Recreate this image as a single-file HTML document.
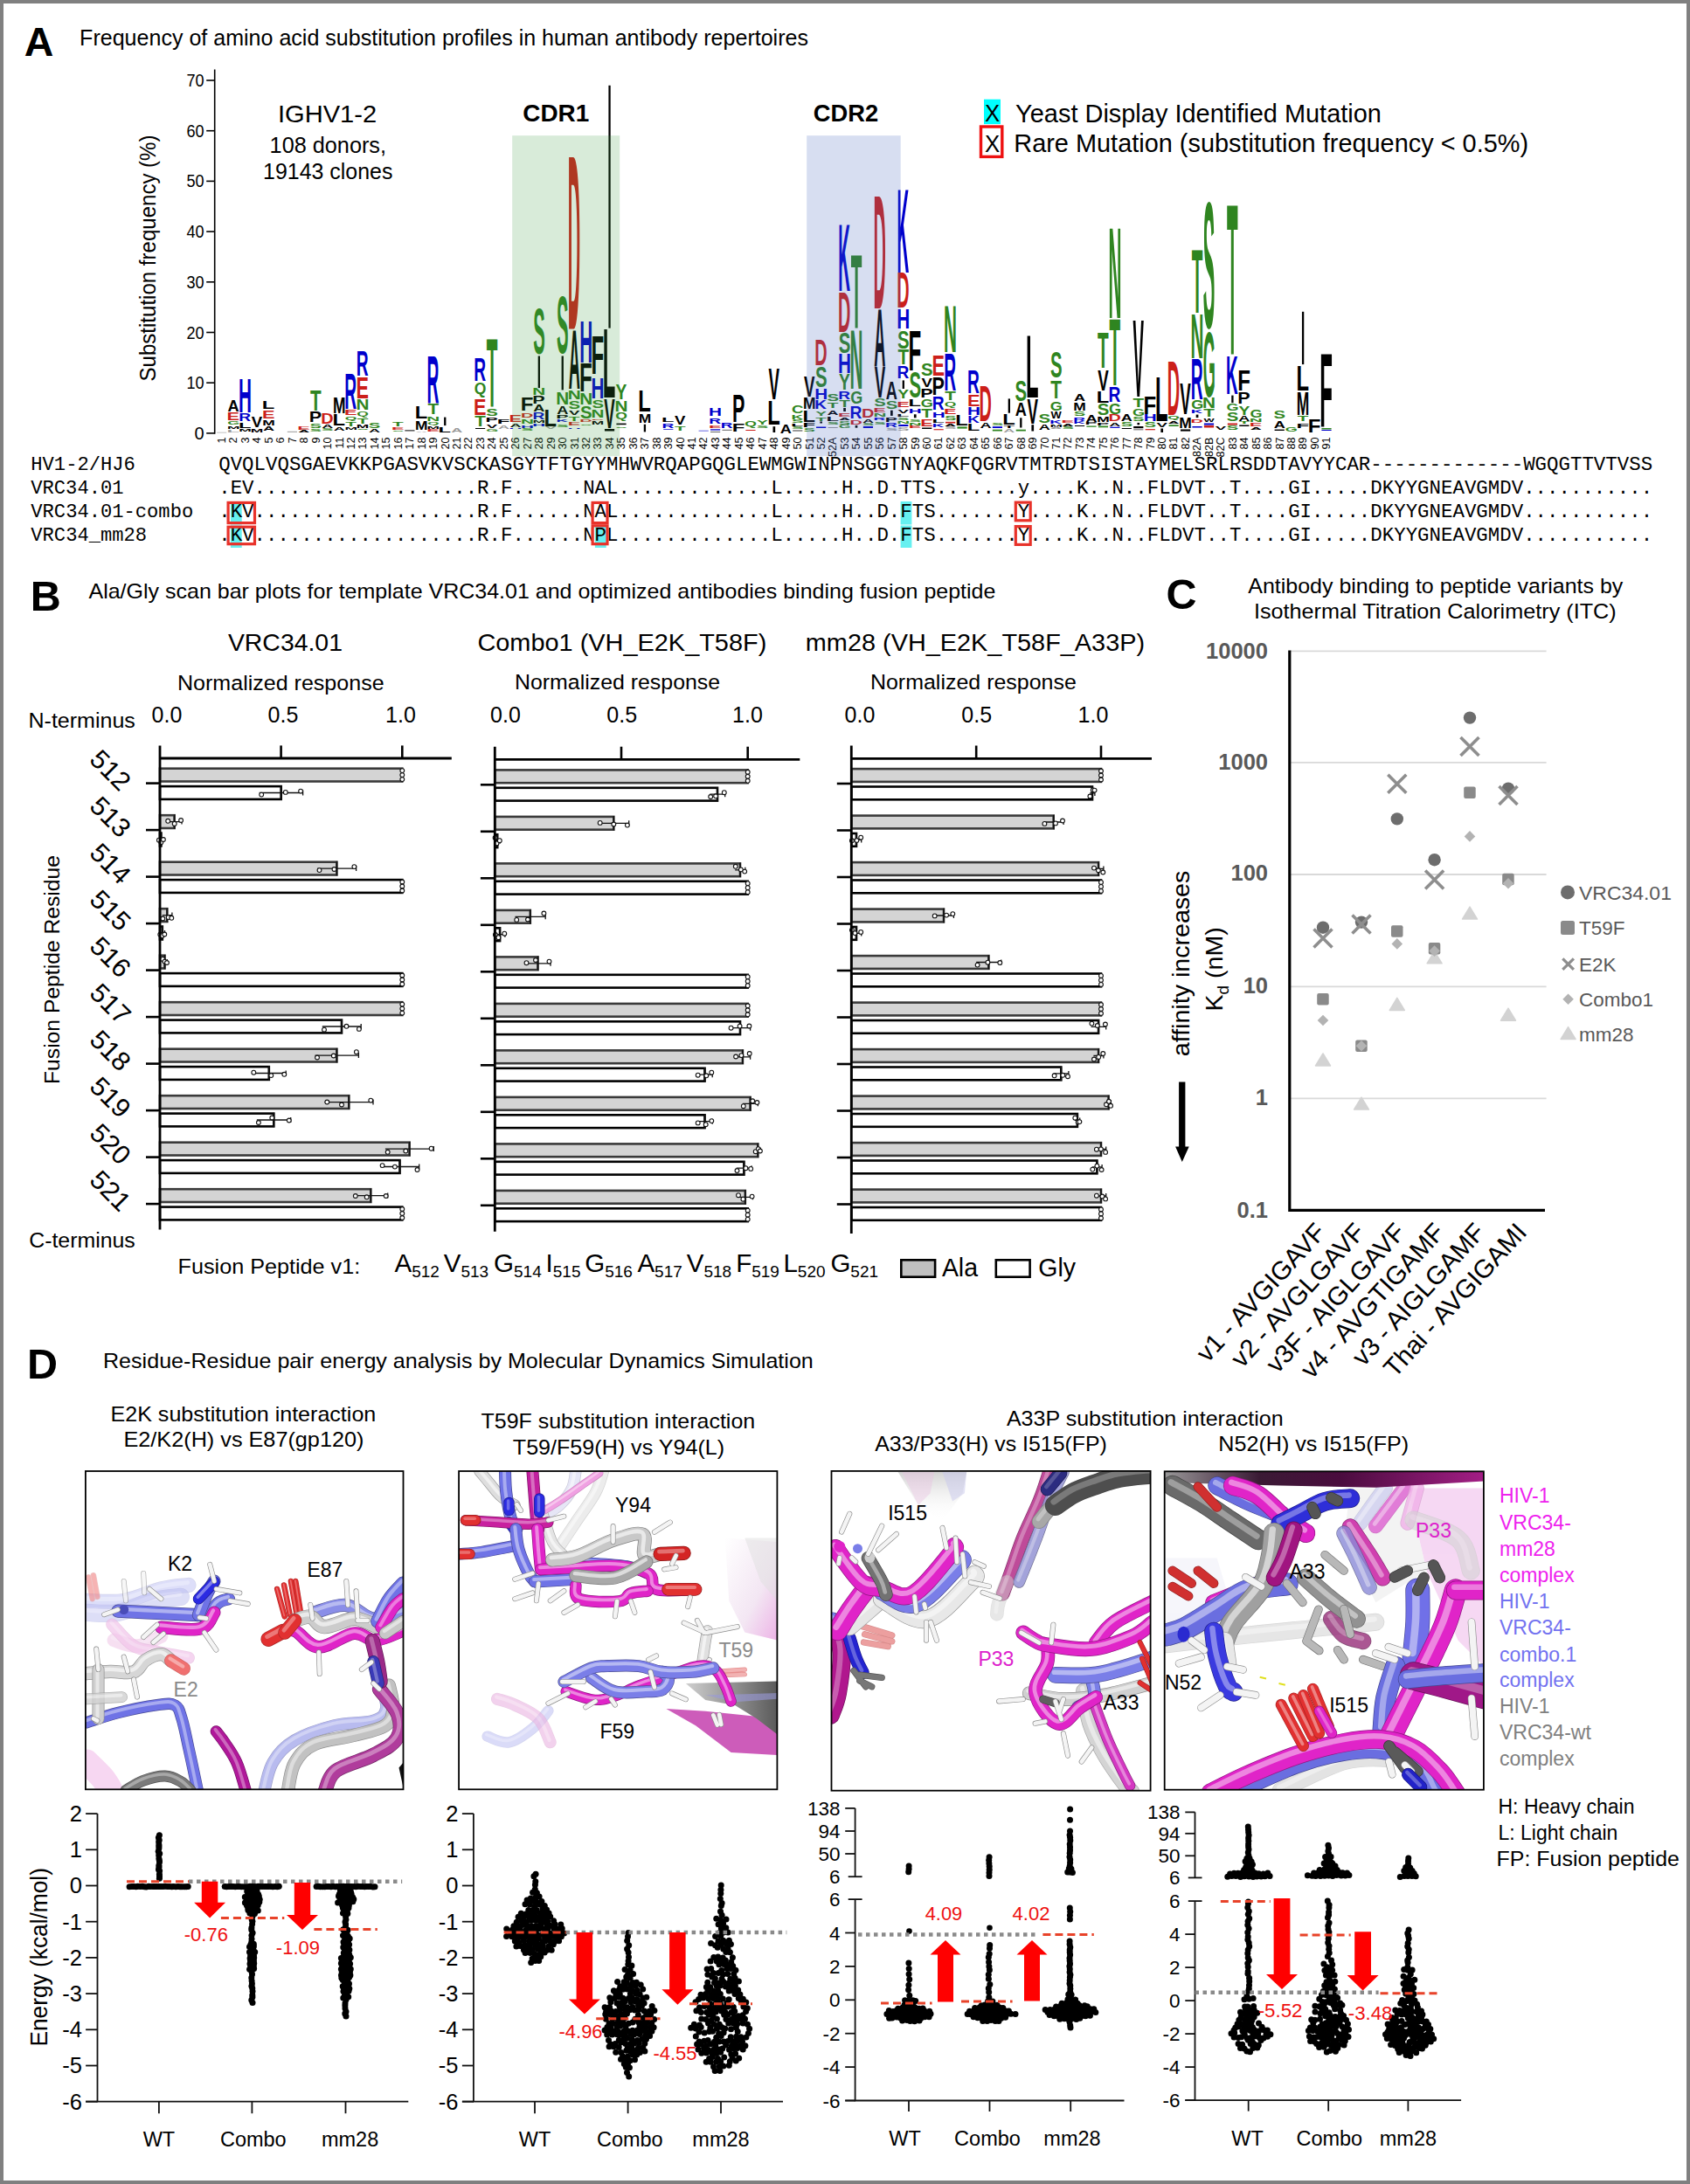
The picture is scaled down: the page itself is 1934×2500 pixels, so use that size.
<!DOCTYPE html>
<html><head><meta charset="utf-8"><title>Figure</title>
<style>
html,body{margin:0;padding:0;background:#fff;}
#fig{position:relative;width:1934px;height:2500px;overflow:hidden;background:#fff;}
#fig svg{position:absolute;left:0;top:0;}
#frame{position:absolute;left:0;top:0;width:1926px;height:2492px;border:4px solid #808080;}
</style></head><body><div id="fig">
<svg width="1934" height="2500" viewBox="0 0 1934 2500" style="font-family:'Liberation Sans',Arial,sans-serif">
<text x="27.7" y="64.1" font-size="46.5" font-weight="bold">A</text>
<text x="91.1" y="51.5" font-size="26.3" textLength="833.9" lengthAdjust="spacingAndGlyphs">Frequency of amino acid substitution profiles in human antibody repertoires</text>
<g stroke="#000" stroke-width="1.6" fill="none">
<path d="M245.7 79.5 V496.7"/>
<path d="M236.2 495.9 H245.7"/>
<path d="M236.2 438.2 H245.7"/>
<path d="M236.2 380.5 H245.7"/>
<path d="M236.2 322.8 H245.7"/>
<path d="M236.2 265.1 H245.7"/>
<path d="M236.2 207.4 H245.7"/>
<path d="M236.2 149.7 H245.7"/>
<path d="M236.2 92.0 H245.7"/>
</g>
<text x="233.6" y="502.9" font-size="20.0" text-anchor="end">0</text>
<text x="233.6" y="445.2" font-size="20.0" text-anchor="end" textLength="20.1" lengthAdjust="spacingAndGlyphs">10</text>
<text x="233.6" y="387.5" font-size="20.0" text-anchor="end" textLength="20.1" lengthAdjust="spacingAndGlyphs">20</text>
<text x="233.6" y="329.8" font-size="20.0" text-anchor="end" textLength="20.1" lengthAdjust="spacingAndGlyphs">30</text>
<text x="233.6" y="272.1" font-size="20.0" text-anchor="end" textLength="20.1" lengthAdjust="spacingAndGlyphs">40</text>
<text x="233.6" y="214.4" font-size="20.0" text-anchor="end" textLength="20.1" lengthAdjust="spacingAndGlyphs">50</text>
<text x="233.6" y="156.7" font-size="20.0" text-anchor="end" textLength="20.1" lengthAdjust="spacingAndGlyphs">60</text>
<text x="233.6" y="99.0" font-size="20.0" text-anchor="end" textLength="20.1" lengthAdjust="spacingAndGlyphs">70</text>
<text transform="translate(178.3 295.5) rotate(-90)" text-anchor="middle" font-size="26.5" textLength="282" lengthAdjust="spacingAndGlyphs">Substitution frequency (%)</text>
<g font-size="1" font-weight="bold" style="font-family:'Liberation Sans',Arial,sans-serif">
<rect x="248.10" y="494.80" width="11.20" height="0.60" fill="#9a9a9a"/>
<text transform="matrix(18.1846 0 0 18.0236 260.60 471.00)" fill="#000000">A</text>
<text transform="matrix(21.7455 0 0 11.9188 259.60 481.00)" fill="#cc1f1a">E</text>
<text transform="matrix(18.0793 0 0 5.0847 260.31 486.35)" fill="#2f8520">G</text>
<text transform="matrix(17.4480 0 0 4.2152 259.88 491.10)" fill="#000000">M</text>
<text transform="matrix(23.7732 0 0 3.6338 259.46 494.50)" fill="#9a9a9a">L</text>
<text transform="matrix(20.7522 0 0 55.0881 273.11 472.20)" fill="#0000cc">H</text>
<text transform="matrix(19.2197 0 0 12.0642 273.21 481.70)" fill="#0000cc">R</text>
<text transform="matrix(23.7732 0 0 9.5932 272.91 490.00)" fill="#000000">L</text>
<text transform="matrix(17.4480 0 0 3.6338 273.33 494.00)" fill="#000000">M</text>
<text transform="matrix(18.6738 0 0 16.4247 287.82 488.80)" fill="#000000">V</text>
<text transform="matrix(17.4480 0 0 6.1048 286.78 494.70)" fill="#000000">M</text>
<text transform="matrix(23.7732 0 0 12.7909 299.81 468.00)" fill="#000000">L</text>
<text transform="matrix(21.7455 0 0 12.9363 299.95 478.70)" fill="#cc1f1a">E</text>
<text transform="matrix(17.4480 0 0 9.4478 300.23 487.00)" fill="#000000">M</text>
<text transform="matrix(18.1846 0 0 6.8315 300.95 492.90)" fill="#000000">A</text>
<rect x="328.80" y="493.80" width="11.20" height="1.00" fill="#9a9a9a"/>
<text transform="matrix(21.7455 0 0 5.0873 340.30 491.70)" fill="#cc1f1a">E</text>
<text transform="matrix(18.1846 0 0 3.4884 341.30 495.30)" fill="#000000">A</text>
<text transform="matrix(20.7177 0 0 33.5762 354.97 469.80)" fill="#2f8520">T</text>
<text transform="matrix(21.5579 0 0 17.1515 353.76 483.40)" fill="#000000">P</text>
<text transform="matrix(20.3632 0 0 6.6383 354.61 490.44)" fill="#2f8520">S</text>
<text transform="matrix(20.3632 0 0 3.5310 354.61 493.97)" fill="#2f8520">S</text>
<text transform="matrix(19.8930 0 0 17.1515 367.32 484.60)" fill="#cc1f1a">D</text>
<text transform="matrix(18.1846 0 0 5.2326 368.20 490.00)" fill="#000000">A</text>
<text transform="matrix(20.3632 0 0 2.8248 368.06 492.97)" fill="#2f8520">S</text>
<text transform="matrix(17.4480 0 0 25.0004 380.93 472.80)" fill="#000000">M</text>
<text transform="matrix(23.7732 0 0 18.8957 380.51 487.00)" fill="#000000">L</text>
<text transform="matrix(18.1846 0 0 6.2501 381.65 492.50)" fill="#000000">A</text>
<text transform="matrix(19.2197 0 0 56.6870 394.26 468.00)" fill="#0000cc">R</text>
<text transform="matrix(21.7455 0 0 8.5757 394.10 475.10)" fill="#cc1f1a">E</text>
<text transform="matrix(17.5584 0 0 5.9217 394.83 481.03)" fill="#2f8520">Q</text>
<text transform="matrix(20.7177 0 0 6.9769 395.32 488.20)" fill="#2f8520">T</text>
<text transform="matrix(17.4480 0 0 3.4884 394.38 491.70)" fill="#000000">M</text>
<text transform="matrix(19.2197 0 0 40.4077 407.71 429.60)" fill="#0000cc">R</text>
<text transform="matrix(21.7455 0 0 35.1750 407.55 455.60)" fill="#cc1f1a">E</text>
<text transform="matrix(20.7522 0 0 17.1515 407.61 469.20)" fill="#2f8520">N</text>
<text transform="matrix(17.5584 0 0 7.2624 408.28 476.07)" fill="#2f8520">Q</text>
<text transform="matrix(20.7177 0 0 8.5757 408.77 484.60)" fill="#2f8520">T</text>
<text transform="matrix(17.4480 0 0 5.2326 407.83 490.00)" fill="#000000">M</text>
<text transform="matrix(20.3632 0 0 2.1186 408.41 492.48)" fill="#2f8520">S</text>
<text transform="matrix(20.3632 0 0 8.3332 421.86 489.92)" fill="#2f8520">S</text>
<text transform="matrix(18.1846 0 0 5.0873 422.00 494.80)" fill="#000000">A</text>
<text transform="matrix(20.7177 0 0 6.8315 449.12 488.30)" fill="#2f8520">T</text>
<text transform="matrix(21.7455 0 0 2.6163 447.90 491.80)" fill="#cc1f1a">E</text>
<text transform="matrix(20.3632 0 0 1.6949 448.76 494.18)" fill="#2f8520">S</text>
<rect x="463.30" y="492.40" width="11.20" height="1.00" fill="#000000"/>
<text transform="matrix(23.7732 0 0 19.7678 474.66 479.40)" fill="#000000">L</text>
<text transform="matrix(17.4480 0 0 14.5351 475.08 491.80)" fill="#000000">M</text>
<text transform="matrix(18.1846 0 0 2.1803 475.80 494.50)" fill="#9a9a9a">A</text>
<text transform="matrix(19.2197 0 0 77.4722 488.41 461.10)" fill="#0000cc">R</text>
<text transform="matrix(20.7177 0 0 16.2793 489.47 474.00)" fill="#2f8520">T</text>
<text transform="matrix(20.7522 0 0 7.4129 488.31 481.50)" fill="#2f8520">N</text>
<text transform="matrix(17.5584 0 0 3.9105 488.98 485.73)" fill="#2f8520">Q</text>
<text transform="matrix(17.4480 0 0 3.3431 488.53 490.60)" fill="#000000">M</text>
<text transform="matrix(21.7455 0 0 2.6163 488.25 493.60)" fill="#cc1f1a">E</text>
<rect x="508.10" y="477.60" width="2.30" height="9.50" fill="#000000"/>
<text transform="matrix(23.7732 0 0 9.4478 501.56 495.40)" fill="#000000">L</text>
<text transform="matrix(18.1846 0 0 7.7036 516.15 494.80)" fill="#9a9a9a">A</text>
<text transform="matrix(19.2197 0 0 36.0471 542.21 436.20)" fill="#0000cc">R</text>
<text transform="matrix(17.5584 0 0 19.1057 542.78 451.34)" fill="#2f8520">Q</text>
<text transform="matrix(21.7455 0 0 25.0004 542.05 474.70)" fill="#cc1f1a">E</text>
<text transform="matrix(20.7177 0 0 16.4247 543.27 488.30)" fill="#2f8520">T</text>
<rect x="544.00" y="490.00" width="11.20" height="1.00" fill="#000000"/>
<text transform="matrix(20.7177 0 0 110.9031 556.72 465.20)" fill="#2f8520">T</text>
<text transform="matrix(20.3632 0 0 11.7230 556.36 475.79)" fill="#2f8520">S</text>
<text transform="matrix(21.5579 0 0 6.9769 555.51 483.00)" fill="#000000">P</text>
<text transform="matrix(18.6738 0 0 6.1048 556.82 489.50)" fill="#000000">V</text>
<text transform="matrix(18.0793 0 0 3.3898 556.21 494.17)" fill="#2f8520">G</text>
<text transform="matrix(24.0477 0 0 7.7036 568.79 485.30)" fill="#000000">F</text>
<text transform="matrix(18.1846 0 0 5.8141 569.95 491.00)" fill="#9a9a9a">A</text>
<text transform="matrix(21.7455 0 0 10.1746 582.40 483.00)" fill="#cc1f1a">E</text>
<text transform="matrix(18.1846 0 0 5.6687 583.40 488.50)" fill="#000000">A</text>
<text transform="matrix(20.7522 0 0 2.1803 582.46 491.00)" fill="#0000cc">H</text>
<text transform="matrix(24.0477 0 0 22.6748 595.69 469.80)" fill="#000000">F</text>
<text transform="matrix(19.8930 0 0 7.9943 595.97 478.40)" fill="#cc1f1a">D</text>
<text transform="matrix(20.7522 0 0 7.7036 595.91 484.70)" fill="#2f8520">N</text>
<text transform="matrix(20.7522 0 0 4.3605 595.91 489.50)" fill="#0000cc">H</text>
<text transform="matrix(20.3632 0 0 2.8248 596.71 492.97)" fill="#2f8520">S</text>
<text transform="matrix(20.3632 0 0 74.8579 610.16 405.27)" fill="#2f8520">S</text>
<rect x="615.70" y="407.50" width="2.30" height="36.60" fill="#000000"/>
<text transform="matrix(20.7522 0 0 11.3374 609.36 451.90)" fill="#2f8520">N</text>
<text transform="matrix(21.5579 0 0 13.5177 609.31 462.00)" fill="#000000">P</text>
<text transform="matrix(18.1846 0 0 10.3199 610.30 471.40)" fill="#000000">A</text>
<text transform="matrix(19.2197 0 0 10.1746 609.46 479.90)" fill="#0000cc">R</text>
<text transform="matrix(17.4480 0 0 3.6338 609.58 484.00)" fill="#000000">M</text>
<text transform="matrix(20.7522 0 0 2.9070 609.36 488.00)" fill="#0000cc">H</text>
<text transform="matrix(23.7732 0 0 28.3435 622.61 487.70)" fill="#000000">L</text>
<text transform="matrix(18.6738 0 0 2.9070 624.07 491.00)" fill="#9a9a9a">V</text>
<text transform="matrix(20.3632 0 0 92.3719 637.06 404.30)" fill="#2f8520">S</text>
<rect x="642.60" y="407.50" width="2.30" height="38.90" fill="#000000"/>
<text transform="matrix(20.7522 0 0 20.3492 636.26 462.80)" fill="#2f8520">N</text>
<text transform="matrix(18.1846 0 0 12.5002 637.20 473.70)" fill="#000000">A</text>
<text transform="matrix(21.5579 0 0 5.8141 636.21 479.30)" fill="#000000">P</text>
<text transform="matrix(18.8856 0 0 3.6338 636.39 483.30)" fill="#0000cc">K</text>
<text transform="matrix(20.3632 0 0 4.2372 637.06 488.96)" fill="#2f8520">S</text>
<text transform="matrix(19.8930 0 0 285.3246 649.77 376.40)" fill="#cc1f1a">D</text>
<text transform="matrix(18.1846 0 0 96.2226 650.65 444.90)" fill="#000000">A</text>
<text transform="matrix(20.7522 0 0 14.8258 649.71 456.60)" fill="#2f8520">N</text>
<text transform="matrix(20.3632 0 0 13.1354 650.51 468.07)" fill="#2f8520">S</text>
<text transform="matrix(18.6738 0 0 7.9943 650.97 475.30)" fill="#000000">V</text>
<text transform="matrix(20.7177 0 0 6.8315 650.87 481.50)" fill="#2f8520">T</text>
<text transform="matrix(21.7455 0 0 4.6512 649.65 487.00)" fill="#cc1f1a">E</text>
<text transform="matrix(20.7522 0 0 2.1803 649.71 490.50)" fill="#0000cc">H</text>
<text transform="matrix(20.7522 0 0 69.0419 663.16 414.50)" fill="#0000cc">H</text>
<text transform="matrix(24.0477 0 0 46.3671 662.94 448.00)" fill="#000000">F</text>
<text transform="matrix(20.7522 0 0 19.1864 663.16 462.80)" fill="#2f8520">N</text>
<text transform="matrix(20.3632 0 0 20.9037 663.96 478.90)" fill="#2f8520">S</text>
<text transform="matrix(19.8930 0 0 3.4884 663.22 483.10)" fill="#cc1f1a">D</text>
<text transform="matrix(20.3632 0 0 2.2599 663.96 486.78)" fill="#2f8520">S</text>
<text transform="matrix(24.0477 0 0 63.3732 676.39 427.70)" fill="#000000">F</text>
<text transform="matrix(20.7522 0 0 32.8494 676.61 455.80)" fill="#0000cc">H</text>
<text transform="matrix(20.3632 0 0 13.2767 677.41 467.37)" fill="#2f8520">S</text>
<text transform="matrix(20.7522 0 0 12.5002 676.61 477.60)" fill="#2f8520">N</text>
<text transform="matrix(19.8930 0 0 2.3256 676.67 480.70)" fill="#cc1f1a">D</text>
<text transform="matrix(17.4480 0 0 4.7966 676.83 485.50)" fill="#000000">M</text>
<rect x="696.40" y="97.80" width="2.30" height="277.80" fill="#000000"/>
<text transform="matrix(23.7732 0 0 113.2287 689.86 455.00)" fill="#000000">L</text>
<text transform="matrix(18.6738 0 0 47.5299 691.32 490.00)" fill="#000000">V</text>
<rect x="691.95" y="491.00" width="11.20" height="2.50" fill="#000000"/>
<text transform="matrix(19.2493 0 0 23.8376 704.57 456.60)" fill="#2f8520">Y</text>
<text transform="matrix(20.7522 0 0 17.0061 703.51 471.40)" fill="#2f8520">N</text>
<text transform="matrix(17.5584 0 0 10.5026 704.18 480.23)" fill="#2f8520">Q</text>
<rect x="705.40" y="484.60" width="11.20" height="1.60" fill="#000000"/>
<text transform="matrix(20.3632 0 0 2.1186 704.31 489.98)" fill="#2f8520">S</text>
<text transform="matrix(23.7732 0 0 35.1750 730.21 470.80)" fill="#000000">L</text>
<text transform="matrix(17.4480 0 0 15.4072 730.63 483.90)" fill="#000000">M</text>
<rect x="736.75" y="485.70" width="2.30" height="8.70" fill="#000000"/>
<text transform="matrix(23.7732 0 0 7.2676 757.11 483.30)" fill="#000000">L</text>
<text transform="matrix(19.2197 0 0 7.2676 757.41 490.10)" fill="#0000cc">R</text>
<rect x="759.20" y="491.30" width="11.20" height="0.70" fill="#0000cc"/>
<text transform="matrix(18.6738 0 0 14.3898 772.02 485.70)" fill="#000000">V</text>
<text transform="matrix(20.7177 0 0 7.2676 771.92 492.60)" fill="#2f8520">T</text>
<rect x="799.55" y="492.80" width="11.20" height="0.60" fill="#0000cc"/>
<text transform="matrix(20.7522 0 0 12.6456 811.11 476.40)" fill="#0000cc">H</text>
<text transform="matrix(19.2197 0 0 9.0118 811.21 485.10)" fill="#0000cc">R</text>
<text transform="matrix(21.7455 0 0 3.6338 811.05 489.50)" fill="#cc1f1a">E</text>
<rect x="813.00" y="491.30" width="11.20" height="1.30" fill="#0000cc"/>
<rect x="813.00" y="494.40" width="11.20" height="0.60" fill="#000000"/>
<text transform="matrix(19.2197 0 0 8.1397 824.66 490.10)" fill="#0000cc">R</text>
<rect x="826.45" y="491.90" width="11.20" height="0.60" fill="#000000"/>
<text transform="matrix(21.5579 0 0 45.0589 837.96 482.60)" fill="#000000">P</text>
<text transform="matrix(24.0477 0 0 12.6456 837.79 493.80)" fill="#000000">F</text>
<text transform="matrix(17.5584 0 0 9.7205 852.13 488.19)" fill="#2f8520">Q</text>
<rect x="853.35" y="492.00" width="11.20" height="1.00" fill="#cc1f1a"/>
<text transform="matrix(19.2493 0 0 7.1222 865.97 485.70)" fill="#2f8520">Y</text>
<text transform="matrix(20.3632 0 0 4.3785 865.71 490.06)" fill="#2f8520">S</text>
<text transform="matrix(18.6738 0 0 50.5823 879.62 457.20)" fill="#000000">V</text>
<text transform="matrix(23.7732 0 0 38.8088 878.16 485.70)" fill="#000000">L</text>
<rect x="884.51" y="488.20" width="2.68" height="6.80" fill="#000000"/>
<text transform="matrix(18.1846 0 0 14.5351 892.75 495.70)" fill="#000000">A</text>
<text transform="matrix(18.6599 0 0 12.2880 905.88 473.18)" fill="#2f8520">C</text>
<text transform="matrix(18.8856 0 0 7.9943 905.39 480.10)" fill="#2f8520">K</text>
<text transform="matrix(20.3632 0 0 4.9434 906.06 484.45)" fill="#2f8520">S</text>
<text transform="matrix(23.7732 0 0 3.1977 905.06 487.70)" fill="#000000">L</text>
<text transform="matrix(20.3632 0 0 3.5310 906.06 490.97)" fill="#2f8520">S</text>
<rect x="907.15" y="492.00" width="11.20" height="2.00" fill="#9a9a9a"/>
<text transform="matrix(18.6738 0 0 32.9947 919.97 453.90)" fill="#000000">V</text>
<text transform="matrix(17.4480 0 0 17.8782 918.93 468.30)" fill="#000000">M</text>
<text transform="matrix(23.7732 0 0 19.0410 918.51 482.80)" fill="#000000">L</text>
<text transform="matrix(24.0477 0 0 7.1222 918.49 489.00)" fill="#000000">F</text>
<text transform="matrix(20.3632 0 0 4.9434 919.51 493.95)" fill="#2f8520">S</text>
<text transform="matrix(19.8930 0 0 42.0065 932.22 418.20)" fill="#cc1f1a">D</text>
<text transform="matrix(20.3632 0 0 33.8979 932.96 443.27)" fill="#2f8520">S</text>
<text transform="matrix(20.7522 0 0 17.0061 932.16 457.40)" fill="#0000cc">H</text>
<text transform="matrix(18.8856 0 0 13.9537 932.29 468.30)" fill="#0000cc">K</text>
<text transform="matrix(19.2493 0 0 7.9943 933.22 475.90)" fill="#2f8520">Y</text>
<text transform="matrix(20.7177 0 0 5.9594 933.32 481.60)" fill="#2f8520">T</text>
<rect x="938.31" y="482.50" width="2.68" height="2.00" fill="#000000"/>
<rect x="934.05" y="488.50" width="11.20" height="1.50" fill="#0000cc"/>
<text transform="matrix(20.3632 0 0 10.5931 946.41 459.30)" fill="#2f8520">S</text>
<text transform="matrix(20.7177 0 0 9.0118 946.77 467.00)" fill="#2f8520">T</text>
<text transform="matrix(18.1846 0 0 6.9769 946.55 475.20)" fill="#000000">A</text>
<text transform="matrix(23.7732 0 0 6.9769 945.41 482.10)" fill="#000000">L</text>
<text transform="matrix(20.3632 0 0 4.0960 946.41 486.36)" fill="#2f8520">S</text>
<rect x="947.50" y="489.00" width="11.20" height="1.00" fill="#9a9a9a"/>
<text transform="matrix(18.8856 0 0 109.8856 959.19 333.00)" fill="#0000cc">K</text>
<text transform="matrix(19.8930 0 0 64.9720 959.12 379.70)" fill="#cc1f1a">D</text>
<text transform="matrix(20.3632 0 0 32.9092 959.86 404.08)" fill="#2f8520">S</text>
<text transform="matrix(20.7522 0 0 30.9598 959.06 427.10)" fill="#0000cc">H</text>
<text transform="matrix(19.2493 0 0 26.0179 960.12 446.40)" fill="#2f8520">Y</text>
<text transform="matrix(19.2197 0 0 13.0816 959.16 457.40)" fill="#0000cc">R</text>
<text transform="matrix(20.7177 0 0 10.0292 960.22 465.60)" fill="#2f8520">T</text>
<rect x="965.21" y="467.00" width="2.68" height="4.00" fill="#000000"/>
<text transform="matrix(21.7455 0 0 5.9594 959.00 477.30)" fill="#cc1f1a">E</text>
<text transform="matrix(18.1846 0 0 3.9245 960.00 481.40)" fill="#000000">A</text>
<text transform="matrix(20.3632 0 0 4.5197 959.86 485.96)" fill="#2f8520">S</text>
<text transform="matrix(18.0793 0 0 4.5197 959.71 489.96)" fill="#2f8520">G</text>
<text transform="matrix(20.7177 0 0 120.9323 973.67 376.30)" fill="#2f8520">T</text>
<text transform="matrix(20.7522 0 0 96.9493 972.51 445.00)" fill="#2f8520">N</text>
<text transform="matrix(18.0793 0 0 20.4800 973.16 462.00)" fill="#2f8520">G</text>
<text transform="matrix(19.2197 0 0 21.0759 972.61 478.70)" fill="#0000cc">R</text>
<text transform="matrix(19.8930 0 0 7.9943 972.57 485.50)" fill="#cc1f1a">D</text>
<rect x="978.66" y="486.90" width="2.68" height="2.80" fill="#000000"/>
<text transform="matrix(19.8930 0 0 14.0991 986.02 478.00)" fill="#cc1f1a">D</text>
<text transform="matrix(18.1846 0 0 6.1048 986.90 483.50)" fill="#000000">A</text>
<text transform="matrix(20.3632 0 0 3.1073 986.76 486.97)" fill="#2f8520">S</text>
<rect x="987.85" y="488.00" width="11.20" height="2.00" fill="#0000cc"/>
<text transform="matrix(19.8930 0 0 184.7415 999.47 352.90)" fill="#cc1f1a">D</text>
<text transform="matrix(18.1846 0 0 93.8969 1000.35 419.60)" fill="#000000">A</text>
<text transform="matrix(18.6738 0 0 49.8555 1000.67 454.60)" fill="#000000">V</text>
<text transform="matrix(20.3632 0 0 12.5705 1000.21 465.48)" fill="#2f8520">S</text>
<text transform="matrix(21.7455 0 0 6.9769 999.35 471.80)" fill="#cc1f1a">E</text>
<text transform="matrix(20.7522 0 0 5.9594 999.41 477.30)" fill="#2f8520">N</text>
<text transform="matrix(19.2197 0 0 3.9245 999.51 481.40)" fill="#0000cc">R</text>
<text transform="matrix(20.3632 0 0 3.8135 1000.21 486.16)" fill="#2f8520">S</text>
<text transform="matrix(18.1846 0 0 30.0877 1013.80 457.40)" fill="#000000">A</text>
<text transform="matrix(20.3632 0 0 12.7117 1013.66 467.58)" fill="#2f8520">S</text>
<rect x="1019.01" y="469.70" width="2.68" height="6.20" fill="#000000"/>
<text transform="matrix(21.5579 0 0 7.9943 1012.81 482.80)" fill="#000000">P</text>
<text transform="matrix(19.2197 0 0 7.1222 1012.96 489.00)" fill="#0000cc">R</text>
<text transform="matrix(20.3632 0 0 3.6723 1013.66 492.96)" fill="#9a9a9a">S</text>
<text transform="matrix(18.8856 0 0 136.7756 1026.44 311.70)" fill="#0000cc">K</text>
<text transform="matrix(19.8930 0 0 56.8324 1026.37 352.20)" fill="#cc1f1a">D</text>
<text transform="matrix(20.7522 0 0 30.9598 1026.31 375.60)" fill="#0000cc">H</text>
<text transform="matrix(20.3632 0 0 30.0844 1027.11 398.71)" fill="#2f8520">S</text>
<text transform="matrix(20.7177 0 0 23.9830 1027.47 416.80)" fill="#2f8520">T</text>
<text transform="matrix(19.2197 0 0 19.9131 1026.41 432.60)" fill="#0000cc">R</text>
<rect x="1032.65" y="435.40" width="2.30" height="9.60" fill="#000000"/>
<text transform="matrix(19.2493 0 0 13.9537 1027.37 456.00)" fill="#2f8520">Y</text>
<text transform="matrix(21.7455 0 0 9.0118 1026.25 466.30)" fill="#cc1f1a">E</text>
<text transform="matrix(18.6738 0 0 6.1048 1027.57 472.50)" fill="#000000">V</text>
<text transform="matrix(23.7732 0 0 4.3605 1026.11 477.00)" fill="#000000">L</text>
<text transform="matrix(20.3632 0 0 4.2372 1027.11 480.96)" fill="#2f8520">S</text>
<text transform="matrix(20.7522 0 0 4.3605 1026.31 485.00)" fill="#2f8520">N</text>
<rect x="1028.20" y="486.00" width="11.20" height="2.00" fill="#0000cc"/>
<text transform="matrix(20.3632 0 0 5.6497 1027.11 492.94)" fill="#9a9a9a">S</text>
<text transform="matrix(24.0477 0 0 65.4081 1039.54 423.80)" fill="#000000">F</text>
<text transform="matrix(20.3632 0 0 42.9374 1040.56 455.38)" fill="#2f8520">S</text>
<text transform="matrix(23.7732 0 0 10.6106 1039.56 465.30)" fill="#000000">L</text>
<text transform="matrix(20.7522 0 0 7.4129 1039.76 472.70)" fill="#0000cc">H</text>
<rect x="1045.91" y="474.30" width="2.68" height="4.00" fill="#000000"/>
<text transform="matrix(20.3632 0 0 4.2372 1040.56 482.96)" fill="#2f8520">S</text>
<text transform="matrix(20.7522 0 0 3.6338 1039.76 486.50)" fill="#2f8520">N</text>
<text transform="matrix(21.7455 0 0 3.6338 1039.70 489.50)" fill="#cc1f1a">E</text>
<text transform="matrix(20.3632 0 0 20.7625 1054.01 429.80)" fill="#2f8520">S</text>
<text transform="matrix(18.6738 0 0 15.5526 1054.47 442.90)" fill="#000000">V</text>
<text transform="matrix(21.5579 0 0 14.6805 1053.16 455.20)" fill="#000000">P</text>
<text transform="matrix(18.0793 0 0 12.7117 1053.86 466.38)" fill="#2f8520">G</text>
<text transform="matrix(20.7177 0 0 13.8084 1054.37 477.70)" fill="#2f8520">T</text>
<text transform="matrix(21.7455 0 0 11.3374 1053.15 487.80)" fill="#cc1f1a">E</text>
<rect x="1055.10" y="489.50" width="11.20" height="1.50" fill="#000000"/>
<text transform="matrix(21.7455 0 0 32.7040 1066.60 430.00)" fill="#cc1f1a">E</text>
<text transform="matrix(21.5579 0 0 29.3610 1066.61 452.40)" fill="#000000">P</text>
<text transform="matrix(19.2197 0 0 21.2213 1066.76 469.30)" fill="#0000cc">R</text>
<text transform="matrix(20.7522 0 0 9.7385 1066.66 477.70)" fill="#0000cc">H</text>
<text transform="matrix(23.7732 0 0 5.6687 1066.46 483.90)" fill="#000000">L</text>
<text transform="matrix(18.8856 0 0 4.9419 1066.79 489.00)" fill="#0000cc">K</text>
<rect x="1068.55" y="491.20" width="11.20" height="1.10" fill="#cc1f1a"/>
<text transform="matrix(20.7522 0 0 76.8908 1080.11 403.00)" fill="#2f8520">N</text>
<text transform="matrix(19.2197 0 0 61.3383 1080.21 446.80)" fill="#0000cc">R</text>
<text transform="matrix(20.7177 0 0 13.8084 1081.27 458.00)" fill="#2f8520">T</text>
<text transform="matrix(17.5584 0 0 6.9272 1080.78 464.54)" fill="#2f8520">Q</text>
<text transform="matrix(21.7455 0 0 9.0118 1080.05 473.80)" fill="#cc1f1a">E</text>
<text transform="matrix(20.3632 0 0 7.2033 1080.91 481.03)" fill="#2f8520">S</text>
<rect x="1082.00" y="482.80" width="11.20" height="1.70" fill="#cc1f1a"/>
<text transform="matrix(18.1846 0 0 3.6338 1081.05 488.00)" fill="#000000">A</text>
<text transform="matrix(20.3632 0 0 2.8248 1080.91 490.97)" fill="#9a9a9a">S</text>
<text transform="matrix(23.7732 0 0 17.1515 1093.36 487.30)" fill="#000000">L</text>
<rect x="1095.45" y="488.40" width="11.20" height="2.20" fill="#2f8520"/>
<text transform="matrix(19.2197 0 0 37.6460 1107.11 450.20)" fill="#0000cc">R</text>
<text transform="matrix(21.7455 0 0 18.0236 1106.95 464.80)" fill="#cc1f1a">E</text>
<text transform="matrix(20.7522 0 0 12.2095 1107.01 474.90)" fill="#0000cc">H</text>
<text transform="matrix(18.8856 0 0 10.6106 1107.14 483.90)" fill="#0000cc">K</text>
<text transform="matrix(23.7732 0 0 10.6106 1106.81 492.90)" fill="#000000">L</text>
<text transform="matrix(19.8930 0 0 57.1231 1120.52 482.20)" fill="#cc1f1a">D</text>
<text transform="matrix(18.1846 0 0 9.0118 1121.40 490.10)" fill="#000000">A</text>
<text transform="matrix(20.3632 0 0 3.1073 1134.71 486.67)" fill="#2f8520">S</text>
<rect x="1135.80" y="488.20" width="11.20" height="1.80" fill="#0000cc"/>
<rect x="1135.80" y="491.70" width="11.20" height="1.80" fill="#2f8520"/>
<rect x="1153.70" y="456.40" width="2.30" height="16.30" fill="#000000"/>
<text transform="matrix(23.7732 0 0 17.2968 1147.16 486.20)" fill="#000000">L</text>
<text transform="matrix(20.7177 0 0 4.3605 1148.52 490.00)" fill="#000000">T</text>
<text transform="matrix(18.1846 0 0 5.8141 1148.30 495.00)" fill="#9a9a9a">A</text>
<text transform="matrix(20.3632 0 0 32.6268 1161.61 458.88)" fill="#2f8520">S</text>
<text transform="matrix(18.1846 0 0 21.2213 1161.75 476.00)" fill="#000000">A</text>
<rect x="1167.15" y="478.30" width="2.30" height="11.20" fill="#000000"/>
<rect x="1162.70" y="491.70" width="11.20" height="1.80" fill="#2f8520"/>
<text transform="matrix(23.7732 0 0 101.3099 1174.06 455.20)" fill="#000000">L</text>
<text transform="matrix(18.6738 0 0 40.8437 1175.52 485.00)" fill="#000000">V</text>
<rect x="1180.41" y="486.20" width="2.68" height="7.30" fill="#000000"/>
<text transform="matrix(20.3632 0 0 14.4066 1188.51 484.36)" fill="#2f8520">S</text>
<text transform="matrix(18.1846 0 0 8.1397 1188.65 492.30)" fill="#000000">A</text>
<text transform="matrix(20.3632 0 0 41.9487 1201.96 432.29)" fill="#2f8520">S</text>
<text transform="matrix(20.7177 0 0 30.2331 1202.32 455.80)" fill="#2f8520">T</text>
<text transform="matrix(18.0793 0 0 14.9716 1201.81 469.65)" fill="#2f8520">G</text>
<text transform="matrix(12.9526 0 0 10.6106 1202.54 479.40)" fill="#000000">W</text>
<text transform="matrix(18.8856 0 0 4.9419 1201.29 484.50)" fill="#0000cc">K</text>
<text transform="matrix(17.4480 0 0 3.6338 1201.38 488.50)" fill="#000000">M</text>
<text transform="matrix(18.1846 0 0 2.9070 1202.10 491.00)" fill="#9a9a9a">A</text>
<text transform="matrix(21.7455 0 0 4.0698 1214.55 483.90)" fill="#cc1f1a">E</text>
<text transform="matrix(18.1846 0 0 3.6338 1215.55 487.50)" fill="#000000">A</text>
<text transform="matrix(20.3632 0 0 3.5310 1215.41 490.97)" fill="#2f8520">S</text>
<text transform="matrix(18.1846 0 0 11.1921 1229.00 458.90)" fill="#000000">A</text>
<text transform="matrix(17.4480 0 0 12.0642 1228.28 469.60)" fill="#000000">M</text>
<text transform="matrix(20.3632 0 0 6.7796 1228.86 476.13)" fill="#2f8520">S</text>
<text transform="matrix(19.2197 0 0 5.9594 1228.16 482.10)" fill="#0000cc">R</text>
<text transform="matrix(18.8856 0 0 3.4884 1228.19 485.10)" fill="#0000cc">K</text>
<rect x="1229.95" y="487.00" width="11.20" height="1.00" fill="#000000"/>
<text transform="matrix(18.1846 0 0 11.1921 1242.45 482.70)" fill="#000000">A</text>
<text transform="matrix(21.5579 0 0 3.4884 1241.46 486.30)" fill="#000000">P</text>
<rect x="1243.40" y="487.50" width="11.20" height="1.30" fill="#2f8520"/>
<text transform="matrix(20.7177 0 0 57.1231 1256.12 421.40)" fill="#2f8520">T</text>
<text transform="matrix(18.6738 0 0 33.7215 1256.22 447.00)" fill="#000000">V</text>
<text transform="matrix(23.7732 0 0 18.1689 1254.76 461.30)" fill="#000000">L</text>
<text transform="matrix(20.3632 0 0 17.6552 1255.76 475.43)" fill="#2f8520">S</text>
<text transform="matrix(17.4480 0 0 9.4478 1255.18 483.30)" fill="#000000">M</text>
<text transform="matrix(21.5579 0 0 3.4884 1254.91 486.90)" fill="#000000">P</text>
<rect x="1256.85" y="487.50" width="11.20" height="1.80" fill="#2f8520"/>
<text transform="matrix(20.7522 0 0 148.8397 1268.41 363.70)" fill="#2f8520">N</text>
<text transform="matrix(20.7177 0 0 109.0135 1269.57 440.50)" fill="#2f8520">T</text>
<text transform="matrix(19.2197 0 0 24.1283 1268.51 459.50)" fill="#0000cc">R</text>
<text transform="matrix(18.0793 0 0 16.8077 1269.06 473.64)" fill="#2f8520">G</text>
<text transform="matrix(19.8930 0 0 10.3199 1268.47 482.10)" fill="#cc1f1a">D</text>
<text transform="matrix(18.1846 0 0 6.1048 1269.35 487.50)" fill="#000000">A</text>
<rect x="1270.30" y="488.70" width="11.20" height="1.20" fill="#0000cc"/>
<text transform="matrix(18.1846 0 0 11.1921 1282.80 482.10)" fill="#000000">A</text>
<text transform="matrix(20.3632 0 0 6.7796 1282.66 488.03)" fill="#2f8520">S</text>
<rect x="1283.75" y="490.00" width="11.20" height="1.00" fill="#000000"/>
<text transform="matrix(18.6738 0 0 125.4382 1296.57 453.60)" fill="#000000">V</text>
<text transform="matrix(20.7177 0 0 15.5526 1296.47 466.10)" fill="#2f8520">T</text>
<text transform="matrix(18.0793 0 0 11.7230 1295.96 476.09)" fill="#2f8520">G</text>
<text transform="matrix(20.3632 0 0 6.6383 1296.11 482.04)" fill="#2f8520">S</text>
<rect x="1301.46" y="483.90" width="2.68" height="2.40" fill="#000000"/>
<rect x="1297.20" y="488.00" width="11.20" height="2.00" fill="#000000"/>
<rect x="1297.20" y="490.50" width="11.20" height="2.00" fill="#9a9a9a"/>
<text transform="matrix(24.0477 0 0 29.3610 1308.54 473.80)" fill="#000000">F</text>
<text transform="matrix(20.7522 0 0 11.1921 1308.76 482.10)" fill="#0000cc">H</text>
<text transform="matrix(20.3632 0 0 8.4745 1309.56 489.22)" fill="#2f8520">S</text>
<rect x="1310.65" y="491.10" width="11.20" height="1.20" fill="#cc1f1a"/>
<text transform="matrix(23.7732 0 0 72.6757 1322.01 481.50)" fill="#000000">L</text>
<text transform="matrix(18.6738 0 0 6.9769 1323.47 488.70)" fill="#000000">V</text>
<rect x="1328.36" y="490.50" width="2.68" height="4.50" fill="#000000"/>
<text transform="matrix(19.8930 0 0 89.1004 1335.72 475.00)" fill="#cc1f1a">D</text>
<text transform="matrix(17.5584 0 0 5.2513 1336.33 480.47)" fill="#2f8520">Q</text>
<text transform="matrix(18.1846 0 0 3.4884 1336.60 485.10)" fill="#000000">A</text>
<rect x="1337.55" y="486.30" width="11.20" height="1.70" fill="#2f8520"/>
<text transform="matrix(18.6738 0 0 50.5823 1350.37 473.90)" fill="#000000">V</text>
<text transform="matrix(17.4480 0 0 16.5700 1349.33 489.50)" fill="#000000">M</text>
<rect x="1351.00" y="491.50" width="11.20" height="2.10" fill="#000000"/>
<text transform="matrix(20.7177 0 0 104.0715 1363.72 357.50)" fill="#2f8520">T</text>
<text transform="matrix(20.7522 0 0 72.0943 1362.56 410.00)" fill="#2f8520">N</text>
<text transform="matrix(19.2197 0 0 65.9895 1362.66 456.80)" fill="#0000cc">R</text>
<text transform="matrix(18.0793 0 0 13.9829 1363.21 468.06)" fill="#2f8520">G</text>
<text transform="matrix(18.8856 0 0 6.2501 1362.69 473.20)" fill="#0000cc">K</text>
<rect x="1368.71" y="474.60" width="2.68" height="3.50" fill="#000000"/>
<text transform="matrix(19.8930 0 0 5.2326 1362.62 483.80)" fill="#cc1f1a">D</text>
<rect x="1364.45" y="488.00" width="11.20" height="1.50" fill="#0000cc"/>
<text transform="matrix(20.3632 0 0 206.4949 1376.81 374.68)" fill="#2f8520">S</text>
<text transform="matrix(18.0793 0 0 106.2135 1376.66 453.66)" fill="#2f8520">G</text>
<text transform="matrix(20.7522 0 0 16.5700 1376.01 466.80)" fill="#2f8520">N</text>
<text transform="matrix(20.7177 0 0 13.3723 1377.17 476.70)" fill="#2f8520">T</text>
<text transform="matrix(12.9526 0 0 6.2501 1377.39 483.10)" fill="#000000">W</text>
<rect x="1377.90" y="484.50" width="11.20" height="2.00" fill="#0000cc"/>
<rect x="1377.90" y="487.00" width="11.20" height="2.50" fill="#cc1f1a"/>
<text transform="matrix(18.6738 0 0 6.2501 1390.72 492.30)" fill="#000000">V</text>
<text transform="matrix(20.7177 0 0 246.5158 1404.07 405.80)" fill="#2f8520">T</text>
<text transform="matrix(18.8856 0 0 62.9371 1403.04 450.50)" fill="#0000cc">K</text>
<rect x="1409.25" y="452.60" width="2.30" height="8.50" fill="#000000"/>
<text transform="matrix(18.0793 0 0 11.0168 1403.56 470.19)" fill="#2f8520">G</text>
<text transform="matrix(20.3632 0 0 14.9716 1403.71 482.25)" fill="#2f8520">S</text>
<rect x="1404.80" y="484.50" width="11.20" height="2.00" fill="#cc1f1a"/>
<text transform="matrix(20.3632 0 0 7.4858 1403.71 492.23)" fill="#2f8520">S</text>
<text transform="matrix(24.0477 0 0 32.9947 1416.14 446.90)" fill="#000000">F</text>
<text transform="matrix(21.5579 0 0 17.4422 1416.31 461.80)" fill="#000000">P</text>
<text transform="matrix(19.2493 0 0 15.4072 1417.42 474.60)" fill="#2f8520">Y</text>
<text transform="matrix(18.1846 0 0 8.2850 1417.30 482.40)" fill="#000000">A</text>
<text transform="matrix(20.7177 0 0 3.0524 1417.52 485.20)" fill="#2f8520">T</text>
<rect x="1418.25" y="486.50" width="11.20" height="1.50" fill="#000000"/>
<text transform="matrix(18.0793 0 0 12.0055 1430.46 477.98)" fill="#2f8520">G</text>
<text transform="matrix(20.7522 0 0 6.2501 1429.81 483.10)" fill="#2f8520">N</text>
<text transform="matrix(21.7455 0 0 6.2501 1429.75 488.10)" fill="#cc1f1a">E</text>
<text transform="matrix(18.1846 0 0 4.0698 1430.75 492.30)" fill="#000000">A</text>
<text transform="matrix(20.3632 0 0 12.0055 1457.51 479.38)" fill="#2f8520">S</text>
<text transform="matrix(18.1846 0 0 11.3374 1457.65 490.20)" fill="#000000">A</text>
<rect x="1458.60" y="491.60" width="11.20" height="1.40" fill="#000000"/>
<text transform="matrix(18.0793 0 0 8.0508 1470.81 494.42)" fill="#2f8520">G</text>
<rect x="1489.95" y="356.80" width="2.30" height="60.30" fill="#000000"/>
<text transform="matrix(23.7732 0 0 40.2623 1483.41 446.90)" fill="#000000">L</text>
<text transform="matrix(17.4480 0 0 37.2099 1483.83 474.60)" fill="#000000">M</text>
<text transform="matrix(20.7177 0 0 9.3025 1484.77 482.40)" fill="#2f8520">T</text>
<text transform="matrix(24.0477 0 0 7.2676 1483.39 490.20)" fill="#000000">F</text>
<text transform="matrix(24.0477 0 0 22.8202 1496.84 494.50)" fill="#000000">F</text>
<text transform="matrix(24.0477 0 0 120.6416 1510.29 488.80)" fill="#000000">F</text>
<rect x="1512.40" y="490.00" width="11.20" height="1.50" fill="#2f8520"/>
<rect x="1512.40" y="492.00" width="11.20" height="1.00" fill="#0000cc"/>
</g>
<g font-size="12.6" style="font-family:'Liberation Sans',Arial,sans-serif">
<text transform="translate(258.00 500.5) rotate(-90)" text-anchor="end">1</text>
<text transform="translate(271.45 500.5) rotate(-90)" text-anchor="end">2</text>
<text transform="translate(284.90 500.5) rotate(-90)" text-anchor="end">3</text>
<text transform="translate(298.35 500.5) rotate(-90)" text-anchor="end">4</text>
<text transform="translate(311.80 500.5) rotate(-90)" text-anchor="end">5</text>
<text transform="translate(325.25 500.5) rotate(-90)" text-anchor="end">6</text>
<text transform="translate(338.70 500.5) rotate(-90)" text-anchor="end">7</text>
<text transform="translate(352.15 500.5) rotate(-90)" text-anchor="end">8</text>
<text transform="translate(365.60 500.5) rotate(-90)" text-anchor="end">9</text>
<text transform="translate(379.05 500.5) rotate(-90)" text-anchor="end">10</text>
<text transform="translate(392.50 500.5) rotate(-90)" text-anchor="end">11</text>
<text transform="translate(405.95 500.5) rotate(-90)" text-anchor="end">12</text>
<text transform="translate(419.40 500.5) rotate(-90)" text-anchor="end">13</text>
<text transform="translate(432.85 500.5) rotate(-90)" text-anchor="end">14</text>
<text transform="translate(446.30 500.5) rotate(-90)" text-anchor="end">15</text>
<text transform="translate(459.75 500.5) rotate(-90)" text-anchor="end">16</text>
<text transform="translate(473.20 500.5) rotate(-90)" text-anchor="end">17</text>
<text transform="translate(486.65 500.5) rotate(-90)" text-anchor="end">18</text>
<text transform="translate(500.10 500.5) rotate(-90)" text-anchor="end">19</text>
<text transform="translate(513.55 500.5) rotate(-90)" text-anchor="end">20</text>
<text transform="translate(527.00 500.5) rotate(-90)" text-anchor="end">21</text>
<text transform="translate(540.45 500.5) rotate(-90)" text-anchor="end">22</text>
<text transform="translate(553.90 500.5) rotate(-90)" text-anchor="end">23</text>
<text transform="translate(567.35 500.5) rotate(-90)" text-anchor="end">24</text>
<text transform="translate(580.80 500.5) rotate(-90)" text-anchor="end">25</text>
<text transform="translate(594.25 500.5) rotate(-90)" text-anchor="end">26</text>
<text transform="translate(607.70 500.5) rotate(-90)" text-anchor="end">27</text>
<text transform="translate(621.15 500.5) rotate(-90)" text-anchor="end">28</text>
<text transform="translate(634.60 500.5) rotate(-90)" text-anchor="end">29</text>
<text transform="translate(648.05 500.5) rotate(-90)" text-anchor="end">30</text>
<text transform="translate(661.50 500.5) rotate(-90)" text-anchor="end">31</text>
<text transform="translate(674.95 500.5) rotate(-90)" text-anchor="end">32</text>
<text transform="translate(688.40 500.5) rotate(-90)" text-anchor="end">33</text>
<text transform="translate(701.85 500.5) rotate(-90)" text-anchor="end">34</text>
<text transform="translate(715.30 500.5) rotate(-90)" text-anchor="end">35</text>
<text transform="translate(728.75 500.5) rotate(-90)" text-anchor="end">36</text>
<text transform="translate(742.20 500.5) rotate(-90)" text-anchor="end">37</text>
<text transform="translate(755.65 500.5) rotate(-90)" text-anchor="end">38</text>
<text transform="translate(769.10 500.5) rotate(-90)" text-anchor="end">39</text>
<text transform="translate(782.55 500.5) rotate(-90)" text-anchor="end">40</text>
<text transform="translate(796.00 500.5) rotate(-90)" text-anchor="end">41</text>
<text transform="translate(809.45 500.5) rotate(-90)" text-anchor="end">42</text>
<text transform="translate(822.90 500.5) rotate(-90)" text-anchor="end">43</text>
<text transform="translate(836.35 500.5) rotate(-90)" text-anchor="end">44</text>
<text transform="translate(849.80 500.5) rotate(-90)" text-anchor="end">45</text>
<text transform="translate(863.25 500.5) rotate(-90)" text-anchor="end">46</text>
<text transform="translate(876.70 500.5) rotate(-90)" text-anchor="end">47</text>
<text transform="translate(890.15 500.5) rotate(-90)" text-anchor="end">48</text>
<text transform="translate(903.60 500.5) rotate(-90)" text-anchor="end">49</text>
<text transform="translate(917.05 500.5) rotate(-90)" text-anchor="end">50</text>
<text transform="translate(930.50 500.5) rotate(-90)" text-anchor="end">51</text>
<text transform="translate(943.95 500.5) rotate(-90)" text-anchor="end">52</text>
<text transform="translate(957.40 500.5) rotate(-90)" text-anchor="end">52A</text>
<text transform="translate(970.85 500.5) rotate(-90)" text-anchor="end">53</text>
<text transform="translate(984.30 500.5) rotate(-90)" text-anchor="end">54</text>
<text transform="translate(997.75 500.5) rotate(-90)" text-anchor="end">55</text>
<text transform="translate(1011.20 500.5) rotate(-90)" text-anchor="end">56</text>
<text transform="translate(1024.65 500.5) rotate(-90)" text-anchor="end">57</text>
<text transform="translate(1038.10 500.5) rotate(-90)" text-anchor="end">58</text>
<text transform="translate(1051.55 500.5) rotate(-90)" text-anchor="end">59</text>
<text transform="translate(1065.00 500.5) rotate(-90)" text-anchor="end">60</text>
<text transform="translate(1078.45 500.5) rotate(-90)" text-anchor="end">61</text>
<text transform="translate(1091.90 500.5) rotate(-90)" text-anchor="end">62</text>
<text transform="translate(1105.35 500.5) rotate(-90)" text-anchor="end">63</text>
<text transform="translate(1118.80 500.5) rotate(-90)" text-anchor="end">64</text>
<text transform="translate(1132.25 500.5) rotate(-90)" text-anchor="end">65</text>
<text transform="translate(1145.70 500.5) rotate(-90)" text-anchor="end">66</text>
<text transform="translate(1159.15 500.5) rotate(-90)" text-anchor="end">67</text>
<text transform="translate(1172.60 500.5) rotate(-90)" text-anchor="end">68</text>
<text transform="translate(1186.05 500.5) rotate(-90)" text-anchor="end">69</text>
<text transform="translate(1199.50 500.5) rotate(-90)" text-anchor="end">70</text>
<text transform="translate(1212.95 500.5) rotate(-90)" text-anchor="end">71</text>
<text transform="translate(1226.40 500.5) rotate(-90)" text-anchor="end">72</text>
<text transform="translate(1239.85 500.5) rotate(-90)" text-anchor="end">73</text>
<text transform="translate(1253.30 500.5) rotate(-90)" text-anchor="end">74</text>
<text transform="translate(1266.75 500.5) rotate(-90)" text-anchor="end">75</text>
<text transform="translate(1280.20 500.5) rotate(-90)" text-anchor="end">76</text>
<text transform="translate(1293.65 500.5) rotate(-90)" text-anchor="end">77</text>
<text transform="translate(1307.10 500.5) rotate(-90)" text-anchor="end">78</text>
<text transform="translate(1320.55 500.5) rotate(-90)" text-anchor="end">79</text>
<text transform="translate(1334.00 500.5) rotate(-90)" text-anchor="end">80</text>
<text transform="translate(1347.45 500.5) rotate(-90)" text-anchor="end">81</text>
<text transform="translate(1360.90 500.5) rotate(-90)" text-anchor="end">82</text>
<text transform="translate(1374.35 500.5) rotate(-90)" text-anchor="end">82A</text>
<text transform="translate(1387.80 500.5) rotate(-90)" text-anchor="end">82B</text>
<text transform="translate(1401.25 500.5) rotate(-90)" text-anchor="end">82C</text>
<text transform="translate(1414.70 500.5) rotate(-90)" text-anchor="end">83</text>
<text transform="translate(1428.15 500.5) rotate(-90)" text-anchor="end">84</text>
<text transform="translate(1441.60 500.5) rotate(-90)" text-anchor="end">85</text>
<text transform="translate(1455.05 500.5) rotate(-90)" text-anchor="end">86</text>
<text transform="translate(1468.50 500.5) rotate(-90)" text-anchor="end">87</text>
<text transform="translate(1481.95 500.5) rotate(-90)" text-anchor="end">88</text>
<text transform="translate(1495.40 500.5) rotate(-90)" text-anchor="end">89</text>
<text transform="translate(1508.85 500.5) rotate(-90)" text-anchor="end">90</text>
<text transform="translate(1522.30 500.5) rotate(-90)" text-anchor="end">91</text>
</g>
<rect x="586.2" y="155.2" width="123" height="367" fill="#3a9a42" fill-opacity="0.2"/>
<rect x="923.2" y="155.2" width="107.5" height="367" fill="#4a6ac0" fill-opacity="0.22"/>
<text x="317.9" y="139.5" font-size="27.5" textLength="113.3" lengthAdjust="spacingAndGlyphs">IGHV1-2</text>
<text x="308.6" y="174.8" font-size="25.5" textLength="133.4" lengthAdjust="spacingAndGlyphs">108 donors,</text>
<text x="301.1" y="205.4" font-size="25.5" textLength="148.3" lengthAdjust="spacingAndGlyphs">19143 clones</text>
<text x="598.3" y="139.0" font-size="28.5" font-weight="bold" textLength="76.0" lengthAdjust="spacingAndGlyphs">CDR1</text>
<text x="930.8" y="139.0" font-size="28.5" font-weight="bold" textLength="74.4" lengthAdjust="spacingAndGlyphs">CDR2</text>
<rect x="1126" y="113.7" width="19" height="28.4" fill="#00ffff"/>
<text x="1126.9" y="139.3" font-size="28.0" textLength="17.2" lengthAdjust="spacingAndGlyphs">X</text>
<rect x="1122.5" y="145" width="24.3" height="34.4" fill="none" stroke="#ee1111" stroke-width="3.4"/>
<text x="1126.9" y="174.0" font-size="28.0" textLength="17.2" lengthAdjust="spacingAndGlyphs">X</text>
<text x="1162.1" y="139.7" font-size="29.0" textLength="418.8" lengthAdjust="spacingAndGlyphs">Yeast Display Identified Mutation</text>
<text x="1160.3" y="174.0" font-size="29.0" textLength="588.8" lengthAdjust="spacingAndGlyphs">Rare Mutation (substitution frequency &lt; 0.5%)</text>
<rect x="263.9" y="576.0" width="12.8" height="24.5" fill="#66f0f0"/>
<rect x="1030.6" y="574.0" width="12.8" height="26.5" fill="#66f0f0"/>
<rect x="263.9" y="601.5" width="12.8" height="25.5" fill="#66f0f0"/>
<rect x="680.9" y="601.5" width="12.8" height="25.5" fill="#66f0f0"/>
<rect x="1030.6" y="601.5" width="12.8" height="25.5" fill="#66f0f0"/>
<g style="font-family:'Liberation Mono','Courier New',monospace" font-size="22.4">
<text x="35.3" y="538.4" textLength="119.5" lengthAdjust="spacingAndGlyphs">HV1-2/HJ6</text>
<text x="35.3" y="564.9" textLength="106.2" lengthAdjust="spacingAndGlyphs">VRC34.01</text>
<text x="35.3" y="591.9" textLength="185.9" lengthAdjust="spacingAndGlyphs">VRC34.01-combo</text>
<text x="35.3" y="618.9" textLength="132.8" lengthAdjust="spacingAndGlyphs">VRC34_mm28</text>
<text x="250.2" y="538.4" textLength="1640.9" lengthAdjust="spacingAndGlyphs">QVQLVQSGAEVKKPGASVKVSCKASGYTFTGYYMHWVRQAPGQGLEWMGWINPNSGGTNYAQKFQGRVTMTRDTSISTAYMELSRLRSDDTAVYYCAR-------------WGQGTTVTVSS</text>
<text x="250.2" y="564.9" textLength="1640.9" lengthAdjust="spacingAndGlyphs">.EV...................R.F......NAL.............L.....H..D.TTS.......y....K..N..FLDVT..T....GI.....DKYYGNEAVGMDV...........</text>
<text x="250.2" y="591.9" textLength="1640.9" lengthAdjust="spacingAndGlyphs">.KV...................R.F......NAL.............L.....H..D.FTS.......Y....K..N..FLDVT..T....GI.....DKYYGNEAVGMDV...........</text>
<text x="250.2" y="618.9" textLength="1640.9" lengthAdjust="spacingAndGlyphs">.KV...................R.F......NPL.............L.....H..D.FTS.......Y....K..N..FLDVT..T....GI.....DKYYGNEAVGMDV...........</text>
</g>
<g fill="none" stroke="#e8322a" stroke-width="3.2">
<rect x="261.1" y="575.4" width="30.4" height="23.2"/>
<rect x="261.1" y="603.2" width="30.4" height="19.5"/>
<rect x="678.1" y="575.4" width="16.9" height="23.2"/>
<rect x="678.1" y="601.8" width="16.9" height="20.9"/>
<rect x="1162.3" y="575.1" width="16.9" height="20.7"/>
<rect x="1162.3" y="602.6" width="16.9" height="20.8"/>
</g>
<text x="34.8" y="699.0" font-size="48.5" font-weight="bold">B</text>
<text x="101.5" y="684.7" font-size="24.0" textLength="1037.9" lengthAdjust="spacingAndGlyphs">Ala/Gly scan bar plots for template VRC34.01 and optimized antibodies binding fusion peptide</text>
<text x="260.9" y="745.4" font-size="27.5" textLength="131.1" lengthAdjust="spacingAndGlyphs">VRC34.01</text>
<text x="546.4" y="744.5" font-size="27.5" textLength="330.9" lengthAdjust="spacingAndGlyphs">Combo1 (VH_E2K_T58F)</text>
<text x="921.8" y="744.5" font-size="27.5" textLength="388.3" lengthAdjust="spacingAndGlyphs">mm28 (VH_E2K_T58F_A33P)</text>
<text x="203.0" y="789.5" font-size="24.5" textLength="236.6" lengthAdjust="spacingAndGlyphs">Normalized response</text>
<text x="589.0" y="788.6" font-size="24.5" textLength="235.1" lengthAdjust="spacingAndGlyphs">Normalized response</text>
<text x="995.9" y="788.6" font-size="24.5" textLength="236.0" lengthAdjust="spacingAndGlyphs">Normalized response</text>
<text x="191.0" y="827.0" font-size="25.0" text-anchor="middle">0.0</text>
<text x="324.0" y="827.0" font-size="25.0" text-anchor="middle">0.5</text>
<text x="458.5" y="827.0" font-size="25.0" text-anchor="middle">1.0</text>
<text x="578.5" y="827.0" font-size="25.0" text-anchor="middle">0.0</text>
<text x="711.7" y="827.0" font-size="25.0" text-anchor="middle">0.5</text>
<text x="855.5" y="827.0" font-size="25.0" text-anchor="middle">1.0</text>
<text x="984.0" y="827.0" font-size="25.0" text-anchor="middle">0.0</text>
<text x="1117.7" y="827.0" font-size="25.0" text-anchor="middle">0.5</text>
<text x="1251.0" y="827.0" font-size="25.0" text-anchor="middle">1.0</text>
<text x="32.5" y="833.3" font-size="23.5" textLength="122.4" lengthAdjust="spacingAndGlyphs">N-terminus</text>
<text x="33.2" y="1427.9" font-size="23.5" textLength="121.6" lengthAdjust="spacingAndGlyphs">C-terminus</text>
<text transform="translate(67.8 1110) rotate(-90)" text-anchor="middle" font-size="24.7" textLength="262" lengthAdjust="spacingAndGlyphs">Fusion Peptide Residue</text>
<text transform="translate(126.5 881.6) rotate(45)" text-anchor="middle" font-size="30.5" dy="10.5">512</text>
<text transform="translate(126.5 935.1) rotate(45)" text-anchor="middle" font-size="30.5" dy="10.5">513</text>
<text transform="translate(126.5 988.6) rotate(45)" text-anchor="middle" font-size="30.5" dy="10.5">514</text>
<text transform="translate(126.5 1042.1) rotate(45)" text-anchor="middle" font-size="30.5" dy="10.5">515</text>
<text transform="translate(126.5 1095.6) rotate(45)" text-anchor="middle" font-size="30.5" dy="10.5">516</text>
<text transform="translate(126.5 1149.1) rotate(45)" text-anchor="middle" font-size="30.5" dy="10.5">517</text>
<text transform="translate(126.5 1202.6) rotate(45)" text-anchor="middle" font-size="30.5" dy="10.5">518</text>
<text transform="translate(126.5 1256.1) rotate(45)" text-anchor="middle" font-size="30.5" dy="10.5">519</text>
<text transform="translate(126.5 1309.6) rotate(45)" text-anchor="middle" font-size="30.5" dy="10.5">520</text>
<text transform="translate(126.5 1363.1) rotate(45)" text-anchor="middle" font-size="30.5" dy="10.5">521</text>
<rect x="183.0" y="879.7" width="277.3" height="14.8" fill="#d4d4d4" stroke="#3a3a3a" stroke-width="2.6"/>
<path d="M460.3 878.9V895.3" stroke="#111" stroke-width="1.6"/>
<circle cx="460.3" cy="882.1" r="2.4" fill="#fff" stroke="#111" stroke-width="1.1"/>
<circle cx="460.3" cy="887.1" r="2.4" fill="#fff" stroke="#111" stroke-width="1.1"/>
<circle cx="460.3" cy="892.1" r="2.4" fill="#fff" stroke="#111" stroke-width="1.1"/>
<rect x="183.0" y="900.1" width="138.7" height="14.8" fill="#ffffff" stroke="#000000" stroke-width="2.6"/>
<path d="M296.7 907.5H346.6M346.6 904.5v6" stroke="#111" stroke-width="1.3" fill="none"/>
<path d="M321.6 899.3V915.7" stroke="#111" stroke-width="1.6"/>
<circle cx="299.2" cy="909.6" r="2.4" fill="#fff" stroke="#111" stroke-width="1.1"/>
<circle cx="326.8" cy="906.9" r="2.4" fill="#fff" stroke="#111" stroke-width="1.1"/>
<circle cx="344.1" cy="905.6" r="2.4" fill="#fff" stroke="#111" stroke-width="1.1"/>
<path d="M167.0 896.6H183.0" stroke="#000" stroke-width="2.6"/>
<rect x="183.0" y="933.2" width="16.6" height="14.8" fill="#d4d4d4" stroke="#3a3a3a" stroke-width="2.6"/>
<path d="M191.3 940.6H208.0M208.0 937.6v6" stroke="#111" stroke-width="1.3" fill="none"/>
<path d="M199.6 932.4V948.8" stroke="#111" stroke-width="1.6"/>
<circle cx="192.2" cy="939.8" r="2.4" fill="#fff" stroke="#111" stroke-width="1.1"/>
<circle cx="199.7" cy="942.9" r="2.4" fill="#fff" stroke="#111" stroke-width="1.1"/>
<circle cx="207.1" cy="939.0" r="2.4" fill="#fff" stroke="#111" stroke-width="1.1"/>
<rect x="183.0" y="953.6" width="1.4" height="14.8" fill="#ffffff" stroke="#000000" stroke-width="2.6"/>
<path d="M181.6 961.0H187.2M187.2 958.0v6" stroke="#111" stroke-width="1.3" fill="none"/>
<path d="M184.4 952.8V969.2" stroke="#111" stroke-width="1.6"/>
<circle cx="181.9" cy="961.7" r="2.4" fill="#fff" stroke="#111" stroke-width="1.1"/>
<circle cx="184.3" cy="964.3" r="2.4" fill="#fff" stroke="#111" stroke-width="1.1"/>
<circle cx="186.9" cy="961.0" r="2.4" fill="#fff" stroke="#111" stroke-width="1.1"/>
<path d="M167.0 950.1H183.0" stroke="#000" stroke-width="2.6"/>
<rect x="183.0" y="986.7" width="202.4" height="14.8" fill="#d4d4d4" stroke="#3a3a3a" stroke-width="2.6"/>
<path d="M363.2 994.1H407.6M407.6 991.1v6" stroke="#111" stroke-width="1.3" fill="none"/>
<path d="M385.4 985.9V1002.3" stroke="#111" stroke-width="1.6"/>
<circle cx="365.5" cy="996.1" r="2.4" fill="#fff" stroke="#111" stroke-width="1.1"/>
<circle cx="382.5" cy="995.0" r="2.4" fill="#fff" stroke="#111" stroke-width="1.1"/>
<circle cx="405.4" cy="992.1" r="2.4" fill="#fff" stroke="#111" stroke-width="1.1"/>
<rect x="183.0" y="1007.1" width="277.3" height="14.8" fill="#ffffff" stroke="#000000" stroke-width="2.6"/>
<path d="M460.3 1006.3V1022.7" stroke="#111" stroke-width="1.6"/>
<circle cx="460.3" cy="1009.5" r="2.4" fill="#fff" stroke="#111" stroke-width="1.1"/>
<circle cx="460.3" cy="1014.5" r="2.4" fill="#fff" stroke="#111" stroke-width="1.1"/>
<circle cx="460.3" cy="1019.5" r="2.4" fill="#fff" stroke="#111" stroke-width="1.1"/>
<path d="M167.0 1003.6H183.0" stroke="#000" stroke-width="2.6"/>
<rect x="183.0" y="1040.2" width="8.3" height="14.8" fill="#d4d4d4" stroke="#3a3a3a" stroke-width="2.6"/>
<path d="M185.8 1047.6H196.9M196.9 1044.6v6" stroke="#111" stroke-width="1.3" fill="none"/>
<path d="M191.3 1039.4V1055.8" stroke="#111" stroke-width="1.6"/>
<circle cx="186.3" cy="1051.5" r="2.4" fill="#fff" stroke="#111" stroke-width="1.1"/>
<circle cx="192.7" cy="1050.1" r="2.4" fill="#fff" stroke="#111" stroke-width="1.1"/>
<circle cx="196.3" cy="1050.8" r="2.4" fill="#fff" stroke="#111" stroke-width="1.1"/>
<rect x="183.0" y="1060.6" width="2.8" height="14.8" fill="#ffffff" stroke="#000000" stroke-width="2.6"/>
<path d="M183.0 1068.0H188.5M188.5 1065.0v6" stroke="#111" stroke-width="1.3" fill="none"/>
<path d="M185.8 1059.8V1076.2" stroke="#111" stroke-width="1.6"/>
<circle cx="183.3" cy="1069.8" r="2.4" fill="#fff" stroke="#111" stroke-width="1.1"/>
<circle cx="185.5" cy="1071.2" r="2.4" fill="#fff" stroke="#111" stroke-width="1.1"/>
<circle cx="188.3" cy="1069.5" r="2.4" fill="#fff" stroke="#111" stroke-width="1.1"/>
<path d="M167.0 1057.1H183.0" stroke="#000" stroke-width="2.6"/>
<rect x="183.0" y="1093.7" width="5.5" height="14.8" fill="#d4d4d4" stroke="#3a3a3a" stroke-width="2.6"/>
<path d="M185.8 1101.1H191.3M191.3 1098.1v6" stroke="#111" stroke-width="1.3" fill="none"/>
<path d="M188.5 1092.9V1109.3" stroke="#111" stroke-width="1.6"/>
<circle cx="186.1" cy="1097.9" r="2.4" fill="#fff" stroke="#111" stroke-width="1.1"/>
<circle cx="188.5" cy="1100.6" r="2.4" fill="#fff" stroke="#111" stroke-width="1.1"/>
<circle cx="191.0" cy="1102.0" r="2.4" fill="#fff" stroke="#111" stroke-width="1.1"/>
<rect x="183.0" y="1114.1" width="277.3" height="14.8" fill="#ffffff" stroke="#000000" stroke-width="2.6"/>
<path d="M460.3 1113.3V1129.7" stroke="#111" stroke-width="1.6"/>
<circle cx="460.3" cy="1116.5" r="2.4" fill="#fff" stroke="#111" stroke-width="1.1"/>
<circle cx="460.3" cy="1121.5" r="2.4" fill="#fff" stroke="#111" stroke-width="1.1"/>
<circle cx="460.3" cy="1126.5" r="2.4" fill="#fff" stroke="#111" stroke-width="1.1"/>
<path d="M167.0 1110.6H183.0" stroke="#000" stroke-width="2.6"/>
<rect x="183.0" y="1147.2" width="277.3" height="14.8" fill="#d4d4d4" stroke="#3a3a3a" stroke-width="2.6"/>
<path d="M460.3 1146.4V1162.8" stroke="#111" stroke-width="1.6"/>
<circle cx="460.3" cy="1149.6" r="2.4" fill="#fff" stroke="#111" stroke-width="1.1"/>
<circle cx="460.3" cy="1154.6" r="2.4" fill="#fff" stroke="#111" stroke-width="1.1"/>
<circle cx="460.3" cy="1159.6" r="2.4" fill="#fff" stroke="#111" stroke-width="1.1"/>
<rect x="183.0" y="1167.6" width="208.0" height="14.8" fill="#ffffff" stroke="#000000" stroke-width="2.6"/>
<path d="M368.8 1175.0H413.2M413.2 1172.0v6" stroke="#111" stroke-width="1.3" fill="none"/>
<path d="M391.0 1166.8V1183.2" stroke="#111" stroke-width="1.6"/>
<circle cx="371.0" cy="1178.7" r="2.4" fill="#fff" stroke="#111" stroke-width="1.1"/>
<circle cx="396.5" cy="1174.8" r="2.4" fill="#fff" stroke="#111" stroke-width="1.1"/>
<circle cx="410.9" cy="1177.9" r="2.4" fill="#fff" stroke="#111" stroke-width="1.1"/>
<path d="M167.0 1164.1H183.0" stroke="#000" stroke-width="2.6"/>
<rect x="183.0" y="1200.7" width="202.4" height="14.8" fill="#d4d4d4" stroke="#3a3a3a" stroke-width="2.6"/>
<path d="M360.5 1208.1H410.4M410.4 1205.1v6" stroke="#111" stroke-width="1.3" fill="none"/>
<path d="M385.4 1199.9V1216.3" stroke="#111" stroke-width="1.6"/>
<circle cx="363.0" cy="1210.5" r="2.4" fill="#fff" stroke="#111" stroke-width="1.1"/>
<circle cx="381.8" cy="1208.5" r="2.4" fill="#fff" stroke="#111" stroke-width="1.1"/>
<circle cx="407.9" cy="1204.2" r="2.4" fill="#fff" stroke="#111" stroke-width="1.1"/>
<rect x="183.0" y="1221.1" width="124.8" height="14.8" fill="#ffffff" stroke="#000000" stroke-width="2.6"/>
<path d="M288.4 1228.5H327.2M327.2 1225.5v6" stroke="#111" stroke-width="1.3" fill="none"/>
<path d="M307.8 1220.3V1236.7" stroke="#111" stroke-width="1.6"/>
<circle cx="290.3" cy="1227.7" r="2.4" fill="#fff" stroke="#111" stroke-width="1.1"/>
<circle cx="310.3" cy="1231.1" r="2.4" fill="#fff" stroke="#111" stroke-width="1.1"/>
<circle cx="325.3" cy="1229.8" r="2.4" fill="#fff" stroke="#111" stroke-width="1.1"/>
<path d="M167.0 1217.6H183.0" stroke="#000" stroke-width="2.6"/>
<rect x="183.0" y="1254.2" width="216.3" height="14.8" fill="#d4d4d4" stroke="#3a3a3a" stroke-width="2.6"/>
<path d="M371.6 1261.6H427.0M427.0 1258.6v6" stroke="#111" stroke-width="1.3" fill="none"/>
<path d="M399.3 1253.4V1269.8" stroke="#111" stroke-width="1.6"/>
<circle cx="374.3" cy="1261.5" r="2.4" fill="#fff" stroke="#111" stroke-width="1.1"/>
<circle cx="391.0" cy="1264.5" r="2.4" fill="#fff" stroke="#111" stroke-width="1.1"/>
<circle cx="424.3" cy="1259.6" r="2.4" fill="#fff" stroke="#111" stroke-width="1.1"/>
<rect x="183.0" y="1274.6" width="130.3" height="14.8" fill="#ffffff" stroke="#000000" stroke-width="2.6"/>
<path d="M293.9 1282.0H332.7M332.7 1279.0v6" stroke="#111" stroke-width="1.3" fill="none"/>
<path d="M313.3 1273.8V1290.2" stroke="#111" stroke-width="1.6"/>
<circle cx="295.9" cy="1285.0" r="2.4" fill="#fff" stroke="#111" stroke-width="1.1"/>
<circle cx="311.3" cy="1279.5" r="2.4" fill="#fff" stroke="#111" stroke-width="1.1"/>
<circle cx="330.8" cy="1282.5" r="2.4" fill="#fff" stroke="#111" stroke-width="1.1"/>
<path d="M167.0 1271.1H183.0" stroke="#000" stroke-width="2.6"/>
<rect x="183.0" y="1307.7" width="285.6" height="14.8" fill="#d4d4d4" stroke="#3a3a3a" stroke-width="2.6"/>
<path d="M440.9 1315.1H496.3M496.3 1312.1v6" stroke="#111" stroke-width="1.3" fill="none"/>
<path d="M468.6 1306.9V1323.3" stroke="#111" stroke-width="1.6"/>
<circle cx="443.7" cy="1318.8" r="2.4" fill="#fff" stroke="#111" stroke-width="1.1"/>
<circle cx="464.3" cy="1317.5" r="2.4" fill="#fff" stroke="#111" stroke-width="1.1"/>
<circle cx="493.6" cy="1314.7" r="2.4" fill="#fff" stroke="#111" stroke-width="1.1"/>
<rect x="183.0" y="1328.1" width="274.5" height="14.8" fill="#ffffff" stroke="#000000" stroke-width="2.6"/>
<path d="M435.3 1335.5H479.7M479.7 1332.5v6" stroke="#111" stroke-width="1.3" fill="none"/>
<path d="M457.5 1327.3V1343.7" stroke="#111" stroke-width="1.6"/>
<circle cx="437.6" cy="1334.1" r="2.4" fill="#fff" stroke="#111" stroke-width="1.1"/>
<circle cx="451.9" cy="1335.6" r="2.4" fill="#fff" stroke="#111" stroke-width="1.1"/>
<circle cx="477.5" cy="1339.0" r="2.4" fill="#fff" stroke="#111" stroke-width="1.1"/>
<path d="M167.0 1324.6H183.0" stroke="#000" stroke-width="2.6"/>
<rect x="183.0" y="1361.2" width="241.3" height="14.8" fill="#d4d4d4" stroke="#3a3a3a" stroke-width="2.6"/>
<path d="M404.8 1368.6H443.7M443.7 1365.6v6" stroke="#111" stroke-width="1.3" fill="none"/>
<path d="M424.3 1360.4V1376.8" stroke="#111" stroke-width="1.6"/>
<circle cx="406.8" cy="1369.0" r="2.4" fill="#fff" stroke="#111" stroke-width="1.1"/>
<circle cx="419.7" cy="1370.3" r="2.4" fill="#fff" stroke="#111" stroke-width="1.1"/>
<circle cx="441.7" cy="1369.0" r="2.4" fill="#fff" stroke="#111" stroke-width="1.1"/>
<rect x="183.0" y="1381.6" width="277.3" height="14.8" fill="#ffffff" stroke="#000000" stroke-width="2.6"/>
<path d="M460.3 1380.8V1397.2" stroke="#111" stroke-width="1.6"/>
<circle cx="460.3" cy="1384.0" r="2.4" fill="#fff" stroke="#111" stroke-width="1.1"/>
<circle cx="460.3" cy="1389.0" r="2.4" fill="#fff" stroke="#111" stroke-width="1.1"/>
<circle cx="460.3" cy="1394.0" r="2.4" fill="#fff" stroke="#111" stroke-width="1.1"/>
<path d="M167.0 1378.1H183.0" stroke="#000" stroke-width="2.6"/>
<path d="M183.0 853.4V1407.5 M183.0 868.0H516.8" stroke="#000" stroke-width="2.8" fill="none"/>
<path d="M321.6 853.4V868.0" stroke="#000" stroke-width="2.6"/>
<path d="M460.3 853.4V868.0" stroke="#000" stroke-width="2.6"/>
<rect x="566.3" y="881.4" width="289.4" height="14.8" fill="#d4d4d4" stroke="#3a3a3a" stroke-width="2.6"/>
<path d="M855.7 880.6V897.0" stroke="#111" stroke-width="1.6"/>
<circle cx="855.7" cy="883.8" r="2.4" fill="#fff" stroke="#111" stroke-width="1.1"/>
<circle cx="855.7" cy="888.8" r="2.4" fill="#fff" stroke="#111" stroke-width="1.1"/>
<circle cx="855.7" cy="893.8" r="2.4" fill="#fff" stroke="#111" stroke-width="1.1"/>
<rect x="566.3" y="901.8" width="254.7" height="14.8" fill="#ffffff" stroke="#000000" stroke-width="2.6"/>
<path d="M812.3 909.2H829.7M829.7 906.2v6" stroke="#111" stroke-width="1.3" fill="none"/>
<path d="M821.0 901.0V917.4" stroke="#111" stroke-width="1.6"/>
<circle cx="813.2" cy="912.0" r="2.4" fill="#fff" stroke="#111" stroke-width="1.1"/>
<circle cx="819.1" cy="911.3" r="2.4" fill="#fff" stroke="#111" stroke-width="1.1"/>
<circle cx="828.8" cy="907.2" r="2.4" fill="#fff" stroke="#111" stroke-width="1.1"/>
<path d="M549.9 898.3H566.3" stroke="#000" stroke-width="2.6"/>
<rect x="566.3" y="934.9" width="136.0" height="14.8" fill="#d4d4d4" stroke="#3a3a3a" stroke-width="2.6"/>
<path d="M685.0 942.3H719.7M719.7 939.3v6" stroke="#111" stroke-width="1.3" fill="none"/>
<path d="M702.3 934.1V950.5" stroke="#111" stroke-width="1.6"/>
<circle cx="686.7" cy="941.9" r="2.4" fill="#fff" stroke="#111" stroke-width="1.1"/>
<circle cx="702.3" cy="943.5" r="2.4" fill="#fff" stroke="#111" stroke-width="1.1"/>
<circle cx="717.9" cy="944.6" r="2.4" fill="#fff" stroke="#111" stroke-width="1.1"/>
<rect x="566.3" y="955.3" width="2.9" height="14.8" fill="#ffffff" stroke="#000000" stroke-width="2.6"/>
<path d="M566.3 962.7H572.1M572.1 959.7v6" stroke="#111" stroke-width="1.3" fill="none"/>
<path d="M569.2 954.5V970.9" stroke="#111" stroke-width="1.6"/>
<circle cx="566.6" cy="958.9" r="2.4" fill="#fff" stroke="#111" stroke-width="1.1"/>
<circle cx="568.5" cy="965.4" r="2.4" fill="#fff" stroke="#111" stroke-width="1.1"/>
<circle cx="571.8" cy="962.2" r="2.4" fill="#fff" stroke="#111" stroke-width="1.1"/>
<path d="M549.9 951.8H566.3" stroke="#000" stroke-width="2.6"/>
<rect x="566.3" y="988.4" width="280.7" height="14.8" fill="#d4d4d4" stroke="#3a3a3a" stroke-width="2.6"/>
<path d="M841.2 995.8H852.8M852.8 992.8v6" stroke="#111" stroke-width="1.3" fill="none"/>
<path d="M847.0 987.6V1004.0" stroke="#111" stroke-width="1.6"/>
<circle cx="841.8" cy="991.8" r="2.4" fill="#fff" stroke="#111" stroke-width="1.1"/>
<circle cx="847.9" cy="995.4" r="2.4" fill="#fff" stroke="#111" stroke-width="1.1"/>
<circle cx="852.2" cy="997.6" r="2.4" fill="#fff" stroke="#111" stroke-width="1.1"/>
<rect x="566.3" y="1008.8" width="289.4" height="14.8" fill="#ffffff" stroke="#000000" stroke-width="2.6"/>
<path d="M855.7 1008.0V1024.4" stroke="#111" stroke-width="1.6"/>
<circle cx="855.7" cy="1011.2" r="2.4" fill="#fff" stroke="#111" stroke-width="1.1"/>
<circle cx="855.7" cy="1016.2" r="2.4" fill="#fff" stroke="#111" stroke-width="1.1"/>
<circle cx="855.7" cy="1021.2" r="2.4" fill="#fff" stroke="#111" stroke-width="1.1"/>
<path d="M549.9 1005.3H566.3" stroke="#000" stroke-width="2.6"/>
<rect x="566.3" y="1041.9" width="40.5" height="14.8" fill="#d4d4d4" stroke="#3a3a3a" stroke-width="2.6"/>
<path d="M589.5 1049.3H624.2M624.2 1046.3v6" stroke="#111" stroke-width="1.3" fill="none"/>
<path d="M606.8 1041.1V1057.5" stroke="#111" stroke-width="1.6"/>
<circle cx="591.2" cy="1052.9" r="2.4" fill="#fff" stroke="#111" stroke-width="1.1"/>
<circle cx="604.0" cy="1052.5" r="2.4" fill="#fff" stroke="#111" stroke-width="1.1"/>
<circle cx="622.4" cy="1045.5" r="2.4" fill="#fff" stroke="#111" stroke-width="1.1"/>
<rect x="566.3" y="1062.3" width="5.8" height="14.8" fill="#ffffff" stroke="#000000" stroke-width="2.6"/>
<path d="M566.3 1069.7H577.9M577.9 1066.7v6" stroke="#111" stroke-width="1.3" fill="none"/>
<path d="M572.1 1061.5V1077.9" stroke="#111" stroke-width="1.6"/>
<circle cx="566.9" cy="1070.0" r="2.4" fill="#fff" stroke="#111" stroke-width="1.1"/>
<circle cx="570.4" cy="1073.2" r="2.4" fill="#fff" stroke="#111" stroke-width="1.1"/>
<circle cx="577.3" cy="1068.7" r="2.4" fill="#fff" stroke="#111" stroke-width="1.1"/>
<path d="M549.9 1058.8H566.3" stroke="#000" stroke-width="2.6"/>
<rect x="566.3" y="1095.4" width="49.2" height="14.8" fill="#d4d4d4" stroke="#3a3a3a" stroke-width="2.6"/>
<path d="M601.0 1102.8H630.0M630.0 1099.8v6" stroke="#111" stroke-width="1.3" fill="none"/>
<path d="M615.5 1094.6V1111.0" stroke="#111" stroke-width="1.6"/>
<circle cx="602.5" cy="1102.2" r="2.4" fill="#fff" stroke="#111" stroke-width="1.1"/>
<circle cx="613.0" cy="1099.0" r="2.4" fill="#fff" stroke="#111" stroke-width="1.1"/>
<circle cx="628.5" cy="1100.6" r="2.4" fill="#fff" stroke="#111" stroke-width="1.1"/>
<rect x="566.3" y="1115.8" width="289.4" height="14.8" fill="#ffffff" stroke="#000000" stroke-width="2.6"/>
<path d="M855.7 1115.0V1131.4" stroke="#111" stroke-width="1.6"/>
<circle cx="855.7" cy="1118.2" r="2.4" fill="#fff" stroke="#111" stroke-width="1.1"/>
<circle cx="855.7" cy="1123.2" r="2.4" fill="#fff" stroke="#111" stroke-width="1.1"/>
<circle cx="855.7" cy="1128.2" r="2.4" fill="#fff" stroke="#111" stroke-width="1.1"/>
<path d="M549.9 1112.3H566.3" stroke="#000" stroke-width="2.6"/>
<rect x="566.3" y="1148.9" width="289.4" height="14.8" fill="#d4d4d4" stroke="#3a3a3a" stroke-width="2.6"/>
<path d="M855.7 1148.1V1164.5" stroke="#111" stroke-width="1.6"/>
<circle cx="855.7" cy="1151.3" r="2.4" fill="#fff" stroke="#111" stroke-width="1.1"/>
<circle cx="855.7" cy="1156.3" r="2.4" fill="#fff" stroke="#111" stroke-width="1.1"/>
<circle cx="855.7" cy="1161.3" r="2.4" fill="#fff" stroke="#111" stroke-width="1.1"/>
<rect x="566.3" y="1169.3" width="280.7" height="14.8" fill="#ffffff" stroke="#000000" stroke-width="2.6"/>
<path d="M835.4 1176.7H858.6M858.6 1173.7v6" stroke="#111" stroke-width="1.3" fill="none"/>
<path d="M847.0 1168.5V1184.9" stroke="#111" stroke-width="1.6"/>
<circle cx="836.6" cy="1176.7" r="2.4" fill="#fff" stroke="#111" stroke-width="1.1"/>
<circle cx="846.6" cy="1174.6" r="2.4" fill="#fff" stroke="#111" stroke-width="1.1"/>
<circle cx="857.4" cy="1174.5" r="2.4" fill="#fff" stroke="#111" stroke-width="1.1"/>
<path d="M549.9 1165.8H566.3" stroke="#000" stroke-width="2.6"/>
<rect x="566.3" y="1202.4" width="283.6" height="14.8" fill="#d4d4d4" stroke="#3a3a3a" stroke-width="2.6"/>
<path d="M841.2 1209.8H858.6M858.6 1206.8v6" stroke="#111" stroke-width="1.3" fill="none"/>
<path d="M849.9 1201.6V1218.0" stroke="#111" stroke-width="1.6"/>
<circle cx="842.1" cy="1209.5" r="2.4" fill="#fff" stroke="#111" stroke-width="1.1"/>
<circle cx="848.4" cy="1208.1" r="2.4" fill="#fff" stroke="#111" stroke-width="1.1"/>
<circle cx="857.7" cy="1206.0" r="2.4" fill="#fff" stroke="#111" stroke-width="1.1"/>
<rect x="566.3" y="1222.8" width="240.2" height="14.8" fill="#ffffff" stroke="#000000" stroke-width="2.6"/>
<path d="M797.8 1230.2H815.2M815.2 1227.2v6" stroke="#111" stroke-width="1.3" fill="none"/>
<path d="M806.5 1222.0V1238.4" stroke="#111" stroke-width="1.6"/>
<circle cx="798.7" cy="1230.7" r="2.4" fill="#fff" stroke="#111" stroke-width="1.1"/>
<circle cx="808.3" cy="1231.3" r="2.4" fill="#fff" stroke="#111" stroke-width="1.1"/>
<circle cx="814.3" cy="1227.7" r="2.4" fill="#fff" stroke="#111" stroke-width="1.1"/>
<path d="M549.9 1219.3H566.3" stroke="#000" stroke-width="2.6"/>
<rect x="566.3" y="1255.9" width="292.3" height="14.8" fill="#d4d4d4" stroke="#3a3a3a" stroke-width="2.6"/>
<path d="M849.9 1263.3H867.3M867.3 1260.3v6" stroke="#111" stroke-width="1.3" fill="none"/>
<path d="M858.6 1255.1V1271.5" stroke="#111" stroke-width="1.6"/>
<circle cx="850.8" cy="1266.2" r="2.4" fill="#fff" stroke="#111" stroke-width="1.1"/>
<circle cx="861.2" cy="1260.3" r="2.4" fill="#fff" stroke="#111" stroke-width="1.1"/>
<circle cx="866.4" cy="1262.0" r="2.4" fill="#fff" stroke="#111" stroke-width="1.1"/>
<rect x="566.3" y="1276.3" width="240.2" height="14.8" fill="#ffffff" stroke="#000000" stroke-width="2.6"/>
<path d="M797.8 1283.7H815.2M815.2 1280.7v6" stroke="#111" stroke-width="1.3" fill="none"/>
<path d="M806.5 1275.5V1291.9" stroke="#111" stroke-width="1.6"/>
<circle cx="798.7" cy="1285.4" r="2.4" fill="#fff" stroke="#111" stroke-width="1.1"/>
<circle cx="807.7" cy="1287.2" r="2.4" fill="#fff" stroke="#111" stroke-width="1.1"/>
<circle cx="814.3" cy="1283.1" r="2.4" fill="#fff" stroke="#111" stroke-width="1.1"/>
<path d="M549.9 1272.8H566.3" stroke="#000" stroke-width="2.6"/>
<rect x="566.3" y="1309.4" width="301.0" height="14.8" fill="#d4d4d4" stroke="#3a3a3a" stroke-width="2.6"/>
<path d="M864.4 1316.8H870.2M870.2 1313.8v6" stroke="#111" stroke-width="1.3" fill="none"/>
<path d="M867.3 1308.6V1325.0" stroke="#111" stroke-width="1.6"/>
<circle cx="864.7" cy="1318.2" r="2.4" fill="#fff" stroke="#111" stroke-width="1.1"/>
<circle cx="867.8" cy="1315.2" r="2.4" fill="#fff" stroke="#111" stroke-width="1.1"/>
<circle cx="869.9" cy="1317.5" r="2.4" fill="#fff" stroke="#111" stroke-width="1.1"/>
<rect x="566.3" y="1329.8" width="285.1" height="14.8" fill="#ffffff" stroke="#000000" stroke-width="2.6"/>
<path d="M842.7 1337.2H860.0M860.0 1334.2v6" stroke="#111" stroke-width="1.3" fill="none"/>
<path d="M851.4 1329.0V1345.4" stroke="#111" stroke-width="1.6"/>
<circle cx="843.5" cy="1340.0" r="2.4" fill="#fff" stroke="#111" stroke-width="1.1"/>
<circle cx="853.4" cy="1337.2" r="2.4" fill="#fff" stroke="#111" stroke-width="1.1"/>
<circle cx="859.2" cy="1337.9" r="2.4" fill="#fff" stroke="#111" stroke-width="1.1"/>
<path d="M549.9 1326.3H566.3" stroke="#000" stroke-width="2.6"/>
<rect x="566.3" y="1362.9" width="286.5" height="14.8" fill="#d4d4d4" stroke="#3a3a3a" stroke-width="2.6"/>
<path d="M844.1 1370.3H861.5M861.5 1367.3v6" stroke="#111" stroke-width="1.3" fill="none"/>
<path d="M852.8 1362.1V1378.5" stroke="#111" stroke-width="1.6"/>
<circle cx="845.0" cy="1368.2" r="2.4" fill="#fff" stroke="#111" stroke-width="1.1"/>
<circle cx="850.4" cy="1372.7" r="2.4" fill="#fff" stroke="#111" stroke-width="1.1"/>
<circle cx="860.6" cy="1369.6" r="2.4" fill="#fff" stroke="#111" stroke-width="1.1"/>
<rect x="566.3" y="1383.3" width="289.4" height="14.8" fill="#ffffff" stroke="#000000" stroke-width="2.6"/>
<path d="M855.7 1382.5V1398.9" stroke="#111" stroke-width="1.6"/>
<circle cx="855.7" cy="1385.7" r="2.4" fill="#fff" stroke="#111" stroke-width="1.1"/>
<circle cx="855.7" cy="1390.7" r="2.4" fill="#fff" stroke="#111" stroke-width="1.1"/>
<circle cx="855.7" cy="1395.7" r="2.4" fill="#fff" stroke="#111" stroke-width="1.1"/>
<path d="M549.9 1379.8H566.3" stroke="#000" stroke-width="2.6"/>
<path d="M566.3 854.7V1409.7 M566.3 869.4H915.3" stroke="#000" stroke-width="2.8" fill="none"/>
<path d="M711.0 854.7V869.4" stroke="#000" stroke-width="2.6"/>
<path d="M855.7 854.7V869.4" stroke="#000" stroke-width="2.6"/>
<rect x="974.3" y="880.1" width="285.7" height="14.8" fill="#d4d4d4" stroke="#3a3a3a" stroke-width="2.6"/>
<path d="M1260.0 879.3V895.7" stroke="#111" stroke-width="1.6"/>
<circle cx="1260.0" cy="882.5" r="2.4" fill="#fff" stroke="#111" stroke-width="1.1"/>
<circle cx="1260.0" cy="887.5" r="2.4" fill="#fff" stroke="#111" stroke-width="1.1"/>
<circle cx="1260.0" cy="892.5" r="2.4" fill="#fff" stroke="#111" stroke-width="1.1"/>
<rect x="974.3" y="900.5" width="275.7" height="14.8" fill="#ffffff" stroke="#000000" stroke-width="2.6"/>
<path d="M1247.1 907.9H1252.9M1252.9 904.9v6" stroke="#111" stroke-width="1.3" fill="none"/>
<path d="M1250.0 899.7V916.1" stroke="#111" stroke-width="1.6"/>
<circle cx="1247.4" cy="911.5" r="2.4" fill="#fff" stroke="#111" stroke-width="1.1"/>
<circle cx="1250.8" cy="904.4" r="2.4" fill="#fff" stroke="#111" stroke-width="1.1"/>
<circle cx="1252.6" cy="904.6" r="2.4" fill="#fff" stroke="#111" stroke-width="1.1"/>
<path d="M957.8 897.0H974.3" stroke="#000" stroke-width="2.6"/>
<rect x="974.3" y="933.6" width="231.4" height="14.8" fill="#d4d4d4" stroke="#3a3a3a" stroke-width="2.6"/>
<path d="M1194.3 941.0H1217.1M1217.1 938.0v6" stroke="#111" stroke-width="1.3" fill="none"/>
<path d="M1205.7 932.8V949.2" stroke="#111" stroke-width="1.6"/>
<circle cx="1195.4" cy="942.9" r="2.4" fill="#fff" stroke="#111" stroke-width="1.1"/>
<circle cx="1208.0" cy="942.4" r="2.4" fill="#fff" stroke="#111" stroke-width="1.1"/>
<circle cx="1216.0" cy="939.5" r="2.4" fill="#fff" stroke="#111" stroke-width="1.1"/>
<rect x="974.3" y="954.0" width="5.7" height="14.8" fill="#ffffff" stroke="#000000" stroke-width="2.6"/>
<path d="M974.3 961.4H985.7M985.7 958.4v6" stroke="#111" stroke-width="1.3" fill="none"/>
<path d="M980.0 953.2V969.6" stroke="#111" stroke-width="1.6"/>
<circle cx="974.9" cy="962.3" r="2.4" fill="#fff" stroke="#111" stroke-width="1.1"/>
<circle cx="980.4" cy="962.0" r="2.4" fill="#fff" stroke="#111" stroke-width="1.1"/>
<circle cx="985.2" cy="958.7" r="2.4" fill="#fff" stroke="#111" stroke-width="1.1"/>
<path d="M957.8 950.5H974.3" stroke="#000" stroke-width="2.6"/>
<rect x="974.3" y="987.1" width="282.8" height="14.8" fill="#d4d4d4" stroke="#3a3a3a" stroke-width="2.6"/>
<path d="M1251.4 994.5H1262.9M1262.9 991.5v6" stroke="#111" stroke-width="1.3" fill="none"/>
<path d="M1257.1 986.3V1002.7" stroke="#111" stroke-width="1.6"/>
<circle cx="1252.0" cy="993.6" r="2.4" fill="#fff" stroke="#111" stroke-width="1.1"/>
<circle cx="1256.9" cy="996.3" r="2.4" fill="#fff" stroke="#111" stroke-width="1.1"/>
<circle cx="1262.3" cy="998.5" r="2.4" fill="#fff" stroke="#111" stroke-width="1.1"/>
<rect x="974.3" y="1007.5" width="285.7" height="14.8" fill="#ffffff" stroke="#000000" stroke-width="2.6"/>
<path d="M1260.0 1006.7V1023.1" stroke="#111" stroke-width="1.6"/>
<circle cx="1260.0" cy="1009.9" r="2.4" fill="#fff" stroke="#111" stroke-width="1.1"/>
<circle cx="1260.0" cy="1014.9" r="2.4" fill="#fff" stroke="#111" stroke-width="1.1"/>
<circle cx="1260.0" cy="1019.9" r="2.4" fill="#fff" stroke="#111" stroke-width="1.1"/>
<path d="M957.8 1004.0H974.3" stroke="#000" stroke-width="2.6"/>
<rect x="974.3" y="1040.6" width="105.7" height="14.8" fill="#d4d4d4" stroke="#3a3a3a" stroke-width="2.6"/>
<path d="M1068.6 1048.0H1091.4M1091.4 1045.0v6" stroke="#111" stroke-width="1.3" fill="none"/>
<path d="M1080.0 1039.8V1056.2" stroke="#111" stroke-width="1.6"/>
<circle cx="1069.7" cy="1048.4" r="2.4" fill="#fff" stroke="#111" stroke-width="1.1"/>
<circle cx="1083.1" cy="1047.6" r="2.4" fill="#fff" stroke="#111" stroke-width="1.1"/>
<circle cx="1090.3" cy="1046.1" r="2.4" fill="#fff" stroke="#111" stroke-width="1.1"/>
<rect x="974.3" y="1061.0" width="5.7" height="14.8" fill="#ffffff" stroke="#000000" stroke-width="2.6"/>
<path d="M974.3 1068.4H985.7M985.7 1065.4v6" stroke="#111" stroke-width="1.3" fill="none"/>
<path d="M980.0 1060.2V1076.6" stroke="#111" stroke-width="1.6"/>
<circle cx="974.9" cy="1064.6" r="2.4" fill="#fff" stroke="#111" stroke-width="1.1"/>
<circle cx="978.4" cy="1068.1" r="2.4" fill="#fff" stroke="#111" stroke-width="1.1"/>
<circle cx="985.2" cy="1066.9" r="2.4" fill="#fff" stroke="#111" stroke-width="1.1"/>
<path d="M957.8 1057.5H974.3" stroke="#000" stroke-width="2.6"/>
<rect x="974.3" y="1094.1" width="157.1" height="14.8" fill="#d4d4d4" stroke="#3a3a3a" stroke-width="2.6"/>
<path d="M1117.2 1101.5H1145.7M1145.7 1098.5v6" stroke="#111" stroke-width="1.3" fill="none"/>
<path d="M1131.4 1093.3V1109.7" stroke="#111" stroke-width="1.6"/>
<circle cx="1118.6" cy="1104.6" r="2.4" fill="#fff" stroke="#111" stroke-width="1.1"/>
<circle cx="1130.4" cy="1101.7" r="2.4" fill="#fff" stroke="#111" stroke-width="1.1"/>
<circle cx="1144.3" cy="1102.0" r="2.4" fill="#fff" stroke="#111" stroke-width="1.1"/>
<rect x="974.3" y="1114.5" width="285.7" height="14.8" fill="#ffffff" stroke="#000000" stroke-width="2.6"/>
<path d="M1260.0 1113.7V1130.1" stroke="#111" stroke-width="1.6"/>
<circle cx="1260.0" cy="1116.9" r="2.4" fill="#fff" stroke="#111" stroke-width="1.1"/>
<circle cx="1260.0" cy="1121.9" r="2.4" fill="#fff" stroke="#111" stroke-width="1.1"/>
<circle cx="1260.0" cy="1126.9" r="2.4" fill="#fff" stroke="#111" stroke-width="1.1"/>
<path d="M957.8 1111.0H974.3" stroke="#000" stroke-width="2.6"/>
<rect x="974.3" y="1147.6" width="285.7" height="14.8" fill="#d4d4d4" stroke="#3a3a3a" stroke-width="2.6"/>
<path d="M1260.0 1146.8V1163.2" stroke="#111" stroke-width="1.6"/>
<circle cx="1260.0" cy="1150.0" r="2.4" fill="#fff" stroke="#111" stroke-width="1.1"/>
<circle cx="1260.0" cy="1155.0" r="2.4" fill="#fff" stroke="#111" stroke-width="1.1"/>
<circle cx="1260.0" cy="1160.0" r="2.4" fill="#fff" stroke="#111" stroke-width="1.1"/>
<rect x="974.3" y="1168.0" width="282.8" height="14.8" fill="#ffffff" stroke="#000000" stroke-width="2.6"/>
<path d="M1248.6 1175.4H1265.7M1265.7 1172.4v6" stroke="#111" stroke-width="1.3" fill="none"/>
<path d="M1257.1 1167.2V1183.6" stroke="#111" stroke-width="1.6"/>
<circle cx="1249.4" cy="1171.6" r="2.4" fill="#fff" stroke="#111" stroke-width="1.1"/>
<circle cx="1255.8" cy="1174.0" r="2.4" fill="#fff" stroke="#111" stroke-width="1.1"/>
<circle cx="1264.9" cy="1172.5" r="2.4" fill="#fff" stroke="#111" stroke-width="1.1"/>
<path d="M957.8 1164.5H974.3" stroke="#000" stroke-width="2.6"/>
<rect x="974.3" y="1201.1" width="282.8" height="14.8" fill="#d4d4d4" stroke="#3a3a3a" stroke-width="2.6"/>
<path d="M1251.4 1208.5H1262.9M1262.9 1205.5v6" stroke="#111" stroke-width="1.3" fill="none"/>
<path d="M1257.1 1200.3V1216.7" stroke="#111" stroke-width="1.6"/>
<circle cx="1252.0" cy="1212.5" r="2.4" fill="#fff" stroke="#111" stroke-width="1.1"/>
<circle cx="1257.2" cy="1209.9" r="2.4" fill="#fff" stroke="#111" stroke-width="1.1"/>
<circle cx="1262.3" cy="1206.0" r="2.4" fill="#fff" stroke="#111" stroke-width="1.1"/>
<rect x="974.3" y="1221.5" width="240.0" height="14.8" fill="#ffffff" stroke="#000000" stroke-width="2.6"/>
<path d="M1205.7 1228.9H1222.9M1222.9 1225.9v6" stroke="#111" stroke-width="1.3" fill="none"/>
<path d="M1214.3 1220.7V1237.1" stroke="#111" stroke-width="1.6"/>
<circle cx="1206.6" cy="1231.3" r="2.4" fill="#fff" stroke="#111" stroke-width="1.1"/>
<circle cx="1216.3" cy="1230.8" r="2.4" fill="#fff" stroke="#111" stroke-width="1.1"/>
<circle cx="1222.0" cy="1232.2" r="2.4" fill="#fff" stroke="#111" stroke-width="1.1"/>
<path d="M957.8 1218.0H974.3" stroke="#000" stroke-width="2.6"/>
<rect x="974.3" y="1254.6" width="294.3" height="14.8" fill="#d4d4d4" stroke="#3a3a3a" stroke-width="2.6"/>
<path d="M1265.7 1262.0H1271.4M1271.4 1259.0v6" stroke="#111" stroke-width="1.3" fill="none"/>
<path d="M1268.6 1253.8V1270.2" stroke="#111" stroke-width="1.6"/>
<circle cx="1266.0" cy="1264.3" r="2.4" fill="#fff" stroke="#111" stroke-width="1.1"/>
<circle cx="1269.0" cy="1260.8" r="2.4" fill="#fff" stroke="#111" stroke-width="1.1"/>
<circle cx="1271.1" cy="1265.8" r="2.4" fill="#fff" stroke="#111" stroke-width="1.1"/>
<rect x="974.3" y="1275.0" width="258.6" height="14.8" fill="#ffffff" stroke="#000000" stroke-width="2.6"/>
<path d="M1230.0 1282.4H1235.7M1235.7 1279.4v6" stroke="#111" stroke-width="1.3" fill="none"/>
<path d="M1232.9 1274.2V1290.6" stroke="#111" stroke-width="1.6"/>
<circle cx="1230.3" cy="1279.7" r="2.4" fill="#fff" stroke="#111" stroke-width="1.1"/>
<circle cx="1233.7" cy="1284.4" r="2.4" fill="#fff" stroke="#111" stroke-width="1.1"/>
<circle cx="1235.4" cy="1284.1" r="2.4" fill="#fff" stroke="#111" stroke-width="1.1"/>
<path d="M957.8 1271.5H974.3" stroke="#000" stroke-width="2.6"/>
<rect x="974.3" y="1308.1" width="285.7" height="14.8" fill="#d4d4d4" stroke="#3a3a3a" stroke-width="2.6"/>
<path d="M1254.3 1315.5H1265.7M1265.7 1312.5v6" stroke="#111" stroke-width="1.3" fill="none"/>
<path d="M1260.0 1307.3V1323.7" stroke="#111" stroke-width="1.6"/>
<circle cx="1254.9" cy="1315.7" r="2.4" fill="#fff" stroke="#111" stroke-width="1.1"/>
<circle cx="1259.9" cy="1315.4" r="2.4" fill="#fff" stroke="#111" stroke-width="1.1"/>
<circle cx="1265.1" cy="1318.9" r="2.4" fill="#fff" stroke="#111" stroke-width="1.1"/>
<rect x="974.3" y="1328.5" width="281.1" height="14.8" fill="#ffffff" stroke="#000000" stroke-width="2.6"/>
<path d="M1249.7 1335.9H1261.1M1261.1 1332.9v6" stroke="#111" stroke-width="1.3" fill="none"/>
<path d="M1255.4 1327.7V1344.1" stroke="#111" stroke-width="1.6"/>
<circle cx="1250.3" cy="1338.6" r="2.4" fill="#fff" stroke="#111" stroke-width="1.1"/>
<circle cx="1255.4" cy="1334.7" r="2.4" fill="#fff" stroke="#111" stroke-width="1.1"/>
<circle cx="1260.6" cy="1339.0" r="2.4" fill="#fff" stroke="#111" stroke-width="1.1"/>
<path d="M957.8 1325.0H974.3" stroke="#000" stroke-width="2.6"/>
<rect x="974.3" y="1361.6" width="285.7" height="14.8" fill="#d4d4d4" stroke="#3a3a3a" stroke-width="2.6"/>
<path d="M1254.3 1369.0H1265.7M1265.7 1366.0v6" stroke="#111" stroke-width="1.3" fill="none"/>
<path d="M1260.0 1360.8V1377.2" stroke="#111" stroke-width="1.6"/>
<circle cx="1254.9" cy="1368.7" r="2.4" fill="#fff" stroke="#111" stroke-width="1.1"/>
<circle cx="1261.4" cy="1369.5" r="2.4" fill="#fff" stroke="#111" stroke-width="1.1"/>
<circle cx="1265.1" cy="1372.4" r="2.4" fill="#fff" stroke="#111" stroke-width="1.1"/>
<rect x="974.3" y="1382.0" width="285.7" height="14.8" fill="#ffffff" stroke="#000000" stroke-width="2.6"/>
<path d="M1260.0 1381.2V1397.6" stroke="#111" stroke-width="1.6"/>
<circle cx="1260.0" cy="1384.4" r="2.4" fill="#fff" stroke="#111" stroke-width="1.1"/>
<circle cx="1260.0" cy="1389.4" r="2.4" fill="#fff" stroke="#111" stroke-width="1.1"/>
<circle cx="1260.0" cy="1394.4" r="2.4" fill="#fff" stroke="#111" stroke-width="1.1"/>
<path d="M957.8 1378.5H974.3" stroke="#000" stroke-width="2.6"/>
<path d="M974.3 853.5V1412.0 M974.3 868.3H1318.0" stroke="#000" stroke-width="2.8" fill="none"/>
<path d="M1117.2 853.5V868.3" stroke="#000" stroke-width="2.6"/>
<path d="M1260.0 853.5V868.3" stroke="#000" stroke-width="2.6"/>
<text x="203.6" y="1457.5" font-size="24.5" textLength="208.6" lengthAdjust="spacingAndGlyphs">Fusion Peptide v1:</text>
<text x="451.5" y="1455.7" font-size="29.5">A<tspan font-size="19" dy="6.2">512</tspan></text>
<text x="507.7" y="1455.7" font-size="29.5">V<tspan font-size="19" dy="6.2">513</tspan></text>
<text x="565.1" y="1455.7" font-size="29.5">G<tspan font-size="19" dy="6.2">514</tspan></text>
<text x="624.6" y="1455.7" font-size="29.5">I<tspan font-size="19" dy="6.2">515</tspan></text>
<text x="669.2" y="1455.7" font-size="29.5">G<tspan font-size="19" dy="6.2">516</tspan></text>
<text x="729.4" y="1455.7" font-size="29.5">A<tspan font-size="19" dy="6.2">517</tspan></text>
<text x="785.7" y="1455.7" font-size="29.5">V<tspan font-size="19" dy="6.2">518</tspan></text>
<text x="842.2" y="1455.7" font-size="29.5">F<tspan font-size="19" dy="6.2">519</tspan></text>
<text x="896.4" y="1455.7" font-size="29.5">L<tspan font-size="19" dy="6.2">520</tspan></text>
<text x="950.4" y="1455.7" font-size="29.5">G<tspan font-size="19" dy="6.2">521</tspan></text>
<rect x="1031.3" y="1442.3" width="38.8" height="19.4" fill="#c0c0c0" stroke="#000" stroke-width="2.6"/>
<text x="1077.9" y="1460.5" font-size="29.5" textLength="41.1" lengthAdjust="spacingAndGlyphs">Ala</text>
<rect x="1139.8" y="1442.3" width="38.8" height="19.4" fill="#fff" stroke="#000" stroke-width="2.6"/>
<text x="1188.2" y="1460.5" font-size="29.5" textLength="42.8" lengthAdjust="spacingAndGlyphs">Gly</text>
<text x="1334.4" y="696.5" font-size="48.5" font-weight="bold">C</text>
<text x="1428.3" y="678.6" font-size="24.5" textLength="429.0" lengthAdjust="spacingAndGlyphs">Antibody binding to peptide variants by</text>
<text x="1434.9" y="708.0" font-size="24.5" textLength="414.8" lengthAdjust="spacingAndGlyphs">Isothermal Titration Calorimetry (ITC)</text>
<g stroke="#d9d9d9" stroke-width="1.8">
<path d="M1477 745.4H1769.6"/>
<path d="M1477 872.8H1769.6"/>
<path d="M1477 1001.0H1769.6"/>
<path d="M1477 1129.4H1769.6"/>
<path d="M1477 1257.3H1769.6"/>
</g>
<text x="1451.0" y="753.6" font-size="25.5" text-anchor="end" font-weight="bold" fill="#595959">10000</text>
<text x="1451.0" y="881.2" font-size="25.5" text-anchor="end" font-weight="bold" fill="#595959">1000</text>
<text x="1451.0" y="1008.0" font-size="25.5" text-anchor="end" font-weight="bold" fill="#595959">100</text>
<text x="1451.0" y="1136.7" font-size="25.5" text-anchor="end" font-weight="bold" fill="#595959">10</text>
<text x="1451.0" y="1265.3" font-size="25.5" text-anchor="end" font-weight="bold" fill="#595959">1</text>
<text x="1451.0" y="1394.4" font-size="25.5" text-anchor="end" font-weight="bold" fill="#595959">0.1</text>
<path d="M1475.8 744.4V1385.3H1768" stroke="#000" stroke-width="3.2" fill="none"/>
<path d="M1514.0 1206.0L1522.5 1220.0L1505.5 1220.0Z" fill="#d3d3d3" stroke="#d3d3d3" stroke-width="1.5" stroke-linejoin="round"/>
<path d="M1558.0 1256.1L1566.5 1270.1L1549.5 1270.1Z" fill="#d3d3d3" stroke="#d3d3d3" stroke-width="1.5" stroke-linejoin="round"/>
<path d="M1598.8 1142.4L1607.3 1156.4L1590.3 1156.4Z" fill="#d3d3d3" stroke="#d3d3d3" stroke-width="1.5" stroke-linejoin="round"/>
<path d="M1641.6 1088.8L1650.1 1102.8L1633.1 1102.8Z" fill="#d3d3d3" stroke="#d3d3d3" stroke-width="1.5" stroke-linejoin="round"/>
<path d="M1682.0 1038.1L1690.5 1052.1L1673.5 1052.1Z" fill="#d3d3d3" stroke="#d3d3d3" stroke-width="1.5" stroke-linejoin="round"/>
<path d="M1726.0 1154.2L1734.5 1168.2L1717.5 1168.2Z" fill="#d3d3d3" stroke="#d3d3d3" stroke-width="1.5" stroke-linejoin="round"/>
<circle cx="1514.0" cy="1061.7" r="7.2" fill="#6d6d6d"/>
<circle cx="1558.0" cy="1055.6" r="7.2" fill="#6d6d6d"/>
<circle cx="1598.8" cy="937.4" r="7.2" fill="#6d6d6d"/>
<circle cx="1641.6" cy="984.2" r="7.2" fill="#6d6d6d"/>
<circle cx="1682.0" cy="821.6" r="7.2" fill="#6d6d6d"/>
<circle cx="1726.0" cy="902.7" r="7.2" fill="#6d6d6d"/>
<rect x="1507.2" y="1137.0" width="13.5" height="13.5" rx="2" fill="#8a8a8a"/>
<rect x="1551.2" y="1190.5" width="13.5" height="13.5" rx="2" fill="#8a8a8a"/>
<rect x="1592.0" y="1059.3" width="13.5" height="13.5" rx="2" fill="#8a8a8a"/>
<rect x="1634.8" y="1079.0" width="13.5" height="13.5" rx="2" fill="#8a8a8a"/>
<rect x="1675.2" y="900.5" width="13.5" height="13.5" rx="2" fill="#8a8a8a"/>
<rect x="1719.2" y="999.8" width="13.5" height="13.5" rx="2" fill="#8a8a8a"/>
<path d="M1514.0 1161.7L1520.3 1168.0L1514.0 1174.3L1507.7 1168.0Z" fill="#b3b3b3"/>
<path d="M1558.0 1191.0L1564.3 1197.3L1558.0 1203.6L1551.7 1197.3Z" fill="#b3b3b3"/>
<path d="M1598.8 1074.1L1605.1 1080.4L1598.8 1086.7L1592.5 1080.4Z" fill="#b3b3b3"/>
<path d="M1641.6 1082.3L1647.9 1088.6L1641.6 1094.9L1635.3 1088.6Z" fill="#b3b3b3"/>
<path d="M1682.0 951.1L1688.3 957.4L1682.0 963.7L1675.7 957.4Z" fill="#b3b3b3"/>
<path d="M1726.0 1004.9L1732.3 1011.2L1726.0 1017.5L1719.7 1011.2Z" fill="#b3b3b3"/>
<path d="M1503.5 1063.5L1524.5 1084.5M1503.5 1084.5L1524.5 1063.5" stroke="#8e8e8e" stroke-width="3.6" fill="none"/>
<path d="M1547.5 1047.5L1568.5 1068.5M1547.5 1068.5L1568.5 1047.5" stroke="#8e8e8e" stroke-width="3.6" fill="none"/>
<path d="M1588.3 886.8L1609.3 907.8M1588.3 907.8L1609.3 886.8" stroke="#8e8e8e" stroke-width="3.6" fill="none"/>
<path d="M1631.1 996.5L1652.1 1017.5M1631.1 1017.5L1652.1 996.5" stroke="#8e8e8e" stroke-width="3.6" fill="none"/>
<path d="M1671.5 843.9L1692.5 864.9M1671.5 864.9L1692.5 843.9" stroke="#8e8e8e" stroke-width="3.6" fill="none"/>
<path d="M1715.5 900.0L1736.5 921.0M1715.5 921.0L1736.5 900.0" stroke="#8e8e8e" stroke-width="3.6" fill="none"/>
<circle cx="1794" cy="1021.4" r="8" fill="#6d6d6d"/>
<text x="1807.0" y="1029.7" font-size="22.5" textLength="105.9" lengthAdjust="spacingAndGlyphs" fill="#595959">VRC34.01</text>
<rect x="1786" y="1054.0" width="16" height="16" rx="2.5" fill="#8a8a8a"/>
<text x="1807.0" y="1070.3" font-size="22.5" textLength="52.5" lengthAdjust="spacingAndGlyphs" fill="#595959">T59F</text>
<path d="M1788.3 1097.3L1800.9 1109.9M1788.3 1109.9L1800.9 1097.3" stroke="#8e8e8e" stroke-width="3.2" fill="none"/>
<text x="1807.0" y="1111.9" font-size="22.5" textLength="42.5" lengthAdjust="spacingAndGlyphs" fill="#595959">E2K</text>
<path d="M1794.6 1137.4L1800.9 1143.7L1794.6 1150.0L1788.3 1143.7Z" fill="#b3b3b3"/>
<text x="1807.0" y="1152.0" font-size="22.5" textLength="85.0" lengthAdjust="spacingAndGlyphs" fill="#595959">Combo1</text>
<path d="M1794.6 1175.6L1803.1 1189.6L1786.1 1189.6Z" fill="#d3d3d3" stroke="#d3d3d3" stroke-width="1.5" stroke-linejoin="round"/>
<text x="1807.0" y="1192.3" font-size="22.5" textLength="62.5" lengthAdjust="spacingAndGlyphs" fill="#595959">mm28</text>
<text transform="translate(1361.2 1209.2) rotate(-90)" font-size="28.5" textLength="212.5" lengthAdjust="spacingAndGlyphs">affinity increases</text>
<text transform="translate(1399 1157.4) rotate(-90)" font-size="28.5">K<tspan font-size="19" dy="7">d</tspan><tspan dy="-7"> (nM)</tspan></text>
<path d="M1349.1 1238.6H1356.4V1312.6H1360.7L1352.8 1330L1345.1 1312.6H1349.1Z" fill="#000"/>
<text transform="translate(1518.7 1411.8) rotate(-47.5)" text-anchor="end" font-size="29.5">v1 - AVGIGAVF</text>
<text transform="translate(1563.6 1411.8) rotate(-47.5)" text-anchor="end" font-size="29.5">v2 - AVGLGAVF</text>
<text transform="translate(1609.9 1411.8) rotate(-47.5)" text-anchor="end" font-size="29.5">v3F - AIGLGAVF</text>
<text transform="translate(1654.8 1411.8) rotate(-47.5)" text-anchor="end" font-size="29.5">v4 - AVGTIGAMF</text>
<text transform="translate(1701.0 1411.8) rotate(-47.5)" text-anchor="end" font-size="29.5">v3 - AIGLGAMF</text>
<text transform="translate(1748.7 1411.8) rotate(-47.5)" text-anchor="end" font-size="29.5">Thai - AVGIGAMI</text>
<text x="31.1" y="1578.4" font-size="48.5" font-weight="bold">D</text>
<text x="118.0" y="1565.6" font-size="24.0" textLength="812.8" lengthAdjust="spacingAndGlyphs">Residue-Residue pair energy analysis by Molecular Dynamics Simulation</text>
<text x="126.5" y="1626.8" font-size="24.0" textLength="303.8" lengthAdjust="spacingAndGlyphs">E2K substitution interaction</text>
<text x="141.5" y="1656.3" font-size="24.0" textLength="274.9" lengthAdjust="spacingAndGlyphs">E2/K2(H) vs E87(gp120)</text>
<text x="550.5" y="1635.0" font-size="24.0" textLength="313.7" lengthAdjust="spacingAndGlyphs">T59F substitution interaction</text>
<text x="586.8" y="1664.6" font-size="24.0" textLength="242.3" lengthAdjust="spacingAndGlyphs">T59/F59(H) vs Y94(L)</text>
<text x="1151.9" y="1631.5" font-size="24.0" textLength="316.8" lengthAdjust="spacingAndGlyphs">A33P substitution interaction</text>
<text x="1001.2" y="1660.8" font-size="24.0" textLength="265.7" lengthAdjust="spacingAndGlyphs">A33/P33(H) vs I515(FP)</text>
<text x="1394.3" y="1660.7" font-size="24.0" textLength="217.9" lengthAdjust="spacingAndGlyphs">N52(H) vs I515(FP)</text>
<clipPath id="c1"><rect x="97.9" y="1684.0" width="363.6" height="364.3"/></clipPath><g clip-path="url(#c1)"><g opacity="0.55" fill="none" stroke-linecap="round" stroke-linejoin="round"><path d="M99.0 1832.4C106.7 1832.4 126.3 1834.8 141.7 1832.4C157.1 1830.0 171.1 1822.2 184.4 1818.9C197.8 1815.7 210.3 1815.2 215.9 1814.4" stroke="#aeb0db" stroke-width="17.2"/><path d="M99.0 1832.4C106.7 1832.4 126.3 1834.8 141.7 1832.4C157.1 1830.0 171.1 1822.2 184.4 1818.9C197.8 1815.7 210.3 1815.2 215.9 1814.4" stroke="#c2c4f4" stroke-width="15.8"/><path d="M99.0 1832.4C106.7 1832.4 126.3 1834.8 141.7 1832.4C157.1 1830.0 171.1 1822.2 184.4 1818.9C197.8 1815.7 210.3 1815.2 215.9 1814.4" stroke="#d4d5f7" stroke-width="5.0" transform="translate(-1.3 -2.8)"/></g>
<g opacity="0.45" fill="none" stroke-linecap="round" stroke-linejoin="round"><path d="M99.0 1845.9C105.5 1845.9 121.2 1848.3 135.0 1845.9C148.7 1843.5 162.5 1835.6 175.5 1832.4C188.4 1829.2 201.3 1828.7 206.9 1827.9" stroke="#abace2" stroke-width="20.3"/><path d="M99.0 1845.9C105.5 1845.9 121.2 1848.3 135.0 1845.9C148.7 1843.5 162.5 1835.6 175.5 1832.4C188.4 1829.2 201.3 1828.7 206.9 1827.9" stroke="#b4b6ee" stroke-width="18.9"/><path d="M99.0 1845.9C105.5 1845.9 121.2 1848.3 135.0 1845.9C148.7 1843.5 162.5 1835.6 175.5 1832.4C188.4 1829.2 201.3 1828.7 206.9 1827.9" stroke="#cacbf3" stroke-width="6.1" transform="translate(-1.5 -3.4)"/></g>
<g opacity="0.35" fill="none" stroke-linecap="round" stroke-linejoin="round"><path d="M130.5 1877.4C135.3 1878.6 147.7 1884.9 157.5 1884.1C167.2 1883.3 179.6 1874.9 184.4 1872.9" stroke="#e6a6da" stroke-width="15.8"/><path d="M130.5 1877.4C135.3 1878.6 147.7 1884.9 157.5 1884.1C167.2 1883.3 179.6 1874.9 184.4 1872.9" stroke="#ebb7e1" stroke-width="5.0" transform="translate(-1.3 -2.8)"/></g>
<g opacity="0.50" fill="none" stroke-linecap="round" stroke-linejoin="round"><path d="M99.0 2016.8C102.2 2020.0 112.1 2029.1 117.0 2034.8C121.8 2040.5 124.4 2045.9 126.0 2048.3" stroke="#f0b0e6" stroke-width="28.4"/></g>
<g opacity="0.70" fill="none" stroke-linecap="round" stroke-linejoin="round"><path d="M128.2 1859.4C132.7 1863.8 143.7 1878.5 153.0 1884.1C162.3 1889.8 168.6 1888.4 179.9 1890.9C191.3 1893.3 209.5 1896.4 215.9 1897.6" stroke="#e5bade" stroke-width="14.0"/><path d="M128.2 1859.4C132.7 1863.8 143.7 1878.5 153.0 1884.1C162.3 1889.8 168.6 1888.4 179.9 1890.9C191.3 1893.3 209.5 1896.4 215.9 1897.6" stroke="#f2c4ea" stroke-width="12.6"/><path d="M128.2 1859.4C132.7 1863.8 143.7 1878.5 153.0 1884.1C162.3 1889.8 168.6 1888.4 179.9 1890.9C191.3 1893.3 209.5 1896.4 215.9 1897.6" stroke="#f5d5f0" stroke-width="4.0" transform="translate(-1.0 -2.3)"/></g>
<g opacity="0.60" fill="none" stroke-linecap="round"><path d="M101.2 1805.4L105.7 1830.2M106.9 1803.2L111.4 1827.9" stroke="#e0a0a0" stroke-width="6.5"/><path d="M101.2 1805.4L105.7 1830.2M106.9 1803.2L111.4 1827.9" stroke="#f08080" stroke-width="5.2"/></g>
<g opacity="0.70" fill="none" stroke-linecap="round"><path d="M141.7 1809.9L144.0 1832.4M164.2 1800.9L165.3 1823.4" stroke="#8c8c8c" stroke-width="5.9"/><path d="M141.7 1809.9L144.0 1832.4M164.2 1800.9L165.3 1823.4" stroke="#f4f4f4" stroke-width="4.6"/></g>
<g opacity="1.00" fill="none" stroke-linecap="round" stroke-linejoin="round"><path d="M99.0 1971.8C105.5 1969.8 120.4 1964.2 135.0 1960.6C149.5 1956.9 168.2 1953.1 179.9 1951.6C191.7 1950.1 195.1 1949.2 200.2 1952.0C205.2 1954.9 205.2 1958.5 208.1 1967.3C210.9 1976.2 212.7 1986.5 215.9 2001.1C219.2 2015.6 224.2 2039.8 226.0 2048.3" stroke="#484a95" stroke-width="13.4"/><path d="M99.0 1971.8C105.5 1969.8 120.4 1964.2 135.0 1960.6C149.5 1956.9 168.2 1953.1 179.9 1951.6C191.7 1950.1 195.1 1949.2 200.2 1952.0C205.2 1954.9 205.2 1958.5 208.1 1967.3C210.9 1976.2 212.7 1986.5 215.9 2001.1C219.2 2015.6 224.2 2039.8 226.0 2048.3" stroke="#6f73e6" stroke-width="12.0"/><path d="M99.0 1971.8C105.5 1969.8 120.4 1964.2 135.0 1960.6C149.5 1956.9 168.2 1953.1 179.9 1951.6C191.7 1950.1 195.1 1949.2 200.2 1952.0C205.2 1954.9 205.2 1958.5 208.1 1967.3C210.9 1976.2 212.7 1986.5 215.9 2001.1C219.2 2015.6 224.2 2039.8 226.0 2048.3" stroke="#a8abf0" stroke-width="3.8" transform="translate(-1.0 -2.2)"/></g>
<g opacity="1.00" fill="none" stroke-linecap="round" stroke-linejoin="round"><path d="M144.0 2049.4C147.6 2047.4 156.1 2041.1 164.2 2038.2C172.3 2035.2 181.3 2032.8 188.9 2033.0C196.6 2033.2 201.7 2036.3 206.9 2039.3C212.2 2042.2 216.2 2047.6 218.2 2049.4" stroke="#4f4f4f" stroke-width="12.8"/><path d="M144.0 2049.4C147.6 2047.4 156.1 2041.1 164.2 2038.2C172.3 2035.2 181.3 2032.8 188.9 2033.0C196.6 2033.2 201.7 2036.3 206.9 2039.3C212.2 2042.2 216.2 2047.6 218.2 2049.4" stroke="#7a7a7a" stroke-width="11.4"/><path d="M144.0 2049.4C147.6 2047.4 156.1 2041.1 164.2 2038.2C172.3 2035.2 181.3 2032.8 188.9 2033.0C196.6 2033.2 201.7 2036.3 206.9 2039.3C212.2 2042.2 216.2 2047.6 218.2 2049.4" stroke="#a8a8a8" stroke-width="3.6" transform="translate(-0.9 -2.0)"/></g>
<g opacity="1.00" fill="none" stroke-linecap="round" stroke-linejoin="round"><path d="M247.4 1981.9C249.2 1984.4 253.3 1989.0 257.5 1995.4C261.8 2001.9 266.8 2008.2 271.0 2017.9C275.3 2027.6 279.3 2043.7 281.1 2049.4" stroke="#720f64" stroke-width="13.4"/><path d="M247.4 1981.9C249.2 1984.4 253.3 1989.0 257.5 1995.4C261.8 2001.9 266.8 2008.2 271.0 2017.9C275.3 2027.6 279.3 2043.7 281.1 2049.4" stroke="#b0189a" stroke-width="12.0"/><path d="M247.4 1981.9C249.2 1984.4 253.3 1989.0 257.5 1995.4C261.8 2001.9 266.8 2008.2 271.0 2017.9C275.3 2027.6 279.3 2043.7 281.1 2049.4" stroke="#cb68bd" stroke-width="3.8" transform="translate(-1.0 -2.2)"/></g>
<g opacity="1.00" fill="none" stroke-linecap="round" stroke-linejoin="round"><path d="M436.3 1929.1C437.3 1934.0 443.5 1948.8 441.9 1956.1C440.3 1963.4 438.0 1966.1 427.3 1969.6C416.6 1973.0 398.5 1971.2 382.3 1975.2C366.1 1979.3 349.9 1984.6 337.4 1992.1C324.8 1999.6 318.9 2006.5 312.6 2016.8C306.3 2027.1 304.3 2043.5 302.5 2049.4" stroke="#9c9ecb" stroke-width="14.0"/><path d="M436.3 1929.1C437.3 1934.0 443.5 1948.8 441.9 1956.1C440.3 1963.4 438.0 1966.1 427.3 1969.6C416.6 1973.0 398.5 1971.2 382.3 1975.2C366.1 1979.3 349.9 1984.6 337.4 1992.1C324.8 1999.6 318.9 2006.5 312.6 2016.8C306.3 2027.1 304.3 2043.5 302.5 2049.4" stroke="#b8bbef" stroke-width="12.6"/><path d="M436.3 1929.1C437.3 1934.0 443.5 1948.8 441.9 1956.1C440.3 1963.4 438.0 1966.1 427.3 1969.6C416.6 1973.0 398.5 1971.2 382.3 1975.2C366.1 1979.3 349.9 1984.6 337.4 1992.1C324.8 1999.6 318.9 2006.5 312.6 2016.8C306.3 2027.1 304.3 2043.5 302.5 2049.4" stroke="#d0d2f4" stroke-width="4.0" transform="translate(-1.0 -2.3)"/></g>
<g opacity="1.00" fill="none" stroke-linecap="round" stroke-linejoin="round"><path d="M445.3 1929.1C446.1 1934.0 450.6 1947.8 449.8 1956.1C449.0 1964.4 448.9 1969.7 440.8 1975.2C432.7 1980.7 419.4 1982.6 404.8 1986.4C390.2 1990.3 372.0 1990.9 359.8 1996.6C347.7 2002.2 342.8 2008.4 337.4 2017.9C331.9 2027.4 330.9 2043.7 329.5 2049.4" stroke="#919191" stroke-width="15.3"/><path d="M445.3 1929.1C446.1 1934.0 450.6 1947.8 449.8 1956.1C449.0 1964.4 448.9 1969.7 440.8 1975.2C432.7 1980.7 419.4 1982.6 404.8 1986.4C390.2 1990.3 372.0 1990.9 359.8 1996.6C347.7 2002.2 342.8 2008.4 337.4 2017.9C331.9 2027.4 330.9 2043.7 329.5 2049.4" stroke="#c2c2c2" stroke-width="13.9"/><path d="M445.3 1929.1C446.1 1934.0 450.6 1947.8 449.8 1956.1C449.0 1964.4 448.9 1969.7 440.8 1975.2C432.7 1980.7 419.4 1982.6 404.8 1986.4C390.2 1990.3 372.0 1990.9 359.8 1996.6C347.7 2002.2 342.8 2008.4 337.4 2017.9C331.9 2027.4 330.9 2043.7 329.5 2049.4" stroke="#dddddd" stroke-width="4.4" transform="translate(-1.1 -2.5)"/></g>
<g opacity="1.00" fill="none" stroke-linecap="round" stroke-linejoin="round"><path d="M434.1 1933.6C437.9 1938.9 451.8 1952.7 455.4 1962.8C459.1 1973.0 459.4 1981.5 454.3 1989.8C449.2 1998.1 439.9 2002.3 427.3 2008.9C414.8 2015.6 394.5 2019.6 384.6 2026.9C374.7 2034.2 374.4 2045.4 372.2 2049.4" stroke="#722765" stroke-width="16.5"/><path d="M434.1 1933.6C437.9 1938.9 451.8 1952.7 455.4 1962.8C459.1 1973.0 459.4 1981.5 454.3 1989.8C449.2 1998.1 439.9 2002.3 427.3 2008.9C414.8 2015.6 394.5 2019.6 384.6 2026.9C374.7 2034.2 374.4 2045.4 372.2 2049.4" stroke="#b03c9c" stroke-width="15.1"/><path d="M434.1 1933.6C437.9 1938.9 451.8 1952.7 455.4 1962.8C459.1 1973.0 459.4 1981.5 454.3 1989.8C449.2 1998.1 439.9 2002.3 427.3 2008.9C414.8 2015.6 394.5 2019.6 384.6 2026.9C374.7 2034.2 374.4 2045.4 372.2 2049.4" stroke="#cb80be" stroke-width="4.8" transform="translate(-1.2 -2.7)"/></g>
<path d="M456.5 2023.5L462.2 2016.8L462.2 2049.4Z" fill="#111"/>
<g opacity="1.00" fill="none" stroke-linecap="round" stroke-linejoin="round"><path d="M99.0 1915.6C103.9 1915.2 116.3 1913.7 126.0 1913.4C135.7 1913.0 145.7 1916.2 153.0 1913.8C160.2 1911.5 160.8 1904.0 166.5 1900.3C172.1 1896.7 179.2 1893.5 184.4 1893.6C189.7 1893.7 193.7 1899.7 195.7 1901.0" stroke="#959595" stroke-width="15.3"/><path d="M99.0 1915.6C103.9 1915.2 116.3 1913.7 126.0 1913.4C135.7 1913.0 145.7 1916.2 153.0 1913.8C160.2 1911.5 160.8 1904.0 166.5 1900.3C172.1 1896.7 179.2 1893.5 184.4 1893.6C189.7 1893.7 193.7 1899.7 195.7 1901.0" stroke="#d6d6d6" stroke-width="13.9"/><path d="M99.0 1915.6C103.9 1915.2 116.3 1913.7 126.0 1913.4C135.7 1913.0 145.7 1916.2 153.0 1913.8C160.2 1911.5 160.8 1904.0 166.5 1900.3C172.1 1896.7 179.2 1893.5 184.4 1893.6C189.7 1893.7 193.7 1899.7 195.7 1901.0" stroke="#eeeeee" stroke-width="4.4" transform="translate(-1.1 -2.5)"/></g>
<g opacity="1.00" fill="none" stroke-linecap="round" stroke-linejoin="round"><path d="M195.7 1901.0L210.3 1910.0" stroke="#cc5f5f" stroke-width="15.3"/><path d="M195.7 1901.0L210.3 1910.0" stroke="#f07070" stroke-width="13.9"/><path d="M195.7 1901.0L210.3 1910.0" stroke="#f6a9a9" stroke-width="4.4" transform="translate(-1.1 -2.5)"/></g>
<g opacity="1.00" fill="none" stroke-linecap="round" stroke-linejoin="round"><path d="M112.5 1911.1L112.5 1967.3" stroke="#909090" stroke-width="14.0"/><path d="M112.5 1911.1L112.5 1967.3" stroke="#cfcfcf" stroke-width="12.6"/><path d="M112.5 1911.1L112.5 1967.3" stroke="#e7e7e7" stroke-width="4.0" transform="translate(-1.0 -2.3)"/></g>
<g opacity="0.80" fill="none" stroke-linecap="round" stroke-linejoin="round"><path d="M99.0 1944.8L139.5 1942.6" stroke="#9c9c9c" stroke-width="12.8"/><path d="M99.0 1944.8L139.5 1942.6" stroke="#d0d0d0" stroke-width="11.4"/><path d="M99.0 1944.8L139.5 1942.6" stroke="#e7e7e7" stroke-width="3.6" transform="translate(-0.9 -2.0)"/></g>
<g opacity="1.00" fill="none" stroke-linecap="round"><path d="M110.2 1887.5L112.5 1911.1M141.7 1896.5L146.2 1913.4M153.0 1922.4L157.0 1942.6M106.9 1967.3L111.4 1969.6" stroke="#8c8c8c" stroke-width="5.9"/><path d="M110.2 1887.5L112.5 1911.1M141.7 1896.5L146.2 1913.4M153.0 1922.4L157.0 1942.6M106.9 1967.3L111.4 1969.6" stroke="#f4f4f4" stroke-width="4.6"/></g>
<g opacity="1.00" fill="none" stroke-linecap="round" stroke-linejoin="round"><path d="M233.9 1861.6C236.3 1857.2 242.3 1842.6 247.4 1836.9C252.5 1831.2 259.4 1831.4 262.0 1830.2" stroke="#484a95" stroke-width="14.0"/><path d="M233.9 1861.6C236.3 1857.2 242.3 1842.6 247.4 1836.9C252.5 1831.2 259.4 1831.4 262.0 1830.2" stroke="#6f73e6" stroke-width="12.6"/><path d="M233.9 1861.6C236.3 1857.2 242.3 1842.6 247.4 1836.9C252.5 1831.2 259.4 1831.4 262.0 1830.2" stroke="#afb2f1" stroke-width="4.0" transform="translate(-1.0 -2.3)"/></g>
<g opacity="1.00" fill="none" stroke-linecap="round" stroke-linejoin="round"><path d="M184.4 1862.8C192.5 1863.1 218.5 1867.4 229.4 1864.3C240.3 1861.3 242.3 1849.2 245.2 1845.9" stroke="#911782" stroke-width="14.7"/><path d="M184.4 1862.8C192.5 1863.1 218.5 1867.4 229.4 1864.3C240.3 1861.3 242.3 1849.2 245.2 1845.9" stroke="#e024c8" stroke-width="13.3"/><path d="M184.4 1862.8C192.5 1863.1 218.5 1867.4 229.4 1864.3C240.3 1861.3 242.3 1849.2 245.2 1845.9" stroke="#ed86e0" stroke-width="4.2" transform="translate(-1.1 -2.4)"/></g>
<g opacity="1.00" fill="none" stroke-linecap="round" stroke-linejoin="round"><path d="M135.0 1844.1C143.1 1844.5 163.4 1845.5 179.9 1846.4C196.5 1847.2 218.7 1848.2 227.2 1848.6" stroke="#484a95" stroke-width="15.3"/><path d="M135.0 1844.1C143.1 1844.5 163.4 1845.5 179.9 1846.4C196.5 1847.2 218.7 1848.2 227.2 1848.6" stroke="#6f73e6" stroke-width="13.9"/><path d="M135.0 1844.1C143.1 1844.5 163.4 1845.5 179.9 1846.4C196.5 1847.2 218.7 1848.2 227.2 1848.6" stroke="#afb2f1" stroke-width="4.4" transform="translate(-1.1 -2.5)"/></g>
<g opacity="1.00" fill="none" stroke-linecap="round" stroke-linejoin="round"><path d="M227.2 1848.6C229.0 1844.1 234.1 1830.4 237.3 1823.4C240.5 1816.5 243.7 1812.4 245.2 1809.9" stroke="#484a95" stroke-width="14.7"/><path d="M227.2 1848.6C229.0 1844.1 234.1 1830.4 237.3 1823.4C240.5 1816.5 243.7 1812.4 245.2 1809.9" stroke="#6f73e6" stroke-width="13.3"/><path d="M227.2 1848.6C229.0 1844.1 234.1 1830.4 237.3 1823.4C240.5 1816.5 243.7 1812.4 245.2 1809.9" stroke="#afb2f1" stroke-width="4.2" transform="translate(-1.1 -2.4)"/></g>
<g opacity="1.00" fill="none" stroke-linecap="round" stroke-linejoin="round"><path d="M227.2 1830.2L245.2 1811.0" stroke="#1b1b92" stroke-width="12.8"/><path d="M227.2 1830.2L245.2 1811.0" stroke="#2b2be2" stroke-width="11.4"/><path d="M227.2 1830.2L245.2 1811.0" stroke="#7f7fed" stroke-width="3.6" transform="translate(-0.9 -2.0)"/></g>
<circle cx="141.7" cy="1842.5" r="5.5" fill="#4a4cb8"/>
<g opacity="1.00" fill="none" stroke-linecap="round"><path d="M245.2 1809.9L240.2 1790.8M247.4 1818.9L274.4 1823.4M263.2 1832.4L283.8 1836.0M164.2 1874.0L179.9 1859.8M175.5 1880.1L187.1 1870.2M233.9 1868.8L247.4 1888.6M171.0 1818.9L184.4 1830.2M119.2 1848.2L135.0 1842.5M228.3 1851.5L236.2 1852.6" stroke="#8c8c8c" stroke-width="5.9"/><path d="M245.2 1809.9L240.2 1790.8M247.4 1818.9L274.4 1823.4M263.2 1832.4L283.8 1836.0M164.2 1874.0L179.9 1859.8M175.5 1880.1L187.1 1870.2M233.9 1868.8L247.4 1888.6M171.0 1818.9L184.4 1830.2M119.2 1848.2L135.0 1842.5M228.3 1851.5L236.2 1852.6" stroke="#f4f4f4" stroke-width="4.6"/></g>
<g opacity="1.00" fill="none" stroke-linecap="round" stroke-linejoin="round"><path d="M317.1 1818.9L325.7 1850.4" stroke="#b42626" stroke-width="6.4"/><path d="M317.1 1818.9L325.7 1850.4" stroke="#e23030" stroke-width="5.0"/><path d="M317.1 1818.9L325.7 1850.4" stroke="#ea6e6e" stroke-width="1.6" transform="translate(-0.4 -0.9)"/></g>
<g opacity="1.00" fill="none" stroke-linecap="round" stroke-linejoin="round"><path d="M325.0 1814.4L331.7 1848.2" stroke="#b42626" stroke-width="6.4"/><path d="M325.0 1814.4L331.7 1848.2" stroke="#e23030" stroke-width="5.0"/><path d="M325.0 1814.4L331.7 1848.2" stroke="#ea6e6e" stroke-width="1.6" transform="translate(-0.4 -0.9)"/></g>
<g opacity="1.00" fill="none" stroke-linecap="round" stroke-linejoin="round"><path d="M332.9 1809.9L339.2 1845.9" stroke="#b42626" stroke-width="6.4"/><path d="M332.9 1809.9L339.2 1845.9" stroke="#e23030" stroke-width="5.0"/><path d="M332.9 1809.9L339.2 1845.9" stroke="#ea6e6e" stroke-width="1.6" transform="translate(-0.4 -0.9)"/></g>
<g opacity="1.00" fill="none" stroke-linecap="round" stroke-linejoin="round"><path d="M338.3 1809.9L344.1 1845.9" stroke="#b42626" stroke-width="6.4"/><path d="M338.3 1809.9L344.1 1845.9" stroke="#e23030" stroke-width="5.0"/><path d="M338.3 1809.9L344.1 1845.9" stroke="#ea6e6e" stroke-width="1.6" transform="translate(-0.4 -0.9)"/></g>
<g opacity="1.00" fill="none" stroke-linecap="round" stroke-linejoin="round"><path d="M359.8 1845.9C366.3 1844.4 383.7 1836.1 395.8 1837.4C408.0 1838.7 415.6 1851.6 427.3 1853.1C439.0 1854.6 455.0 1847.2 461.0 1845.9" stroke="#595c96" stroke-width="15.3"/><path d="M359.8 1845.9C366.3 1844.4 383.7 1836.1 395.8 1837.4C408.0 1838.7 415.6 1851.6 427.3 1853.1C439.0 1854.6 455.0 1847.2 461.0 1845.9" stroke="#8a8ee8" stroke-width="13.9"/><path d="M359.8 1845.9C366.3 1844.4 383.7 1836.1 395.8 1837.4C408.0 1838.7 415.6 1851.6 427.3 1853.1C439.0 1854.6 455.0 1847.2 461.0 1845.9" stroke="#b8bbf1" stroke-width="4.4" transform="translate(-1.1 -2.5)"/></g>
<g opacity="1.00" fill="none" stroke-linecap="round" stroke-linejoin="round"><path d="M337.4 1854.9C340.6 1854.2 349.3 1849.6 355.3 1850.8C361.4 1852.1 362.6 1861.7 371.1 1862.1C379.6 1862.5 394.5 1854.3 402.6 1853.1C410.7 1851.9 410.8 1853.7 416.1 1855.3C421.3 1857.0 429.0 1860.9 431.8 1862.1" stroke="#8e8e8e" stroke-width="16.5"/><path d="M337.4 1854.9C340.6 1854.2 349.3 1849.6 355.3 1850.8C361.4 1852.1 362.6 1861.7 371.1 1862.1C379.6 1862.5 394.5 1854.3 402.6 1853.1C410.7 1851.9 410.8 1853.7 416.1 1855.3C421.3 1857.0 429.0 1860.9 431.8 1862.1" stroke="#cccccc" stroke-width="15.1"/><path d="M337.4 1854.9C340.6 1854.2 349.3 1849.6 355.3 1850.8C361.4 1852.1 362.6 1861.7 371.1 1862.1C379.6 1862.5 394.5 1854.3 402.6 1853.1C410.7 1851.9 410.8 1853.7 416.1 1855.3C421.3 1857.0 429.0 1860.9 431.8 1862.1" stroke="#eaeaea" stroke-width="4.8" transform="translate(-1.2 -2.7)"/></g>
<g opacity="1.00" fill="none" stroke-linecap="round" stroke-linejoin="round"><path d="M321.6 1868.8C324.5 1868.4 329.6 1863.6 337.4 1866.6C345.1 1869.5 352.6 1884.7 364.8 1885.3C376.9 1885.8 393.2 1871.2 404.8 1869.7C416.5 1868.3 419.4 1878.0 429.6 1877.4C439.7 1876.8 455.4 1868.5 461.0 1866.6" stroke="#911782" stroke-width="14.7"/><path d="M321.6 1868.8C324.5 1868.4 329.6 1863.6 337.4 1866.6C345.1 1869.5 352.6 1884.7 364.8 1885.3C376.9 1885.8 393.2 1871.2 404.8 1869.7C416.5 1868.3 419.4 1878.0 429.6 1877.4C439.7 1876.8 455.4 1868.5 461.0 1866.6" stroke="#e024c8" stroke-width="13.3"/><path d="M321.6 1868.8C324.5 1868.4 329.6 1863.6 337.4 1866.6C345.1 1869.5 352.6 1884.7 364.8 1885.3C376.9 1885.8 393.2 1871.2 404.8 1869.7C416.5 1868.3 419.4 1878.0 429.6 1877.4C439.7 1876.8 455.4 1868.5 461.0 1866.6" stroke="#ed86e0" stroke-width="4.2" transform="translate(-1.1 -2.4)"/></g>
<g opacity="1.00" fill="none" stroke-linecap="round" stroke-linejoin="round"><path d="M307.0 1876.3L323.9 1867.3" stroke="#a92424" stroke-width="17.2"/><path d="M307.0 1876.3L323.9 1867.3" stroke="#e23030" stroke-width="15.8"/><path d="M307.0 1876.3L323.9 1867.3" stroke="#ec7878" stroke-width="5.0" transform="translate(-1.3 -2.8)"/></g>
<g opacity="1.00" fill="none" stroke-linecap="round" stroke-linejoin="round"><path d="M326.1 1868.8L337.4 1854.9" stroke="#a92424" stroke-width="15.9"/><path d="M326.1 1868.8L337.4 1854.9" stroke="#e23030" stroke-width="14.5"/><path d="M326.1 1868.8L337.4 1854.9" stroke="#ec7878" stroke-width="4.6" transform="translate(-1.2 -2.6)"/></g>
<g opacity="1.00" fill="none" stroke-linecap="round" stroke-linejoin="round"><path d="M426.2 1878.5C427.2 1882.8 430.2 1893.8 431.8 1902.1C433.4 1910.4 434.6 1920.6 435.2 1924.6" stroke="#651b58" stroke-width="17.2"/><path d="M426.2 1878.5C427.2 1882.8 430.2 1893.8 431.8 1902.1C433.4 1910.4 434.6 1920.6 435.2 1924.6" stroke="#9c2a88" stroke-width="15.8"/><path d="M426.2 1878.5C427.2 1882.8 430.2 1893.8 431.8 1902.1C433.4 1910.4 434.6 1920.6 435.2 1924.6" stroke="#b969ab" stroke-width="5.0" transform="translate(-1.3 -2.8)"/></g>
<g opacity="1.00" fill="none" stroke-linecap="round" stroke-linejoin="round"><path d="M427.3 1902.1L432.9 1926.9" stroke="#252577" stroke-width="14.0"/><path d="M427.3 1902.1L432.9 1926.9" stroke="#3a3ab8" stroke-width="12.6"/><path d="M427.3 1902.1L432.9 1926.9" stroke="#7575cd" stroke-width="4.0" transform="translate(-1.0 -2.3)"/></g>
<g opacity="1.00" fill="none" stroke-linecap="round" stroke-linejoin="round"><path d="M431.8 1856.0C434.2 1851.4 440.0 1838.1 445.3 1830.2C450.6 1822.3 458.2 1815.4 461.0 1812.2" stroke="#484a95" stroke-width="15.3"/><path d="M431.8 1856.0C434.2 1851.4 440.0 1838.1 445.3 1830.2C450.6 1822.3 458.2 1815.4 461.0 1812.2" stroke="#6f73e6" stroke-width="13.9"/><path d="M431.8 1856.0C434.2 1851.4 440.0 1838.1 445.3 1830.2C450.6 1822.3 458.2 1815.4 461.0 1812.2" stroke="#a8abf0" stroke-width="4.4" transform="translate(-1.1 -2.5)"/></g>
<g opacity="1.00" fill="none" stroke-linecap="round" stroke-linejoin="round"><path d="M436.3 1862.8C438.7 1858.7 445.3 1846.1 449.8 1840.3C454.2 1834.4 459.0 1832.0 461.0 1830.2" stroke="#911782" stroke-width="14.0"/><path d="M436.3 1862.8C438.7 1858.7 445.3 1846.1 449.8 1840.3C454.2 1834.4 459.0 1832.0 461.0 1830.2" stroke="#e024c8" stroke-width="12.6"/><path d="M436.3 1862.8C438.7 1858.7 445.3 1846.1 449.8 1840.3C454.2 1834.4 459.0 1832.0 461.0 1830.2" stroke="#ec7bde" stroke-width="4.0" transform="translate(-1.0 -2.3)"/></g>
<g opacity="1.00" fill="none" stroke-linecap="round" stroke-linejoin="round"><path d="M440.8 1869.5L461.0 1856.0" stroke="#828282" stroke-width="14.0"/><path d="M440.8 1869.5L461.0 1856.0" stroke="#c8c8c8" stroke-width="12.6"/><path d="M440.8 1869.5L461.0 1856.0" stroke="#e3e3e3" stroke-width="4.0" transform="translate(-1.0 -2.3)"/></g>
<g opacity="1.00" fill="none" stroke-linecap="round"><path d="M396.3 1809.9L398.1 1837.4M407.5 1821.2L409.3 1850.8M364.8 1891.3L365.7 1916.1M413.8 1911.1L425.1 1902.6M427.3 1926.9L434.1 1933.6M355.3 1836.9L357.6 1852.6M409.3 1854.9L420.6 1854.9" stroke="#8c8c8c" stroke-width="5.9"/><path d="M396.3 1809.9L398.1 1837.4M407.5 1821.2L409.3 1850.8M364.8 1891.3L365.7 1916.1M413.8 1911.1L425.1 1902.6M427.3 1926.9L434.1 1933.6M355.3 1836.9L357.6 1852.6M409.3 1854.9L420.6 1854.9" stroke="#f4f4f4" stroke-width="4.6"/></g></g><text x="191.9" y="1798.2" font-size="23.0" fill="#000">K2</text><text x="351.4" y="1805.0" font-size="23.0" fill="#000">E87</text><text x="198.6" y="1941.5" font-size="23.0" fill="#8a8a8a">E2</text>
<clipPath id="c2"><rect x="525.1" y="1684.0" width="364.3" height="364.3"/></clipPath><g clip-path="url(#c2)"><defs><linearGradient id="g2a" x1="0" y1="0" x2="1" y2="1"><stop offset="0" stop-color="#ffffff"/><stop offset="0.6" stop-color="#f0e0f0"/><stop offset="1" stop-color="#e8a0e0"/></linearGradient></defs>
<path d="M829.8 1760.5L889.4 1764.9L889.4 1877.4L852.3 1868.4L834.3 1832.4Z" fill="url(#g2a)" opacity="0.80" />
<path d="M852.3 1760.5L889.4 1760.5L889.4 1832.4L870.3 1809.9Z" fill="#e0e0e0" opacity="0.50" />
<g opacity="0.60" fill="none" stroke-linecap="round" stroke-linejoin="round"><path d="M557.7 1987.6C562.2 1988.8 573.2 1995.9 582.5 1994.3C591.8 1992.7 601.4 1985.1 609.4 1978.6C617.5 1972.1 624.2 1962.0 627.4 1958.3" stroke="#b8bae7" stroke-width="12.4"/><path d="M557.7 1987.6C562.2 1988.8 573.2 1995.9 582.5 1994.3C591.8 1992.7 601.4 1985.1 609.4 1978.6C617.5 1972.1 624.2 1962.0 627.4 1958.3" stroke="#c2c4f4" stroke-width="11.0"/><path d="M557.7 1987.6C562.2 1988.8 573.2 1995.9 582.5 1994.3C591.8 1992.7 601.4 1985.1 609.4 1978.6C617.5 1972.1 624.2 1962.0 627.4 1958.3" stroke="#d4d5f7" stroke-width="3.5" transform="translate(-0.9 -2.0)"/></g>
<g opacity="0.60" fill="none" stroke-linecap="round" stroke-linejoin="round"><path d="M569.0 1944.8C572.6 1946.1 580.7 1947.5 589.2 1951.6C597.7 1955.6 608.9 1959.6 616.2 1967.3C623.5 1975.0 627.3 1989.5 629.7 1994.3" stroke="#dfabd6" stroke-width="14.0"/><path d="M569.0 1944.8C572.6 1946.1 580.7 1947.5 589.2 1951.6C597.7 1955.6 608.9 1959.6 616.2 1967.3C623.5 1975.0 627.3 1989.5 629.7 1994.3" stroke="#ebb4e2" stroke-width="12.6"/><path d="M569.0 1944.8C572.6 1946.1 580.7 1947.5 589.2 1951.6C597.7 1955.6 608.9 1959.6 616.2 1967.3C623.5 1975.0 627.3 1989.5 629.7 1994.3" stroke="#f1caea" stroke-width="4.0" transform="translate(-1.0 -2.3)"/></g>
<defs><linearGradient id="g2b" x1="0" y1="0" x2="1" y2="0"><stop offset="0" stop-color="#cfcfcf"/><stop offset="1" stop-color="#5a5a5a"/></linearGradient></defs>
<path d="M762.4 1956.1L807.3 1958.8L889.4 1967.3L889.4 2008.9L836.6 2006.0L796.1 1975.2Z" fill="#c440ae" opacity="0.85" />
<path d="M784.8 1926.9L889.4 1924.6L889.4 1985.3L865.8 1967.3L841.1 1952.0L807.3 1946.0Z" fill="url(#g2b)" opacity="1.00" />
<path d="M807.3 1940.3L852.3 1939.2L889.4 1938.1L889.4 1944.8L841.1 1948.2Z" fill="#9a9ad8" opacity="0.60" />
<g opacity="1.00" fill="none" stroke-linecap="round" stroke-linejoin="round"><path d="M658.9 1684.0C658.1 1687.6 657.7 1697.4 654.4 1704.2C651.2 1711.1 646.6 1716.9 640.9 1722.2C635.3 1727.6 626.2 1731.8 622.9 1733.9" stroke="#cacad8" stroke-width="13.5"/><path d="M658.9 1684.0C658.1 1687.6 657.7 1697.4 654.4 1704.2C651.2 1711.1 646.6 1716.9 640.9 1722.2C635.3 1727.6 626.2 1731.8 622.9 1733.9" stroke="#e6e6f6" stroke-width="12.1"/><path d="M658.9 1684.0C658.1 1687.6 657.7 1697.4 654.4 1704.2C651.2 1711.1 646.6 1716.9 640.9 1722.2C635.3 1727.6 626.2 1731.8 622.9 1733.9" stroke="#f2f2fa" stroke-width="3.9" transform="translate(-1.0 -2.2)"/></g>
<g opacity="1.00" fill="none" stroke-linecap="round" stroke-linejoin="round"><path d="M690.4 1684.0C688.8 1688.4 687.1 1698.2 681.4 1708.7C675.7 1719.3 666.2 1731.5 658.9 1742.5C651.6 1753.4 644.2 1764.6 640.9 1769.4" stroke="#d4d4d4" stroke-width="13.5"/><path d="M690.4 1684.0C688.8 1688.4 687.1 1698.2 681.4 1708.7C675.7 1719.3 666.2 1731.5 658.9 1742.5C651.6 1753.4 644.2 1764.6 640.9 1769.4" stroke="#ececec" stroke-width="12.1"/><path d="M690.4 1684.0C688.8 1688.4 687.1 1698.2 681.4 1708.7C675.7 1719.3 666.2 1731.5 658.9 1742.5C651.6 1753.4 644.2 1764.6 640.9 1769.4" stroke="#f5f5f5" stroke-width="3.9" transform="translate(-1.0 -2.2)"/></g>
<g opacity="1.00" fill="none" stroke-linecap="round" stroke-linejoin="round"><path d="M548.7 1684.0C550.8 1686.4 555.5 1692.2 560.0 1697.5C564.4 1702.7 568.2 1708.7 573.5 1713.2C578.7 1717.8 586.4 1721.0 589.2 1722.7" stroke="#9b9b9b" stroke-width="12.9"/><path d="M548.7 1684.0C550.8 1686.4 555.5 1692.2 560.0 1697.5C564.4 1702.7 568.2 1708.7 573.5 1713.2C578.7 1717.8 586.4 1721.0 589.2 1722.7" stroke="#dedede" stroke-width="11.5"/><path d="M548.7 1684.0C550.8 1686.4 555.5 1692.2 560.0 1697.5C564.4 1702.7 568.2 1708.7 573.5 1713.2C578.7 1717.8 586.4 1721.0 589.2 1722.7" stroke="#f1f1f1" stroke-width="3.7" transform="translate(-0.9 -2.1)"/></g>
<g opacity="1.00" fill="none" stroke-linecap="round" stroke-linejoin="round"><path d="M611.7 1713.2C613.3 1716.5 617.0 1721.9 620.7 1731.2C624.3 1740.5 627.5 1756.0 631.9 1764.9C636.4 1773.9 643.0 1777.9 645.4 1780.7" stroke="#ababab" stroke-width="12.4"/><path d="M611.7 1713.2C613.3 1716.5 617.0 1721.9 620.7 1731.2C624.3 1740.5 627.5 1756.0 631.9 1764.9C636.4 1773.9 643.0 1777.9 645.4 1780.7" stroke="#e4e4e4" stroke-width="11.0"/><path d="M611.7 1713.2C613.3 1716.5 617.0 1721.9 620.7 1731.2C624.3 1740.5 627.5 1756.0 631.9 1764.9C636.4 1773.9 643.0 1777.9 645.4 1780.7" stroke="#f4f4f4" stroke-width="3.5" transform="translate(-0.9 -2.0)"/></g>
<g opacity="1.00" fill="none" stroke-linecap="round" stroke-linejoin="round"><path d="M622.9 1729.0C626.2 1726.9 633.6 1722.6 640.9 1717.7C648.2 1712.9 655.3 1707.7 663.4 1702.0C671.5 1696.3 681.9 1689.1 685.9 1686.2" stroke="#cc88c0" stroke-width="9.1"/><path d="M622.9 1729.0C626.2 1726.9 633.6 1722.6 640.9 1717.7C648.2 1712.9 655.3 1707.7 663.4 1702.0C671.5 1696.3 681.9 1689.1 685.9 1686.2" stroke="#f0a0e2" stroke-width="7.7"/><path d="M622.9 1729.0C626.2 1726.9 633.6 1722.6 640.9 1717.7C648.2 1712.9 655.3 1707.7 663.4 1702.0C671.5 1696.3 681.9 1689.1 685.9 1686.2" stroke="#f6c6ed" stroke-width="2.5" transform="translate(-0.6 -1.4)"/></g>
<g opacity="1.00" fill="none" stroke-linecap="round" stroke-linejoin="round"><path d="M578.0 1684.0C578.2 1688.4 578.1 1699.0 579.3 1708.7C580.5 1718.4 582.5 1730.5 584.7 1738.0C586.9 1745.5 590.2 1748.1 591.5 1750.3" stroke="#484a95" stroke-width="14.0"/><path d="M578.0 1684.0C578.2 1688.4 578.1 1699.0 579.3 1708.7C580.5 1718.4 582.5 1730.5 584.7 1738.0C586.9 1745.5 590.2 1748.1 591.5 1750.3" stroke="#6f73e6" stroke-width="12.6"/><path d="M578.0 1684.0C578.2 1688.4 578.1 1699.0 579.3 1708.7C580.5 1718.4 582.5 1730.5 584.7 1738.0C586.9 1745.5 590.2 1748.1 591.5 1750.3" stroke="#a8abf0" stroke-width="4.0" transform="translate(-1.0 -2.3)"/></g>
<g opacity="1.00" fill="none" stroke-linecap="round" stroke-linejoin="round"><path d="M609.4 1684.0C609.9 1689.3 610.9 1703.5 611.7 1713.2C612.5 1722.9 613.1 1731.3 613.9 1738.0C614.8 1744.6 615.8 1748.1 616.2 1750.3" stroke="#7e1467" stroke-width="14.0"/><path d="M609.4 1684.0C609.9 1689.3 610.9 1703.5 611.7 1713.2C612.5 1722.9 613.1 1731.3 613.9 1738.0C614.8 1744.6 615.8 1748.1 616.2 1750.3" stroke="#c2209f" stroke-width="12.6"/><path d="M609.4 1684.0C609.9 1689.3 610.9 1703.5 611.7 1713.2C612.5 1722.9 613.1 1731.3 613.9 1738.0C614.8 1744.6 615.8 1748.1 616.2 1750.3" stroke="#d76ec0" stroke-width="4.0" transform="translate(-1.0 -2.3)"/></g>
<g opacity="1.00" fill="none" stroke-linecap="round" stroke-linejoin="round"><path d="M582.5 1720.0L582.5 1729.0" stroke="#1b1b92" stroke-width="12.4"/><path d="M582.5 1720.0L582.5 1729.0" stroke="#2b2be2" stroke-width="11.0"/><path d="M582.5 1720.0L582.5 1729.0" stroke="#6a6aea" stroke-width="3.5" transform="translate(-0.9 -2.0)"/></g>
<g opacity="1.00" fill="none" stroke-linecap="round" stroke-linejoin="round"><path d="M617.3 1715.5L617.3 1731.2" stroke="#1b1b92" stroke-width="12.4"/><path d="M617.3 1715.5L617.3 1731.2" stroke="#2b2be2" stroke-width="11.0"/><path d="M617.3 1715.5L617.3 1731.2" stroke="#6a6aea" stroke-width="3.5" transform="translate(-0.9 -2.0)"/></g>
<g opacity="1.00" fill="none" stroke-linecap="round" stroke-linejoin="round"><path d="M582.5 1742.5L589.2 1751.5" stroke="#1b1b92" stroke-width="12.4"/><path d="M582.5 1742.5L589.2 1751.5" stroke="#2b2be2" stroke-width="11.0"/><path d="M582.5 1742.5L589.2 1751.5" stroke="#6a6aea" stroke-width="3.5" transform="translate(-0.9 -2.0)"/></g>
<g opacity="1.00" fill="none" stroke-linecap="round" stroke-linejoin="round"><path d="M533.0 1740.2C539.9 1740.6 558.3 1741.7 571.2 1742.5C584.2 1743.3 594.8 1744.7 604.9 1744.7C615.1 1744.7 623.4 1742.9 627.4 1742.5" stroke="#821467" stroke-width="12.4"/><path d="M533.0 1740.2C539.9 1740.6 558.3 1741.7 571.2 1742.5C584.2 1743.3 594.8 1744.7 604.9 1744.7C615.1 1744.7 623.4 1742.9 627.4 1742.5" stroke="#c8209f" stroke-width="11.0"/><path d="M533.0 1740.2C539.9 1740.6 558.3 1741.7 571.2 1742.5C584.2 1743.3 594.8 1744.7 604.9 1744.7C615.1 1744.7 623.4 1742.9 627.4 1742.5" stroke="#db6ec0" stroke-width="3.5" transform="translate(-0.9 -2.0)"/></g>
<g opacity="1.00" fill="none" stroke-linecap="round" stroke-linejoin="round"><path d="M533.0 1740.2L544.2 1740.2" stroke="#921f1f" stroke-width="12.4"/><path d="M533.0 1740.2L544.2 1740.2" stroke="#e23030" stroke-width="11.0"/><path d="M533.0 1740.2L544.2 1740.2" stroke="#ea6e6e" stroke-width="3.5" transform="translate(-0.9 -2.0)"/></g>
<g opacity="1.00" fill="none" stroke-linecap="round" stroke-linejoin="round"><path d="M526.2 1778.9C530.7 1778.5 540.1 1778.3 551.0 1776.6C561.9 1775.0 580.5 1771.1 587.0 1769.9" stroke="#484a95" stroke-width="13.5"/><path d="M526.2 1778.9C530.7 1778.5 540.1 1778.3 551.0 1776.6C561.9 1775.0 580.5 1771.1 587.0 1769.9" stroke="#6f73e6" stroke-width="12.1"/><path d="M526.2 1778.9C530.7 1778.5 540.1 1778.3 551.0 1776.6C561.9 1775.0 580.5 1771.1 587.0 1769.9" stroke="#a8abf0" stroke-width="3.9" transform="translate(-1.0 -2.2)"/></g>
<g opacity="1.00" fill="none" stroke-linecap="round" stroke-linejoin="round"><path d="M526.2 1778.9L537.5 1778.9" stroke="#921f1f" stroke-width="12.4"/><path d="M526.2 1778.9L537.5 1778.9" stroke="#e23030" stroke-width="11.0"/><path d="M526.2 1778.9L537.5 1778.9" stroke="#ea6e6e" stroke-width="3.5" transform="translate(-0.9 -2.0)"/></g>
<g opacity="1.00" fill="none" stroke-linecap="round" stroke-linejoin="round"><path d="M590.3 1750.3C590.9 1754.6 591.1 1764.8 593.7 1773.9C596.3 1783.1 601.6 1794.4 604.9 1800.9C608.3 1807.5 610.8 1808.7 612.1 1810.4" stroke="#484a95" stroke-width="14.0"/><path d="M590.3 1750.3C590.9 1754.6 591.1 1764.8 593.7 1773.9C596.3 1783.1 601.6 1794.4 604.9 1800.9C608.3 1807.5 610.8 1808.7 612.1 1810.4" stroke="#6f73e6" stroke-width="12.6"/><path d="M590.3 1750.3C590.9 1754.6 591.1 1764.8 593.7 1773.9C596.3 1783.1 601.6 1794.4 604.9 1800.9C608.3 1807.5 610.8 1808.7 612.1 1810.4" stroke="#afb2f1" stroke-width="4.0" transform="translate(-1.0 -2.3)"/></g>
<g opacity="1.00" fill="none" stroke-linecap="round" stroke-linejoin="round"><path d="M612.1 1810.4L654.4 1808.1" stroke="#484a95" stroke-width="14.0"/><path d="M612.1 1810.4L654.4 1808.1" stroke="#6f73e6" stroke-width="12.6"/><path d="M612.1 1810.4L654.4 1808.1" stroke="#afb2f1" stroke-width="4.0" transform="translate(-1.0 -2.3)"/></g>
<g opacity="1.00" fill="none" stroke-linecap="round" stroke-linejoin="round"><path d="M615.1 1750.3C615.4 1754.2 616.0 1763.4 616.6 1771.7C617.3 1780.0 618.5 1792.0 618.9 1796.4" stroke="#911782" stroke-width="14.0"/><path d="M615.1 1750.3C615.4 1754.2 616.0 1763.4 616.6 1771.7C617.3 1780.0 618.5 1792.0 618.9 1796.4" stroke="#e024c8" stroke-width="12.6"/><path d="M615.1 1750.3C615.4 1754.2 616.0 1763.4 616.6 1771.7C617.3 1780.0 618.5 1792.0 618.9 1796.4" stroke="#ed86e0" stroke-width="4.0" transform="translate(-1.0 -2.3)"/></g>
<g opacity="1.00" fill="none" stroke-linecap="round" stroke-linejoin="round"><path d="M672.4 1788.6C680.5 1789.2 705.0 1790.1 717.4 1792.4C729.7 1794.7 736.7 1799.8 741.0 1801.4" stroke="#484a95" stroke-width="12.4"/><path d="M672.4 1788.6C680.5 1789.2 705.0 1790.1 717.4 1792.4C729.7 1794.7 736.7 1799.8 741.0 1801.4" stroke="#6f73e6" stroke-width="11.0"/><path d="M672.4 1788.6C680.5 1789.2 705.0 1790.1 717.4 1792.4C729.7 1794.7 736.7 1799.8 741.0 1801.4" stroke="#a8abf0" stroke-width="3.5" transform="translate(-0.9 -2.0)"/></g>
<g opacity="1.00" fill="none" stroke-linecap="round" stroke-linejoin="round"><path d="M618.9 1796.4C625.3 1796.1 638.9 1795.4 654.4 1794.6C669.9 1793.9 689.1 1791.2 705.0 1792.4C720.9 1793.6 734.2 1796.5 742.6 1801.4C750.9 1806.2 742.3 1816.1 751.6 1819.4C760.8 1822.6 786.2 1819.4 793.8 1819.4" stroke="#911782" stroke-width="13.5"/><path d="M618.9 1796.4C625.3 1796.1 638.9 1795.4 654.4 1794.6C669.9 1793.9 689.1 1791.2 705.0 1792.4C720.9 1793.6 734.2 1796.5 742.6 1801.4C750.9 1806.2 742.3 1816.1 751.6 1819.4C760.8 1822.6 786.2 1819.4 793.8 1819.4" stroke="#e024c8" stroke-width="12.1"/><path d="M618.9 1796.4C625.3 1796.1 638.9 1795.4 654.4 1794.6C669.9 1793.9 689.1 1791.2 705.0 1792.4C720.9 1793.6 734.2 1796.5 742.6 1801.4C750.9 1806.2 742.3 1816.1 751.6 1819.4C760.8 1822.6 786.2 1819.4 793.8 1819.4" stroke="#ed86e0" stroke-width="3.9" transform="translate(-1.0 -2.2)"/></g>
<g opacity="1.00" fill="none" stroke-linecap="round" stroke-linejoin="round"><path d="M658.9 1814.9C659.8 1817.7 655.0 1827.4 663.9 1830.6C672.8 1833.8 697.9 1834.1 708.4 1832.9C718.8 1831.6 716.0 1826.0 721.9 1823.9C727.8 1821.8 737.6 1821.7 741.0 1821.2" stroke="#911782" stroke-width="13.5"/><path d="M658.9 1814.9C659.8 1817.7 655.0 1827.4 663.9 1830.6C672.8 1833.8 697.9 1834.1 708.4 1832.9C718.8 1831.6 716.0 1826.0 721.9 1823.9C727.8 1821.8 737.6 1821.7 741.0 1821.2" stroke="#e024c8" stroke-width="12.1"/><path d="M658.9 1814.9C659.8 1817.7 655.0 1827.4 663.9 1830.6C672.8 1833.8 697.9 1834.1 708.4 1832.9C718.8 1831.6 716.0 1826.0 721.9 1823.9C727.8 1821.8 737.6 1821.7 741.0 1821.2" stroke="#ed86e0" stroke-width="3.9" transform="translate(-1.0 -2.2)"/></g>
<g opacity="1.00" fill="none" stroke-linecap="round" stroke-linejoin="round"><path d="M764.6 1819.4L796.1 1819.4" stroke="#921f1f" stroke-width="14.6"/><path d="M764.6 1819.4L796.1 1819.4" stroke="#e23030" stroke-width="13.2"/><path d="M764.6 1819.4L796.1 1819.4" stroke="#ec7878" stroke-width="4.2" transform="translate(-1.1 -2.4)"/></g>
<g opacity="1.00" fill="none" stroke-linecap="round" stroke-linejoin="round"><path d="M631.9 1785.6C637.2 1784.8 648.6 1785.2 661.2 1781.1C673.7 1777.1 688.3 1767.6 701.6 1763.1C715.0 1758.7 728.9 1753.2 735.4 1756.4C741.8 1759.6 734.0 1776.6 737.6 1780.7C741.3 1784.7 752.4 1779.2 755.6 1778.9" stroke="#828282" stroke-width="15.7"/><path d="M631.9 1785.6C637.2 1784.8 648.6 1785.2 661.2 1781.1C673.7 1777.1 688.3 1767.6 701.6 1763.1C715.0 1758.7 728.9 1753.2 735.4 1756.4C741.8 1759.6 734.0 1776.6 737.6 1780.7C741.3 1784.7 752.4 1779.2 755.6 1778.9" stroke="#c8c8c8" stroke-width="14.3"/><path d="M631.9 1785.6C637.2 1784.8 648.6 1785.2 661.2 1781.1C673.7 1777.1 688.3 1767.6 701.6 1763.1C715.0 1758.7 728.9 1753.2 735.4 1756.4C741.8 1759.6 734.0 1776.6 737.6 1780.7C741.3 1784.7 752.4 1779.2 755.6 1778.9" stroke="#e9e9e9" stroke-width="4.6" transform="translate(-1.1 -2.6)"/></g>
<g opacity="1.00" fill="none" stroke-linecap="round" stroke-linejoin="round"><path d="M755.6 1778.9L782.6 1777.8" stroke="#891717" stroke-width="16.2"/><path d="M755.6 1778.9L782.6 1777.8" stroke="#d42424" stroke-width="14.8"/><path d="M755.6 1778.9L782.6 1777.8" stroke="#e37070" stroke-width="4.7" transform="translate(-1.2 -2.7)"/></g>
<g opacity="1.00" fill="none" stroke-linecap="round" stroke-linejoin="round"><path d="M658.9 1803.6C667.0 1804.0 689.3 1808.7 703.9 1805.9C718.5 1803.0 733.4 1791.1 739.9 1787.9" stroke="#767676" stroke-width="15.1"/><path d="M658.9 1803.6C667.0 1804.0 689.3 1808.7 703.9 1805.9C718.5 1803.0 733.4 1791.1 739.9 1787.9" stroke="#a9a9a9" stroke-width="13.7"/><path d="M658.9 1803.6C667.0 1804.0 689.3 1808.7 703.9 1805.9C718.5 1803.0 733.4 1791.1 739.9 1787.9" stroke="#dcdcdc" stroke-width="4.4" transform="translate(-1.1 -2.5)"/></g>
<g opacity="1.00" fill="none" stroke-linecap="round"><path d="M589.2 1807.7L609.4 1800.9M589.2 1830.2L609.4 1823.4M613.9 1832.4L616.2 1812.6M629.7 1832.4L645.4 1821.2M645.4 1845.9L661.2 1836.9M703.9 1850.4L706.1 1832.9M726.4 1845.9L721.9 1832.9M787.1 1839.2L789.8 1828.4M769.1 1790.1L773.6 1780.7M701.6 1747.0L701.6 1764.9M748.9 1753.7L766.9 1742.5M760.1 1796.4L773.6 1794.2M627.4 1740.2L645.4 1735.7M591.5 1722.2L596.0 1729.0" stroke="#8c8c8c" stroke-width="5.9"/><path d="M589.2 1807.7L609.4 1800.9M589.2 1830.2L609.4 1823.4M613.9 1832.4L616.2 1812.6M629.7 1832.4L645.4 1821.2M645.4 1845.9L661.2 1836.9M703.9 1850.4L706.1 1832.9M726.4 1845.9L721.9 1832.9M787.1 1839.2L789.8 1828.4M769.1 1790.1L773.6 1780.7M701.6 1747.0L701.6 1764.9M748.9 1753.7L766.9 1742.5M760.1 1796.4L773.6 1794.2M627.4 1740.2L645.4 1735.7M591.5 1722.2L596.0 1729.0" stroke="#f4f4f4" stroke-width="4.6"/></g>
<g opacity="1.00" fill="none" stroke-linecap="round" stroke-linejoin="round"><path d="M803.3 1905.5C804.0 1900.6 806.2 1885.5 807.3 1878.5C808.5 1871.5 809.2 1868.7 809.6 1866.6" stroke="#9c9c9c" stroke-width="12.9"/><path d="M803.3 1905.5C804.0 1900.6 806.2 1885.5 807.3 1878.5C808.5 1871.5 809.2 1868.7 809.6 1866.6" stroke="#e0e0e0" stroke-width="11.5"/><path d="M803.3 1905.5C804.0 1900.6 806.2 1885.5 807.3 1878.5C808.5 1871.5 809.2 1868.7 809.6 1866.6" stroke="#f2f2f2" stroke-width="3.7" transform="translate(-0.9 -2.1)"/></g>
<g opacity="1.00" fill="none" stroke-linecap="round"><path d="M782.6 1857.6L807.3 1868.8M797.9 1854.9L805.5 1868.8M809.6 1868.8L843.8 1862.1M807.3 1906.6L811.8 1899.9" stroke="#8c8c8c" stroke-width="5.9"/><path d="M782.6 1857.6L807.3 1868.8M797.9 1854.9L805.5 1868.8M809.6 1868.8L843.8 1862.1M807.3 1906.6L811.8 1899.9" stroke="#f4f4f4" stroke-width="4.6"/></g>
<g opacity="0.80" fill="none" stroke-linecap="round"><path d="M818.6 1913.4L852.3 1911.1M820.8 1917.9L852.3 1916.7" stroke="#e07070" stroke-width="5.2"/><path d="M818.6 1913.4L852.3 1911.1M820.8 1917.9L852.3 1916.7" stroke="#f0a0a0" stroke-width="3.9"/></g>
<g opacity="1.00" fill="none" stroke-linecap="round" stroke-linejoin="round"><path d="M647.7 1936.3C652.9 1937.9 667.6 1944.1 676.9 1945.3C686.2 1946.5 689.7 1945.9 699.4 1943.0C709.1 1940.2 720.4 1933.6 730.9 1929.6C741.4 1925.5 745.7 1924.6 757.9 1920.6C770.0 1916.5 787.4 1908.7 798.3 1907.1C809.3 1905.4 812.9 1907.5 818.6 1911.6C824.2 1915.6 826.6 1923.1 829.8 1929.6C833.1 1936.0 835.4 1944.3 836.6 1947.5" stroke="#911782" stroke-width="12.4"/><path d="M647.7 1936.3C652.9 1937.9 667.6 1944.1 676.9 1945.3C686.2 1946.5 689.7 1945.9 699.4 1943.0C709.1 1940.2 720.4 1933.6 730.9 1929.6C741.4 1925.5 745.7 1924.6 757.9 1920.6C770.0 1916.5 787.4 1908.7 798.3 1907.1C809.3 1905.4 812.9 1907.5 818.6 1911.6C824.2 1915.6 826.6 1923.1 829.8 1929.6C833.1 1936.0 835.4 1944.3 836.6 1947.5" stroke="#e024c8" stroke-width="11.0"/><path d="M647.7 1936.3C652.9 1937.9 667.6 1944.1 676.9 1945.3C686.2 1946.5 689.7 1945.9 699.4 1943.0C709.1 1940.2 720.4 1933.6 730.9 1929.6C741.4 1925.5 745.7 1924.6 757.9 1920.6C770.0 1916.5 787.4 1908.7 798.3 1907.1C809.3 1905.4 812.9 1907.5 818.6 1911.6C824.2 1915.6 826.6 1923.1 829.8 1929.6C833.1 1936.0 835.4 1944.3 836.6 1947.5" stroke="#ed86e0" stroke-width="3.5" transform="translate(-0.9 -2.0)"/></g>
<g opacity="1.00" fill="none" stroke-linecap="round" stroke-linejoin="round"><path d="M676.9 1920.6C681.8 1923.4 692.6 1933.5 703.9 1936.3C715.2 1939.1 730.2 1936.7 739.9 1936.3C749.6 1935.9 753.3 1936.6 757.9 1934.1C762.4 1931.5 765.1 1926.0 765.1 1922.4C765.1 1918.7 759.2 1915.4 757.9 1913.8" stroke="#4f5196" stroke-width="14.0"/><path d="M676.9 1920.6C681.8 1923.4 692.6 1933.5 703.9 1936.3C715.2 1939.1 730.2 1936.7 739.9 1936.3C749.6 1935.9 753.3 1936.6 757.9 1934.1C762.4 1931.5 765.1 1926.0 765.1 1922.4C765.1 1918.7 759.2 1915.4 757.9 1913.8" stroke="#7a7ee8" stroke-width="12.6"/><path d="M676.9 1920.6C681.8 1923.4 692.6 1933.5 703.9 1936.3C715.2 1939.1 730.2 1936.7 739.9 1936.3C749.6 1935.9 753.3 1936.6 757.9 1934.1C762.4 1931.5 765.1 1926.0 765.1 1922.4C765.1 1918.7 759.2 1915.4 757.9 1913.8" stroke="#b5b8f2" stroke-width="4.0" transform="translate(-1.0 -2.3)"/></g>
<g opacity="1.00" fill="none" stroke-linecap="round" stroke-linejoin="round"><path d="M645.4 1925.1C651.1 1922.2 668.0 1912.6 676.9 1909.3C685.8 1906.1 685.2 1907.5 694.9 1907.1C704.6 1906.7 719.5 1905.9 730.9 1907.1C742.2 1908.3 746.9 1912.6 757.9 1913.8C768.8 1915.0 781.1 1914.6 791.6 1913.8C802.1 1913.0 811.9 1910.1 816.3 1909.3" stroke="#4f5196" stroke-width="14.0"/><path d="M645.4 1925.1C651.1 1922.2 668.0 1912.6 676.9 1909.3C685.8 1906.1 685.2 1907.5 694.9 1907.1C704.6 1906.7 719.5 1905.9 730.9 1907.1C742.2 1908.3 746.9 1912.6 757.9 1913.8C768.8 1915.0 781.1 1914.6 791.6 1913.8C802.1 1913.0 811.9 1910.1 816.3 1909.3" stroke="#7a7ee8" stroke-width="12.6"/><path d="M645.4 1925.1C651.1 1922.2 668.0 1912.6 676.9 1909.3C685.8 1906.1 685.2 1907.5 694.9 1907.1C704.6 1906.7 719.5 1905.9 730.9 1907.1C742.2 1908.3 746.9 1912.6 757.9 1913.8C768.8 1915.0 781.1 1914.6 791.6 1913.8C802.1 1913.0 811.9 1910.1 816.3 1909.3" stroke="#b5b8f2" stroke-width="4.0" transform="translate(-1.0 -2.3)"/></g>
<g opacity="1.00" fill="none" stroke-linecap="round"><path d="M643.2 1925.1L667.9 1925.1M627.4 1949.8L649.9 1938.5M670.2 1954.3L681.4 1947.5M769.1 1938.5L784.8 1945.3M816.3 1963.3L820.8 1974.5M823.1 1962.8L825.3 1974.1M744.4 1913.8L748.9 1931.4M742.1 1899.9L751.1 1895.4M699.4 1944.8L703.9 1951.6" stroke="#8c8c8c" stroke-width="5.9"/><path d="M643.2 1925.1L667.9 1925.1M627.4 1949.8L649.9 1938.5M670.2 1954.3L681.4 1947.5M769.1 1938.5L784.8 1945.3M816.3 1963.3L820.8 1974.5M823.1 1962.8L825.3 1974.1M744.4 1913.8L748.9 1931.4M742.1 1899.9L751.1 1895.4M699.4 1944.8L703.9 1951.6" stroke="#f4f4f4" stroke-width="4.6"/></g></g><text x="704.0" y="1731.2" font-size="23.0" fill="#000">Y94</text><text x="822.4" y="1896.5" font-size="23.0" fill="#8a8a8a">T59</text><text x="686.5" y="1989.8" font-size="23.0" fill="#000">F59</text>
<clipPath id="c3"><rect x="951.5" y="1683.9" width="365.1" height="365.8"/></clipPath><g clip-path="url(#c3)"><defs><linearGradient id="g3a" x1="0" y1="0" x2="0" y2="1"><stop offset="0" stop-color="#c8c8c8"/><stop offset="1" stop-color="#ffffff" stop-opacity="0"/></linearGradient></defs>
<path d="M1027.7 1685.0L1106.2 1685.0L1101.6 1709.2L1078.5 1741.6L1050.8 1723.1Z" fill="url(#g3a)" opacity="0.80" />
<path d="M1032.3 1685.0L1069.2 1685.0L1064.6 1709.2L1050.8 1723.1Z" fill="#e8c0e0" opacity="0.40" />
<path d="M1078.5 1685.0L1106.2 1685.0L1103.9 1709.2L1090.0 1718.5Z" fill="#c8c8ec" opacity="0.50" />
<g opacity="0.90" fill="none" stroke-linecap="round" stroke-linejoin="round"><path d="M1200.8 1685.0C1198.7 1691.0 1194.7 1705.0 1189.2 1718.5C1183.8 1732.0 1176.6 1745.5 1170.8 1760.0C1165.0 1774.6 1161.1 1787.6 1156.9 1799.2C1152.8 1810.9 1149.4 1820.1 1147.7 1824.6" stroke="#77245c" stroke-width="15.6"/><path d="M1200.8 1685.0C1198.7 1691.0 1194.7 1705.0 1189.2 1718.5C1183.8 1732.0 1176.6 1745.5 1170.8 1760.0C1165.0 1774.6 1161.1 1787.6 1156.9 1799.2C1152.8 1810.9 1149.4 1820.1 1147.7 1824.6" stroke="#b8388f" stroke-width="14.2"/><path d="M1200.8 1685.0C1198.7 1691.0 1194.7 1705.0 1189.2 1718.5C1183.8 1732.0 1176.6 1745.5 1170.8 1760.0C1165.0 1774.6 1161.1 1787.6 1156.9 1799.2C1152.8 1810.9 1149.4 1820.1 1147.7 1824.6" stroke="#cd73b0" stroke-width="4.6" transform="translate(-1.1 -2.6)"/></g>
<g opacity="0.90" fill="none" stroke-linecap="round" stroke-linejoin="round"><path d="M1216.9 1685.0C1214.5 1690.2 1208.9 1699.5 1203.1 1713.9C1197.3 1728.2 1191.3 1747.2 1184.6 1764.6C1178.0 1782.1 1169.5 1802.5 1166.2 1810.8" stroke="#64648b" stroke-width="13.8"/><path d="M1216.9 1685.0C1214.5 1690.2 1208.9 1699.5 1203.1 1713.9C1197.3 1728.2 1191.3 1747.2 1184.6 1764.6C1178.0 1782.1 1169.5 1802.5 1166.2 1810.8" stroke="#9a9ad6" stroke-width="12.4"/><path d="M1216.9 1685.0C1214.5 1690.2 1208.9 1699.5 1203.1 1713.9C1197.3 1728.2 1191.3 1747.2 1184.6 1764.6C1178.0 1782.1 1169.5 1802.5 1166.2 1810.8" stroke="#b8b8e2" stroke-width="4.0" transform="translate(-1.0 -2.2)"/></g>
<g opacity="0.50" fill="none" stroke-linecap="round" stroke-linejoin="round"><path d="M1152.3 1810.8C1150.7 1814.9 1145.2 1827.2 1143.1 1833.9C1141.0 1840.5 1141.2 1845.2 1140.8 1847.7" stroke="#c5c5c5" stroke-width="15.6"/><path d="M1152.3 1810.8C1150.7 1814.9 1145.2 1827.2 1143.1 1833.9C1141.0 1840.5 1141.2 1845.2 1140.8 1847.7" stroke="#d0d0d0" stroke-width="14.2"/><path d="M1152.3 1810.8C1150.7 1814.9 1145.2 1827.2 1143.1 1833.9C1141.0 1840.5 1141.2 1845.2 1140.8 1847.7" stroke="#dedede" stroke-width="4.6" transform="translate(-1.1 -2.6)"/></g>
<g opacity="1.00" fill="none" stroke-linecap="round" stroke-linejoin="round"><path d="M1189.2 1741.6C1192.2 1738.2 1198.3 1728.9 1205.4 1723.1C1212.5 1717.3 1224.3 1711.7 1228.5 1709.2" stroke="#868686" stroke-width="16.9"/><path d="M1189.2 1741.6C1192.2 1738.2 1198.3 1728.9 1205.4 1723.1C1212.5 1717.3 1224.3 1711.7 1228.5 1709.2" stroke="#a8a8a8" stroke-width="15.5"/><path d="M1189.2 1741.6C1192.2 1738.2 1198.3 1728.9 1205.4 1723.1C1212.5 1717.3 1224.3 1711.7 1228.5 1709.2" stroke="#c2c2c2" stroke-width="5.0" transform="translate(-1.2 -2.8)"/></g>
<g opacity="1.00" fill="none" stroke-linecap="round" stroke-linejoin="round"><path d="M1207.7 1723.1C1211.5 1720.6 1220.6 1713.4 1228.5 1709.2C1236.4 1705.1 1242.0 1703.3 1251.6 1700.0C1261.1 1696.7 1269.5 1693.2 1281.6 1690.8C1293.6 1688.4 1311.8 1687.4 1318.5 1686.6" stroke="#464646" stroke-width="23.7"/><path d="M1207.7 1723.1C1211.5 1720.6 1220.6 1713.4 1228.5 1709.2C1236.4 1705.1 1242.0 1703.3 1251.6 1700.0C1261.1 1696.7 1269.5 1693.2 1281.6 1690.8C1293.6 1688.4 1311.8 1687.4 1318.5 1686.6" stroke="#4e4e4e" stroke-width="22.3"/><path d="M1207.7 1723.1C1211.5 1720.6 1220.6 1713.4 1228.5 1709.2C1236.4 1705.1 1242.0 1703.3 1251.6 1700.0C1261.1 1696.7 1269.5 1693.2 1281.6 1690.8C1293.6 1688.4 1311.8 1687.4 1318.5 1686.6" stroke="#7a7a7a" stroke-width="7.1" transform="translate(-1.8 -4.0)"/></g>
<g opacity="1.00" fill="none" stroke-linecap="round" stroke-linejoin="round"><path d="M1198.5 1704.6L1213.5 1686.2" stroke="#1c1c53" stroke-width="15.6"/><path d="M1198.5 1704.6L1213.5 1686.2" stroke="#2c2c80" stroke-width="14.2"/><path d="M1198.5 1704.6L1213.5 1686.2" stroke="#565699" stroke-width="4.6" transform="translate(-1.1 -2.6)"/></g>
<g opacity="1.00" fill="none" stroke-linecap="round" stroke-linejoin="round"><path d="M953.8 1856.9C955.5 1863.2 962.2 1877.0 963.1 1891.6C963.9 1906.1 960.7 1924.8 958.5 1937.7C956.2 1950.6 951.8 1958.5 950.4 1963.1" stroke="#720e5c" stroke-width="21.2"/><path d="M953.8 1856.9C955.5 1863.2 962.2 1877.0 963.1 1891.6C963.9 1906.1 960.7 1924.8 958.5 1937.7C956.2 1950.6 951.8 1958.5 950.4 1963.1" stroke="#b0178e" stroke-width="19.8"/><path d="M953.8 1856.9C955.5 1863.2 962.2 1877.0 963.1 1891.6C963.9 1906.1 960.7 1924.8 958.5 1937.7C956.2 1950.6 951.8 1958.5 950.4 1963.1" stroke="#c75caf" stroke-width="6.3" transform="translate(-1.6 -3.6)"/></g>
<g opacity="1.00" fill="none" stroke-linecap="round" stroke-linejoin="round"><path d="M972.3 1875.4C973.6 1879.6 977.0 1891.9 979.7 1898.9C982.4 1906.0 985.9 1911.8 987.3 1914.6" stroke="#171787" stroke-width="15.0"/><path d="M972.3 1875.4C973.6 1879.6 977.0 1891.9 979.7 1898.9C982.4 1906.0 985.9 1911.8 987.3 1914.6" stroke="#2424d0" stroke-width="13.6"/><path d="M972.3 1875.4C973.6 1879.6 977.0 1891.9 979.7 1898.9C982.4 1906.0 985.9 1911.8 987.3 1914.6" stroke="#6565de" stroke-width="4.4" transform="translate(-1.1 -2.5)"/></g>
<g opacity="1.00" fill="none" stroke-linecap="round" stroke-linejoin="round"><path d="M952.7 1852.3L967.7 1863.9" stroke="#4f5196" stroke-width="13.8"/><path d="M952.7 1852.3L967.7 1863.9" stroke="#7a7ee8" stroke-width="12.4"/><path d="M952.7 1852.3L967.7 1863.9" stroke="#a1a4ee" stroke-width="4.0" transform="translate(-1.0 -2.2)"/></g>
<g opacity="0.60" fill="none" stroke-linecap="round"><path d="M986.2 1861.6L1020.8 1871.9M989.6 1870.8L1020.8 1878.9M988.5 1880.0L1016.2 1884.6" stroke="#c04040" stroke-width="7.3"/><path d="M986.2 1861.6L1020.8 1871.9M989.6 1870.8L1020.8 1878.9M988.5 1880.0L1016.2 1884.6" stroke="#e06060" stroke-width="6.0"/></g>
<g opacity="1.00" fill="none" stroke-linecap="round"><path d="M981.5 1916.9L1009.2 1920.4M983.8 1923.9L997.7 1930.8M976.9 1912.3L990.8 1930.8" stroke="#555555" stroke-width="7.3"/><path d="M981.5 1916.9L1009.2 1920.4M983.8 1923.9L997.7 1930.8M976.9 1912.3L990.8 1930.8" stroke="#777777" stroke-width="6.0"/></g>
<g opacity="1.00" fill="none" stroke-linecap="round" stroke-linejoin="round"><path d="M1004.6 1833.9C1001.3 1836.8 992.0 1845.0 986.2 1850.0C980.3 1855.1 974.8 1859.9 972.3 1862.0" stroke="#a1a1a1" stroke-width="20.6"/><path d="M1004.6 1833.9C1001.3 1836.8 992.0 1845.0 986.2 1850.0C980.3 1855.1 974.8 1859.9 972.3 1862.0" stroke="#e6e6e6" stroke-width="19.2"/><path d="M1004.6 1833.9C1001.3 1836.8 992.0 1845.0 986.2 1850.0C980.3 1855.1 974.8 1859.9 972.3 1862.0" stroke="#f2f2f2" stroke-width="6.1" transform="translate(-1.5 -3.5)"/></g>
<g opacity="1.00" fill="none" stroke-linecap="round" stroke-linejoin="round"><path d="M993.5 1815.9C990.1 1820.4 980.9 1832.1 974.6 1841.3C968.3 1850.4 961.4 1862.1 958.5 1866.6" stroke="#911782" stroke-width="23.1"/><path d="M993.5 1815.9C990.1 1820.4 980.9 1832.1 974.6 1841.3C968.3 1850.4 961.4 1862.1 958.5 1866.6" stroke="#e024c8" stroke-width="21.7"/><path d="M993.5 1815.9C990.1 1820.4 980.9 1832.1 974.6 1841.3C968.3 1850.4 961.4 1862.1 958.5 1866.6" stroke="#ed86e0" stroke-width="6.9" transform="translate(-1.7 -3.9)"/></g>
<g opacity="1.00" fill="none" stroke-linecap="round" stroke-linejoin="round"><path d="M1009.2 1830.4C1018.4 1834.6 1041.7 1856.9 1060.0 1853.5C1078.3 1850.0 1100.8 1820.5 1110.8 1811.2C1120.8 1802.0 1114.6 1803.7 1115.4 1802.0" stroke="#969696" stroke-width="20.6"/><path d="M1009.2 1830.4C1018.4 1834.6 1041.7 1856.9 1060.0 1853.5C1078.3 1850.0 1100.8 1820.5 1110.8 1811.2C1120.8 1802.0 1114.6 1803.7 1115.4 1802.0" stroke="#e8e8e8" stroke-width="19.2"/><path d="M1009.2 1830.4C1018.4 1834.6 1041.7 1856.9 1060.0 1853.5C1078.3 1850.0 1100.8 1820.5 1110.8 1811.2C1120.8 1802.0 1114.6 1803.7 1115.4 1802.0" stroke="#f3f3f3" stroke-width="6.1" transform="translate(-1.5 -3.5)"/></g>
<g opacity="1.00" fill="none" stroke-linecap="round" stroke-linejoin="round"><path d="M1009.2 1822.8C1016.3 1825.3 1032.7 1842.0 1048.5 1836.6C1064.3 1831.2 1087.4 1802.3 1096.9 1792.8C1106.5 1783.2 1100.7 1785.2 1101.6 1783.6" stroke="#4f5196" stroke-width="18.7"/><path d="M1009.2 1822.8C1016.3 1825.3 1032.7 1842.0 1048.5 1836.6C1064.3 1831.2 1087.4 1802.3 1096.9 1792.8C1106.5 1783.2 1100.7 1785.2 1101.6 1783.6" stroke="#7a7ee8" stroke-width="17.3"/><path d="M1009.2 1822.8C1016.3 1825.3 1032.7 1842.0 1048.5 1836.6C1064.3 1831.2 1087.4 1802.3 1096.9 1792.8C1106.5 1783.2 1100.7 1785.2 1101.6 1783.6" stroke="#b5b8f2" stroke-width="5.6" transform="translate(-1.4 -3.1)"/></g>
<g opacity="1.00" fill="none" stroke-linecap="round" stroke-linejoin="round"><path d="M956.2 1772.0C961.6 1779.1 976.6 1802.9 986.2 1811.2C995.7 1819.6 998.9 1815.7 1009.2 1818.2C1019.6 1820.7 1029.7 1832.2 1043.9 1825.1C1058.0 1818.0 1079.0 1788.9 1087.7 1778.9C1096.4 1769.0 1091.5 1771.4 1092.3 1769.7" stroke="#911782" stroke-width="20.0"/><path d="M956.2 1772.0C961.6 1779.1 976.6 1802.9 986.2 1811.2C995.7 1819.6 998.9 1815.7 1009.2 1818.2C1019.6 1820.7 1029.7 1832.2 1043.9 1825.1C1058.0 1818.0 1079.0 1788.9 1087.7 1778.9C1096.4 1769.0 1091.5 1771.4 1092.3 1769.7" stroke="#e024c8" stroke-width="18.6"/><path d="M956.2 1772.0C961.6 1779.1 976.6 1802.9 986.2 1811.2C995.7 1819.6 998.9 1815.7 1009.2 1818.2C1019.6 1820.7 1029.7 1832.2 1043.9 1825.1C1058.0 1818.0 1079.0 1788.9 1087.7 1778.9C1096.4 1769.0 1091.5 1771.4 1092.3 1769.7" stroke="#ed86e0" stroke-width="5.9" transform="translate(-1.5 -3.3)"/></g>
<g opacity="1.00" fill="none" stroke-linecap="round" stroke-linejoin="round"><path d="M993.5 1783.6C996.4 1788.5 1005.6 1803.8 1009.2 1811.2C1012.9 1818.7 1013.0 1822.6 1013.9 1825.1" stroke="#4a4a4a" stroke-width="15.6"/><path d="M993.5 1783.6C996.4 1788.5 1005.6 1803.8 1009.2 1811.2C1012.9 1818.7 1013.0 1822.6 1013.9 1825.1" stroke="#727272" stroke-width="14.2"/><path d="M993.5 1783.6C996.4 1788.5 1005.6 1803.8 1009.2 1811.2C1012.9 1818.7 1013.0 1822.6 1013.9 1825.1" stroke="#aaaaaa" stroke-width="4.6" transform="translate(-1.1 -2.6)"/></g>
<circle cx="960.8" cy="1770.4" r="6.5" fill="#e024c8"/>
<circle cx="981.5" cy="1772.7" r="5.5" fill="#7a7ee8"/>
<circle cx="995.4" cy="1783.1" r="6" fill="#cfcfcf"/>
<g opacity="1.00" fill="none" stroke-linecap="round"><path d="M963.1 1753.6L972.3 1732.8M993.5 1778.9L1009.2 1746.6M1005.1 1774.3L1025.9 1755.9M1078.5 1748.9L1083.1 1772.0M1093.5 1760.5L1095.1 1788.2M1101.6 1778.9L1104.3 1804.3M1115.4 1788.2L1125.8 1792.8M1110.8 1811.2L1132.0 1815.9M1124.6 1822.8L1144.2 1829.7M1046.6 1827.4L1048.5 1845.4M1060.0 1856.9L1060.0 1877.7M1065.1 1856.9L1072.0 1877.7M1057.7 1836.2L1058.9 1840.8M960.8 1783.1L959.6 1790.0M974.6 1783.1L979.2 1787.7" stroke="#8c8c8c" stroke-width="6.0"/><path d="M963.1 1753.6L972.3 1732.8M993.5 1778.9L1009.2 1746.6M1005.1 1774.3L1025.9 1755.9M1078.5 1748.9L1083.1 1772.0M1093.5 1760.5L1095.1 1788.2M1101.6 1778.9L1104.3 1804.3M1115.4 1788.2L1125.8 1792.8M1110.8 1811.2L1132.0 1815.9M1124.6 1822.8L1144.2 1829.7M1046.6 1827.4L1048.5 1845.4M1060.0 1856.9L1060.0 1877.7M1065.1 1856.9L1072.0 1877.7M1057.7 1836.2L1058.9 1840.8M960.8 1783.1L959.6 1790.0M974.6 1783.1L979.2 1787.7" stroke="#f4f4f4" stroke-width="4.7"/></g>
<g opacity="1.00" fill="none" stroke-linecap="round" stroke-linejoin="round"><path d="M1240.0 1935.4C1241.3 1942.1 1242.8 1959.4 1246.9 1972.3C1251.1 1985.3 1256.0 1995.0 1263.1 2007.4C1270.2 2019.9 1280.4 2033.8 1286.2 2041.6C1292.0 2049.4 1293.8 2049.1 1295.4 2050.8" stroke="#a9a9a9" stroke-width="17.5"/><path d="M1240.0 1935.4C1241.3 1942.1 1242.8 1959.4 1246.9 1972.3C1251.1 1985.3 1256.0 1995.0 1263.1 2007.4C1270.2 2019.9 1280.4 2033.8 1286.2 2041.6C1292.0 2049.4 1293.8 2049.1 1295.4 2050.8" stroke="#d4d4d4" stroke-width="16.1"/><path d="M1240.0 1935.4C1241.3 1942.1 1242.8 1959.4 1246.9 1972.3C1251.1 1985.3 1256.0 1995.0 1263.1 2007.4C1270.2 2019.9 1280.4 2033.8 1286.2 2041.6C1292.0 2049.4 1293.8 2049.1 1295.4 2050.8" stroke="#e9e9e9" stroke-width="5.2" transform="translate(-1.3 -2.9)"/></g>
<g opacity="1.00" fill="none" stroke-linecap="round" stroke-linejoin="round"><path d="M1252.0 1949.3C1254.8 1956.8 1261.6 1976.6 1267.7 1991.3C1273.9 2005.9 1281.6 2021.0 1286.2 2030.5C1290.8 2040.0 1291.9 2041.5 1293.1 2043.9" stroke="#89247e" stroke-width="12.5"/><path d="M1252.0 1949.3C1254.8 1956.8 1261.6 1976.6 1267.7 1991.3C1273.9 2005.9 1281.6 2021.0 1286.2 2030.5C1290.8 2040.0 1291.9 2041.5 1293.1 2043.9" stroke="#d438c2" stroke-width="11.1"/><path d="M1252.0 1949.3C1254.8 1956.8 1261.6 1976.6 1267.7 1991.3C1273.9 2005.9 1281.6 2021.0 1286.2 2030.5C1290.8 2040.0 1291.9 2041.5 1293.1 2043.9" stroke="#e587da" stroke-width="3.6" transform="translate(-0.9 -2.0)"/></g>
<g opacity="1.00" fill="none" stroke-linecap="round" stroke-linejoin="round"><path d="M1177.7 1938.2C1184.8 1939.4 1201.6 1944.7 1216.9 1945.1C1232.3 1945.5 1244.8 1943.8 1263.1 1940.5C1281.4 1937.2 1308.5 1929.1 1318.5 1926.6" stroke="#919191" stroke-width="15.6"/><path d="M1177.7 1938.2C1184.8 1939.4 1201.6 1944.7 1216.9 1945.1C1232.3 1945.5 1244.8 1943.8 1263.1 1940.5C1281.4 1937.2 1308.5 1929.1 1318.5 1926.6" stroke="#d0d0d0" stroke-width="14.2"/><path d="M1177.7 1938.2C1184.8 1939.4 1201.6 1944.7 1216.9 1945.1C1232.3 1945.5 1244.8 1943.8 1263.1 1940.5C1281.4 1937.2 1308.5 1929.1 1318.5 1926.6" stroke="#e7e7e7" stroke-width="4.6" transform="translate(-1.1 -2.6)"/></g>
<g opacity="1.00" fill="none" stroke-linecap="round" stroke-linejoin="round"><path d="M1249.3 1922.0C1249.7 1925.8 1254.4 1937.0 1251.6 1942.8C1248.7 1948.6 1236.8 1952.3 1233.6 1954.3" stroke="#4f5196" stroke-width="15.0"/><path d="M1249.3 1922.0C1249.7 1925.8 1254.4 1937.0 1251.6 1942.8C1248.7 1948.6 1236.8 1952.3 1233.6 1954.3" stroke="#7a7ee8" stroke-width="13.6"/><path d="M1249.3 1922.0C1249.7 1925.8 1254.4 1937.0 1251.6 1942.8C1248.7 1948.6 1236.8 1952.3 1233.6 1954.3" stroke="#afb1f1" stroke-width="4.4" transform="translate(-1.1 -2.5)"/></g>
<g opacity="1.00" fill="none" stroke-linecap="round" stroke-linejoin="round"><path d="M1254.3 1880.5C1258.1 1876.3 1263.6 1865.7 1275.1 1857.4C1286.7 1849.1 1310.7 1838.5 1318.5 1834.3" stroke="#911782" stroke-width="16.9"/><path d="M1254.3 1880.5C1258.1 1876.3 1263.6 1865.7 1275.1 1857.4C1286.7 1849.1 1310.7 1838.5 1318.5 1834.3" stroke="#e024c8" stroke-width="15.5"/><path d="M1254.3 1880.5C1258.1 1876.3 1263.6 1865.7 1275.1 1857.4C1286.7 1849.1 1310.7 1838.5 1318.5 1834.3" stroke="#ed86e0" stroke-width="5.0" transform="translate(-1.2 -2.8)"/></g>
<g opacity="1.00" fill="none" stroke-linecap="round" stroke-linejoin="round"><path d="M1207.7 1917.4C1215.2 1917.4 1236.0 1918.7 1249.3 1917.4C1262.5 1916.2 1269.1 1913.8 1281.6 1910.5C1294.0 1907.2 1311.8 1901.0 1318.5 1898.9" stroke="#4f5196" stroke-width="18.7"/><path d="M1207.7 1917.4C1215.2 1917.4 1236.0 1918.7 1249.3 1917.4C1262.5 1916.2 1269.1 1913.8 1281.6 1910.5C1294.0 1907.2 1311.8 1901.0 1318.5 1898.9" stroke="#7a7ee8" stroke-width="17.3"/><path d="M1207.7 1917.4C1215.2 1917.4 1236.0 1918.7 1249.3 1917.4C1262.5 1916.2 1269.1 1913.8 1281.6 1910.5C1294.0 1907.2 1311.8 1901.0 1318.5 1898.9" stroke="#b5b8f2" stroke-width="5.6" transform="translate(-1.4 -3.1)"/></g>
<g opacity="1.00" fill="none" stroke-linecap="round" stroke-linejoin="round"><path d="M1198.5 1882.8C1198.5 1886.5 1200.9 1893.6 1198.5 1903.6C1196.1 1913.5 1182.9 1925.7 1185.1 1938.2C1187.3 1950.6 1201.3 1969.9 1210.5 1972.8C1219.6 1975.7 1228.0 1959.7 1235.9 1954.3C1243.8 1948.9 1251.0 1944.9 1254.3 1942.8" stroke="#911782" stroke-width="15.6"/><path d="M1198.5 1882.8C1198.5 1886.5 1200.9 1893.6 1198.5 1903.6C1196.1 1913.5 1182.9 1925.7 1185.1 1938.2C1187.3 1950.6 1201.3 1969.9 1210.5 1972.8C1219.6 1975.7 1228.0 1959.7 1235.9 1954.3C1243.8 1948.9 1251.0 1944.9 1254.3 1942.8" stroke="#e024c8" stroke-width="14.2"/><path d="M1198.5 1882.8C1198.5 1886.5 1200.9 1893.6 1198.5 1903.6C1196.1 1913.5 1182.9 1925.7 1185.1 1938.2C1187.3 1950.6 1201.3 1969.9 1210.5 1972.8C1219.6 1975.7 1228.0 1959.7 1235.9 1954.3C1243.8 1948.9 1251.0 1944.9 1254.3 1942.8" stroke="#ed86e0" stroke-width="4.6" transform="translate(-1.1 -2.6)"/></g>
<g opacity="1.00" fill="none" stroke-linecap="round" stroke-linejoin="round"><path d="M1170.8 1868.9C1173.4 1870.6 1180.1 1875.7 1185.1 1878.2C1190.1 1880.7 1186.9 1881.1 1198.5 1882.8C1210.0 1884.5 1231.8 1889.1 1249.3 1887.4C1266.7 1885.7 1282.9 1879.0 1295.4 1873.6C1307.9 1868.2 1314.3 1860.3 1318.5 1857.4" stroke="#911782" stroke-width="16.9"/><path d="M1170.8 1868.9C1173.4 1870.6 1180.1 1875.7 1185.1 1878.2C1190.1 1880.7 1186.9 1881.1 1198.5 1882.8C1210.0 1884.5 1231.8 1889.1 1249.3 1887.4C1266.7 1885.7 1282.9 1879.0 1295.4 1873.6C1307.9 1868.2 1314.3 1860.3 1318.5 1857.4" stroke="#e024c8" stroke-width="15.5"/><path d="M1170.8 1868.9C1173.4 1870.6 1180.1 1875.7 1185.1 1878.2C1190.1 1880.7 1186.9 1881.1 1198.5 1882.8C1210.0 1884.5 1231.8 1889.1 1249.3 1887.4C1266.7 1885.7 1282.9 1879.0 1295.4 1873.6C1307.9 1868.2 1314.3 1860.3 1318.5 1857.4" stroke="#ed86e0" stroke-width="5.0" transform="translate(-1.2 -2.8)"/></g>
<g opacity="1.00" fill="none" stroke-linecap="round"><path d="M1304.6 1880.0L1318.5 1907.7M1307.0 1898.5L1318.5 1926.2M1304.6 1926.2L1318.5 1935.4" stroke="#a02020" stroke-width="6.0"/><path d="M1304.6 1880.0L1318.5 1907.7M1307.0 1898.5L1318.5 1926.2M1304.6 1926.2L1318.5 1935.4" stroke="#e23030" stroke-width="4.7"/></g>
<g opacity="1.00" fill="none" stroke-linecap="round"><path d="M1193.9 1945.1L1208.2 1949.7" stroke="#404040" stroke-width="9.3"/><path d="M1193.9 1945.1L1208.2 1949.7" stroke="#606060" stroke-width="8.0"/></g>
<g opacity="1.00" fill="none" stroke-linecap="round"><path d="M1168.5 1868.9L1189.2 1880.5M1205.4 1859.7L1203.1 1880.5M1143.1 1947.4L1170.8 1945.1M1184.6 1972.8L1196.2 1970.5M1212.3 1959.0L1216.9 1945.1M1216.9 1984.3L1222.0 2009.7M1237.7 2016.6L1249.3 2000.5M1207.7 1947.4L1214.6 1968.2" stroke="#8c8c8c" stroke-width="6.0"/><path d="M1168.5 1868.9L1189.2 1880.5M1205.4 1859.7L1203.1 1880.5M1143.1 1947.4L1170.8 1945.1M1184.6 1972.8L1196.2 1970.5M1212.3 1959.0L1216.9 1945.1M1216.9 1984.3L1222.0 2009.7M1237.7 2016.6L1249.3 2000.5M1207.7 1947.4L1214.6 1968.2" stroke="#f4f4f4" stroke-width="4.7"/></g></g><text x="1016.2" y="1740.4" font-size="23.0" fill="#000">I515</text><text x="1119.4" y="1907.3" font-size="23.0" fill="#dd22cc">P33</text><text x="1262.5" y="1956.6" font-size="23.0" fill="#000">A33</text>
<clipPath id="c4"><rect x="1332.7" y="1684.3" width="365.2" height="364.4"/></clipPath><g clip-path="url(#c4)"><defs><linearGradient id="g4a" x1="0" y1="0" x2="1" y2="0"><stop offset="0" stop-color="#9a9a9a"/><stop offset="0.3" stop-color="#3a1a34"/><stop offset="0.55" stop-color="#4a0c3e"/><stop offset="1" stop-color="#a41e86"/></linearGradient></defs>
<path d="M1610.7 1703.5L1697.9 1703.5L1697.9 1907.0L1668.8 1877.9L1632.5 1798.0Z" fill="#f2c8ee" opacity="0.70" />
<path d="M1545.3 1703.5L1610.7 1703.5L1632.5 1798.0L1574.3 1834.3L1538.0 1761.7Z" fill="#f0f0f0" opacity="0.80" />
<path d="M1334.5 1783.5L1392.7 1783.5L1414.5 1856.1L1334.5 1870.7Z" fill="#f0f0f8" opacity="0.60" />
<g opacity="0.70" fill="none" stroke-linecap="round" stroke-linejoin="round"><path d="M1334.5 1882.3C1351.5 1880.3 1398.9 1874.7 1429.0 1871.4C1459.1 1868.1 1475.5 1866.7 1501.7 1864.1C1527.8 1861.5 1561.2 1858.2 1574.3 1856.8" stroke="#c6c6c6" stroke-width="20.0"/><path d="M1334.5 1882.3C1351.5 1880.3 1398.9 1874.7 1429.0 1871.4C1459.1 1868.1 1475.5 1866.7 1501.7 1864.1C1527.8 1861.5 1561.2 1858.2 1574.3 1856.8" stroke="#dcdcdc" stroke-width="18.6"/><path d="M1334.5 1882.3C1351.5 1880.3 1398.9 1874.7 1429.0 1871.4C1459.1 1868.1 1475.5 1866.7 1501.7 1864.1C1527.8 1861.5 1561.2 1858.2 1574.3 1856.8" stroke="#eaeaea" stroke-width="6.0" transform="translate(-1.5 -3.4)"/></g>
<g opacity="0.80" fill="none" stroke-linecap="round" stroke-linejoin="round"><path d="M1556.2 1743.5C1559.4 1738.9 1569.1 1725.3 1574.3 1718.1C1579.6 1710.9 1583.3 1706.1 1585.2 1703.5" stroke="#bbbbd8" stroke-width="17.4"/><path d="M1556.2 1743.5C1559.4 1738.9 1569.1 1725.3 1574.3 1718.1C1579.6 1710.9 1583.3 1706.1 1585.2 1703.5" stroke="#d0d0f0" stroke-width="16.0"/><path d="M1556.2 1743.5C1559.4 1738.9 1569.1 1725.3 1574.3 1718.1C1579.6 1710.9 1583.3 1706.1 1585.2 1703.5" stroke="#e2e2f6" stroke-width="5.1" transform="translate(-1.3 -2.9)"/></g>
<g opacity="0.90" fill="none" stroke-linecap="round" stroke-linejoin="round"><path d="M1574.3 1747.1C1578.2 1741.9 1590.2 1725.9 1596.1 1718.1C1602.0 1710.2 1605.1 1706.1 1607.0 1703.5" stroke="#c964be" stroke-width="16.5"/><path d="M1574.3 1747.1C1578.2 1741.9 1590.2 1725.9 1596.1 1718.1C1602.0 1710.2 1605.1 1706.1 1607.0 1703.5" stroke="#e070d4" stroke-width="15.1"/><path d="M1574.3 1747.1C1578.2 1741.9 1590.2 1725.9 1596.1 1718.1C1602.0 1710.2 1605.1 1706.1 1607.0 1703.5" stroke="#eca9e5" stroke-width="4.8" transform="translate(-1.2 -2.7)"/></g>
<g opacity="0.80" fill="none" stroke-linecap="round" stroke-linejoin="round"><path d="M1610.7 1743.5L1621.6 1703.5" stroke="#d89ed0" stroke-width="16.5"/><path d="M1610.7 1743.5L1621.6 1703.5" stroke="#f0b0e8" stroke-width="15.1"/><path d="M1610.7 1743.5L1621.6 1703.5" stroke="#f4c7ee" stroke-width="4.8" transform="translate(-1.2 -2.7)"/></g>
<g opacity="0.60" fill="none" stroke-linecap="round" stroke-linejoin="round"><path d="M1617.9 1739.9C1627.1 1743.8 1657.0 1751.2 1668.8 1761.7C1680.6 1772.1 1680.7 1791.5 1683.3 1798.0" stroke="#c9c9c9" stroke-width="20.9"/><path d="M1617.9 1739.9C1627.1 1743.8 1657.0 1751.2 1668.8 1761.7C1680.6 1772.1 1680.7 1791.5 1683.3 1798.0" stroke="#d4d4d4" stroke-width="19.5"/><path d="M1617.9 1739.9C1627.1 1743.8 1657.0 1751.2 1668.8 1761.7C1680.6 1772.1 1680.7 1791.5 1683.3 1798.0" stroke="#e0e0e0" stroke-width="6.2" transform="translate(-1.6 -3.5)"/></g>
<path d="M1330.9 1681.7L1699.7 1681.7L1699.7 1695.5L1574.3 1702.8L1465.3 1700.6L1330.9 1697.0Z" fill="url(#g4a)" opacity="1.00" />
<g opacity="1.00" fill="none" stroke-linecap="round" stroke-linejoin="round"><path d="M1341.8 1700.6C1347.7 1703.9 1362.7 1711.6 1374.5 1718.8C1386.3 1726.0 1395.4 1732.7 1407.2 1740.6C1419.0 1748.4 1434.0 1758.5 1439.9 1762.4" stroke="#444444" stroke-width="23.6"/><path d="M1341.8 1700.6C1347.7 1703.9 1362.7 1711.6 1374.5 1718.8C1386.3 1726.0 1395.4 1732.7 1407.2 1740.6C1419.0 1748.4 1434.0 1758.5 1439.9 1762.4" stroke="#6a6a6a" stroke-width="22.2"/><path d="M1341.8 1700.6C1347.7 1703.9 1362.7 1711.6 1374.5 1718.8C1386.3 1726.0 1395.4 1732.7 1407.2 1740.6C1419.0 1748.4 1434.0 1758.5 1439.9 1762.4" stroke="#9e9e9e" stroke-width="7.1" transform="translate(-1.8 -4.0)"/></g>
<g opacity="1.00" fill="none" stroke-linecap="round" stroke-linejoin="round"><path d="M1392.7 1700.6C1399.2 1703.9 1415.9 1712.9 1429.0 1718.8C1442.1 1724.7 1458.8 1730.7 1465.3 1733.3" stroke="#444791" stroke-width="20.9"/><path d="M1392.7 1700.6C1399.2 1703.9 1415.9 1712.9 1429.0 1718.8C1442.1 1724.7 1458.8 1730.7 1465.3 1733.3" stroke="#6a6ee0" stroke-width="19.5"/><path d="M1392.7 1700.6C1399.2 1703.9 1415.9 1712.9 1429.0 1718.8C1442.1 1724.7 1458.8 1730.7 1465.3 1733.3" stroke="#a5a8ec" stroke-width="6.2" transform="translate(-1.6 -3.5)"/></g>
<g opacity="1.00" fill="none" stroke-linecap="round" stroke-linejoin="round"><path d="M1410.8 1700.6C1416.1 1702.6 1428.8 1704.3 1439.9 1711.5C1451.0 1718.7 1462.8 1732.7 1472.6 1740.6C1482.4 1748.4 1490.5 1752.5 1494.4 1755.1" stroke="#911782" stroke-width="21.8"/><path d="M1410.8 1700.6C1416.1 1702.6 1428.8 1704.3 1439.9 1711.5C1451.0 1718.7 1462.8 1732.7 1472.6 1740.6C1482.4 1748.4 1490.5 1752.5 1494.4 1755.1" stroke="#e024c8" stroke-width="20.4"/><path d="M1410.8 1700.6C1416.1 1702.6 1428.8 1704.3 1439.9 1711.5C1451.0 1718.7 1462.8 1732.7 1472.6 1740.6C1482.4 1748.4 1490.5 1752.5 1494.4 1755.1" stroke="#ed86e0" stroke-width="6.5" transform="translate(-1.6 -3.7)"/></g>
<g opacity="1.00" fill="none" stroke-linecap="round" stroke-linejoin="round"><path d="M1465.3 1744.2C1469.3 1742.3 1478.0 1737.9 1487.1 1733.3C1496.3 1728.7 1505.7 1722.1 1516.2 1718.8C1526.7 1715.5 1540.0 1715.8 1545.3 1715.2" stroke="#1d1d8c" stroke-width="21.8"/><path d="M1465.3 1744.2C1469.3 1742.3 1478.0 1737.9 1487.1 1733.3C1496.3 1728.7 1505.7 1722.1 1516.2 1718.8C1526.7 1715.5 1540.0 1715.8 1545.3 1715.2" stroke="#2e2ed8" stroke-width="20.4"/><path d="M1465.3 1744.2C1469.3 1742.3 1478.0 1737.9 1487.1 1733.3C1496.3 1728.7 1505.7 1722.1 1516.2 1718.8C1526.7 1715.5 1540.0 1715.8 1545.3 1715.2" stroke="#7777e5" stroke-width="6.5" transform="translate(-1.6 -3.7)"/></g>
<g opacity="1.00" fill="none" stroke-linecap="round"><path d="M1370.9 1701.7L1392.7 1725.3M1341.8 1798.0L1363.6 1812.5M1370.9 1798.0L1389.0 1812.5M1341.8 1816.2L1360.0 1827.1" stroke="#902020" stroke-width="10.8"/><path d="M1370.9 1701.7L1392.7 1725.3M1341.8 1798.0L1363.6 1812.5M1370.9 1798.0L1389.0 1812.5M1341.8 1816.2L1360.0 1827.1" stroke="#d03030" stroke-width="9.5"/></g>
<g opacity="1.00" fill="none" stroke-linecap="round"><path d="M1501.7 1725.3L1505.3 1732.6M1523.5 1714.4L1530.7 1718.1" stroke="#333333" stroke-width="12.9"/><path d="M1501.7 1725.3L1505.3 1732.6M1523.5 1714.4L1530.7 1718.1" stroke="#555555" stroke-width="11.6"/></g>
<g opacity="1.00" fill="none" stroke-linecap="round" stroke-linejoin="round"><path d="M1389.0 1835.1C1395.6 1832.4 1412.9 1825.7 1425.4 1820.5C1437.8 1815.3 1452.2 1808.6 1458.1 1806.0" stroke="#911782" stroke-width="20.0"/><path d="M1389.0 1835.1C1395.6 1832.4 1412.9 1825.7 1425.4 1820.5C1437.8 1815.3 1452.2 1808.6 1458.1 1806.0" stroke="#e024c8" stroke-width="18.6"/><path d="M1389.0 1835.1C1395.6 1832.4 1412.9 1825.7 1425.4 1820.5C1437.8 1815.3 1452.2 1808.6 1458.1 1806.0" stroke="#ed86e0" stroke-width="6.0" transform="translate(-1.5 -3.4)"/></g>
<g opacity="1.00" fill="none" stroke-linecap="round" stroke-linejoin="round"><path d="M1334.5 1871.4C1338.5 1870.1 1345.9 1869.3 1356.3 1864.1C1366.8 1858.9 1379.6 1850.2 1392.7 1842.3C1405.7 1834.5 1414.6 1825.7 1429.0 1820.5C1443.4 1815.3 1464.7 1814.6 1472.6 1813.3" stroke="#444791" stroke-width="26.2"/><path d="M1334.5 1871.4C1338.5 1870.1 1345.9 1869.3 1356.3 1864.1C1366.8 1858.9 1379.6 1850.2 1392.7 1842.3C1405.7 1834.5 1414.6 1825.7 1429.0 1820.5C1443.4 1815.3 1464.7 1814.6 1472.6 1813.3" stroke="#6a6ee0" stroke-width="24.8"/><path d="M1334.5 1871.4C1338.5 1870.1 1345.9 1869.3 1356.3 1864.1C1366.8 1858.9 1379.6 1850.2 1392.7 1842.3C1405.7 1834.5 1414.6 1825.7 1429.0 1820.5C1443.4 1815.3 1464.7 1814.6 1472.6 1813.3" stroke="#adafed" stroke-width="7.9" transform="translate(-2.0 -4.5)"/></g>
<g opacity="1.00" fill="none" stroke-linecap="round" stroke-linejoin="round"><path d="M1458.1 1755.1C1457.4 1760.4 1457.0 1773.1 1454.4 1784.2C1451.8 1795.3 1451.4 1803.8 1443.5 1816.9C1435.7 1830.0 1418.5 1845.7 1410.8 1856.8C1403.1 1868.0 1402.5 1874.7 1400.7 1878.6" stroke="#707070" stroke-width="24.4"/><path d="M1458.1 1755.1C1457.4 1760.4 1457.0 1773.1 1454.4 1784.2C1451.8 1795.3 1451.4 1803.8 1443.5 1816.9C1435.7 1830.0 1418.5 1845.7 1410.8 1856.8C1403.1 1868.0 1402.5 1874.7 1400.7 1878.6" stroke="#a0a0a0" stroke-width="23.0"/><path d="M1458.1 1755.1C1457.4 1760.4 1457.0 1773.1 1454.4 1784.2C1451.8 1795.3 1451.4 1803.8 1443.5 1816.9C1435.7 1830.0 1418.5 1845.7 1410.8 1856.8C1403.1 1868.0 1402.5 1874.7 1400.7 1878.6" stroke="#d4d4d4" stroke-width="7.4" transform="translate(-1.8 -4.1)"/></g>
<g opacity="1.00" fill="none" stroke-linecap="round" stroke-linejoin="round"><path d="M1400.7 1878.6L1404.3 1904.1" stroke="#a2a2a2" stroke-width="21.8"/><path d="M1400.7 1878.6L1404.3 1904.1" stroke="#e8e8e8" stroke-width="20.4"/><path d="M1400.7 1878.6L1404.3 1904.1" stroke="#f3f3f3" stroke-width="6.5" transform="translate(-1.6 -3.7)"/></g>
<g opacity="1.00" fill="none" stroke-linecap="round" stroke-linejoin="round"><path d="M1480.6 1751.5C1478.6 1757.4 1473.6 1774.4 1469.7 1784.2C1465.8 1794.0 1460.7 1802.1 1458.8 1806.0" stroke="#680d53" stroke-width="20.0"/><path d="M1480.6 1751.5C1478.6 1757.4 1473.6 1774.4 1469.7 1784.2C1465.8 1794.0 1460.7 1802.1 1458.8 1806.0" stroke="#a01480" stroke-width="18.6"/><path d="M1480.6 1751.5C1478.6 1757.4 1473.6 1774.4 1469.7 1784.2C1465.8 1794.0 1460.7 1802.1 1458.8 1806.0" stroke="#c166ac" stroke-width="6.0" transform="translate(-1.5 -3.4)"/></g>
<g opacity="1.00" fill="none" stroke-linecap="round" stroke-linejoin="round"><path d="M1389.0 1867.7C1389.8 1873.0 1390.6 1885.7 1393.4 1896.8C1396.1 1907.9 1401.0 1922.3 1404.3 1929.5C1407.6 1936.7 1410.2 1935.5 1411.6 1936.8" stroke="#252591" stroke-width="21.8"/><path d="M1389.0 1867.7C1389.8 1873.0 1390.6 1885.7 1393.4 1896.8C1396.1 1907.9 1401.0 1922.3 1404.3 1929.5C1407.6 1936.7 1410.2 1935.5 1411.6 1936.8" stroke="#3a3ae0" stroke-width="20.4"/><path d="M1389.0 1867.7C1389.8 1873.0 1390.6 1885.7 1393.4 1896.8C1396.1 1907.9 1401.0 1922.3 1404.3 1929.5C1407.6 1936.7 1410.2 1935.5 1411.6 1936.8" stroke="#8888ec" stroke-width="6.5" transform="translate(-1.6 -3.7)"/></g>
<ellipse cx="1354.5" cy="1870.7" rx="7" ry="9" fill="#2a2ad0"/>
<g opacity="1.00" fill="none" stroke-linecap="round"><path d="M1349.1 1904.1L1374.5 1896.8M1374.5 1954.9L1396.3 1940.4M1415.2 1936.8L1437.0 1940.4M1404.3 1907.7L1422.5 1911.3M1425.4 1805.3L1443.5 1816.2M1363.6 1877.9L1378.1 1888.8" stroke="#8c8c8c" stroke-width="8.7"/><path d="M1349.1 1904.1L1374.5 1896.8M1374.5 1954.9L1396.3 1940.4M1415.2 1936.8L1437.0 1940.4M1404.3 1907.7L1422.5 1911.3M1425.4 1805.3L1443.5 1816.2M1363.6 1877.9L1378.1 1888.8" stroke="#f4f4f4" stroke-width="7.4"/></g>
<path d="M1441.7 1919.7L1449.0 1921.5M1463.5 1927.0L1470.8 1928.8" stroke="#e0e020" stroke-width="2.2"/>
<g opacity="0.75" fill="none" stroke-linecap="round" stroke-linejoin="round"><path d="M1523.5 1853.2C1526.1 1856.5 1531.5 1866.8 1538.0 1871.4C1544.5 1876.0 1555.9 1877.3 1559.8 1878.6" stroke="#5d1448" stroke-width="19.1"/><path d="M1523.5 1853.2C1526.1 1856.5 1531.5 1866.8 1538.0 1871.4C1544.5 1876.0 1555.9 1877.3 1559.8 1878.6" stroke="#902070" stroke-width="17.7"/><path d="M1523.5 1853.2C1526.1 1856.5 1531.5 1866.8 1538.0 1871.4C1544.5 1876.0 1555.9 1877.3 1559.8 1878.6" stroke="#b1629a" stroke-width="5.7" transform="translate(-1.4 -3.2)"/></g>
<g opacity="1.00" fill="none" stroke-linecap="round" stroke-linejoin="round"><path d="M1545.3 1747.9C1549.2 1753.7 1560.4 1770.1 1567.1 1780.6C1573.7 1791.0 1579.6 1801.4 1582.3 1806.0" stroke="#872972" stroke-width="19.1"/><path d="M1545.3 1747.9C1549.2 1753.7 1560.4 1770.1 1567.1 1780.6C1573.7 1791.0 1579.6 1801.4 1582.3 1806.0" stroke="#d040b0" stroke-width="17.7"/><path d="M1545.3 1747.9C1549.2 1753.7 1560.4 1770.1 1567.1 1780.6C1573.7 1791.0 1579.6 1801.4 1582.3 1806.0" stroke="#e28ccf" stroke-width="5.7" transform="translate(-1.4 -3.2)"/></g>
<g opacity="0.80" fill="none" stroke-linecap="round" stroke-linejoin="round"><path d="M1538.0 1755.1C1540.6 1760.4 1547.3 1773.1 1552.5 1784.2C1557.8 1795.3 1564.4 1811.0 1567.1 1816.9" stroke="#59598c" stroke-width="17.4"/><path d="M1538.0 1755.1C1540.6 1760.4 1547.3 1773.1 1552.5 1784.2C1557.8 1795.3 1564.4 1811.0 1567.1 1816.9" stroke="#8a8ad8" stroke-width="16.0"/><path d="M1538.0 1755.1C1540.6 1760.4 1547.3 1773.1 1552.5 1784.2C1557.8 1795.3 1564.4 1811.0 1567.1 1816.9" stroke="#b8b8e7" stroke-width="5.1" transform="translate(-1.3 -2.9)"/></g>
<g opacity="1.00" fill="none" stroke-linecap="round" stroke-linejoin="round"><path d="M1494.4 1806.0C1499.6 1810.6 1513.0 1822.9 1523.5 1831.4C1533.9 1839.9 1547.3 1849.3 1552.5 1853.2" stroke="#666666" stroke-width="20.9"/><path d="M1494.4 1806.0C1499.6 1810.6 1513.0 1822.9 1523.5 1831.4C1533.9 1839.9 1547.3 1849.3 1552.5 1853.2" stroke="#929292" stroke-width="19.5"/><path d="M1494.4 1806.0C1499.6 1810.6 1513.0 1822.9 1523.5 1831.4C1533.9 1839.9 1547.3 1849.3 1552.5 1853.2" stroke="#c3c3c3" stroke-width="6.2" transform="translate(-1.6 -3.5)"/></g>
<g opacity="1.00" fill="none" stroke-linecap="round"><path d="M1508.9 1842.3L1495.1 1878.6M1495.1 1878.6L1509.7 1889.5M1516.2 1779.8L1538.0 1798.0M1538.0 1841.6L1545.3 1870.7M1530.7 1888.8L1538.0 1899.7M1559.8 1899.7L1581.6 1907.0M1472.6 1812.5L1490.8 1834.3" stroke="#707070" stroke-width="9.7"/><path d="M1508.9 1842.3L1495.1 1878.6M1495.1 1878.6L1509.7 1889.5M1516.2 1779.8L1538.0 1798.0M1538.0 1841.6L1545.3 1870.7M1530.7 1888.8L1538.0 1899.7M1559.8 1899.7L1581.6 1907.0M1472.6 1812.5L1490.8 1834.3" stroke="#b8b8b8" stroke-width="8.4"/></g>
<g opacity="1.00" fill="none" stroke-linecap="round" stroke-linejoin="round"><path d="M1622.3 1820.5C1622.3 1827.1 1622.9 1843.1 1622.3 1856.8C1621.6 1870.6 1619.3 1889.6 1618.6 1896.8" stroke="#484896" stroke-width="28.0"/><path d="M1622.3 1820.5C1622.3 1827.1 1622.9 1843.1 1622.3 1856.8C1621.6 1870.6 1619.3 1889.6 1618.6 1896.8" stroke="#7070e8" stroke-width="26.6"/><path d="M1622.3 1820.5C1622.3 1827.1 1622.9 1843.1 1622.3 1856.8C1621.6 1870.6 1619.3 1889.6 1618.6 1896.8" stroke="#b0b0f2" stroke-width="8.5" transform="translate(-2.1 -4.8)"/></g>
<g opacity="1.00" fill="none" stroke-linecap="round" stroke-linejoin="round"><path d="M1596.8 1907.7C1594.9 1914.3 1588.6 1931.0 1585.9 1944.0C1583.3 1957.1 1583.0 1973.8 1582.3 1980.4" stroke="#444791" stroke-width="23.6"/><path d="M1596.8 1907.7C1594.9 1914.3 1588.6 1931.0 1585.9 1944.0C1583.3 1957.1 1583.0 1973.8 1582.3 1980.4" stroke="#6a6ee0" stroke-width="22.2"/><path d="M1596.8 1907.7C1594.9 1914.3 1588.6 1931.0 1585.9 1944.0C1583.3 1957.1 1583.0 1973.8 1582.3 1980.4" stroke="#a5a8ec" stroke-width="7.1" transform="translate(-1.8 -4.0)"/></g>
<g opacity="1.00" fill="none" stroke-linecap="round" stroke-linejoin="round"><path d="M1665.9 1820.5C1663.9 1827.1 1659.6 1844.4 1655.0 1856.8C1650.4 1869.3 1646.3 1877.1 1640.4 1889.5C1634.6 1902.0 1628.8 1912.8 1622.3 1925.9C1615.7 1939.0 1610.0 1950.4 1604.1 1962.2C1598.2 1974.0 1592.2 1986.0 1589.6 1991.3" stroke="#911782" stroke-width="26.2"/><path d="M1665.9 1820.5C1663.9 1827.1 1659.6 1844.4 1655.0 1856.8C1650.4 1869.3 1646.3 1877.1 1640.4 1889.5C1634.6 1902.0 1628.8 1912.8 1622.3 1925.9C1615.7 1939.0 1610.0 1950.4 1604.1 1962.2C1598.2 1974.0 1592.2 1986.0 1589.6 1991.3" stroke="#e024c8" stroke-width="24.8"/><path d="M1665.9 1820.5C1663.9 1827.1 1659.6 1844.4 1655.0 1856.8C1650.4 1869.3 1646.3 1877.1 1640.4 1889.5C1634.6 1902.0 1628.8 1912.8 1622.3 1925.9C1615.7 1939.0 1610.0 1950.4 1604.1 1962.2C1598.2 1974.0 1592.2 1986.0 1589.6 1991.3" stroke="#ed86e0" stroke-width="7.9" transform="translate(-2.0 -4.5)"/></g>
<g opacity="1.00" fill="none" stroke-linecap="round" stroke-linejoin="round"><path d="M1617.9 1918.6C1623.2 1919.9 1632.3 1922.0 1647.0 1925.9C1661.7 1929.8 1690.2 1937.8 1699.7 1940.4" stroke="#680f58" stroke-width="32.4"/><path d="M1617.9 1918.6C1623.2 1919.9 1632.3 1922.0 1647.0 1925.9C1661.7 1929.8 1690.2 1937.8 1699.7 1940.4" stroke="#a01888" stroke-width="31.0"/><path d="M1617.9 1918.6C1623.2 1919.9 1632.3 1922.0 1647.0 1925.9C1661.7 1929.8 1690.2 1937.8 1699.7 1940.4" stroke="#bc5dab" stroke-width="9.9" transform="translate(-2.5 -5.6)"/></g>
<g opacity="1.00" fill="none" stroke-linecap="round" stroke-linejoin="round"><path d="M1610.7 1922.2C1617.2 1921.6 1631.0 1919.9 1647.0 1918.6C1663.0 1917.3 1690.2 1915.6 1699.7 1915.0" stroke="#444791" stroke-width="21.8"/><path d="M1610.7 1922.2C1617.2 1921.6 1631.0 1919.9 1647.0 1918.6C1663.0 1917.3 1690.2 1915.6 1699.7 1915.0" stroke="#6a6ee0" stroke-width="20.4"/><path d="M1610.7 1922.2C1617.2 1921.6 1631.0 1919.9 1647.0 1918.6C1663.0 1917.3 1690.2 1915.6 1699.7 1915.0" stroke="#a5a8ec" stroke-width="6.5" transform="translate(-1.6 -3.7)"/></g>
<g opacity="1.00" fill="none" stroke-linecap="round" stroke-linejoin="round"><path d="M1665.9 1820.5L1699.7 1820.5" stroke="#911782" stroke-width="21.8"/><path d="M1665.9 1820.5L1699.7 1820.5" stroke="#e024c8" stroke-width="20.4"/><path d="M1665.9 1820.5L1699.7 1820.5" stroke="#ec7bde" stroke-width="6.5" transform="translate(-1.6 -3.7)"/></g>
<g opacity="1.00" fill="none" stroke-linecap="round"><path d="M1684.0 1856.8L1687.7 1907.7M1684.0 1944.0L1687.7 1987.6M1574.3 1892.5L1596.1 1899.7M1588.9 1885.2L1610.7 1892.5M1603.4 1798.0L1639.7 1790.7" stroke="#8c8c8c" stroke-width="8.7"/><path d="M1684.0 1856.8L1687.7 1907.7M1684.0 1944.0L1687.7 1987.6M1574.3 1892.5L1596.1 1899.7M1588.9 1885.2L1610.7 1892.5M1603.4 1798.0L1639.7 1790.7" stroke="#f4f4f4" stroke-width="7.4"/></g>
<g opacity="1.00" fill="none" stroke-linecap="round"><path d="M1640.4 1791.5L1647.7 1806.0M1629.5 1806.0L1622.3 1820.5M1596.1 1805.3L1610.7 1798.0" stroke="#333333" stroke-width="12.9"/><path d="M1640.4 1791.5L1647.7 1806.0M1629.5 1806.0L1622.3 1820.5M1596.1 1805.3L1610.7 1798.0" stroke="#555555" stroke-width="11.6"/></g>
<g opacity="0.70" fill="none" stroke-linecap="round" stroke-linejoin="round"><path d="M1465.3 2049.4C1478.4 2043.5 1515.6 2023.2 1538.0 2016.7C1560.4 2010.2 1580.3 2013.7 1589.6 2013.1" stroke="#c2c2c2" stroke-width="19.1"/><path d="M1465.3 2049.4C1478.4 2043.5 1515.6 2023.2 1538.0 2016.7C1560.4 2010.2 1580.3 2013.7 1589.6 2013.1" stroke="#d8d8d8" stroke-width="17.7"/><path d="M1465.3 2049.4C1478.4 2043.5 1515.6 2023.2 1538.0 2016.7C1560.4 2010.2 1580.3 2013.7 1589.6 2013.1" stroke="#e7e7e7" stroke-width="5.7" transform="translate(-1.4 -3.2)"/></g>
<g opacity="1.00" fill="none" stroke-linecap="round" stroke-linejoin="round"><path d="M1410.8 2052.3C1423.9 2046.6 1460.6 2028.7 1483.5 2020.3C1506.4 2012.0 1520.2 2008.8 1538.0 2005.8C1555.8 2002.9 1567.1 2002.0 1582.3 2004.0C1597.5 2006.0 1611.2 2008.0 1622.3 2016.7C1633.4 2025.4 1640.2 2045.9 1644.1 2052.3" stroke="#444791" stroke-width="20.0"/><path d="M1410.8 2052.3C1423.9 2046.6 1460.6 2028.7 1483.5 2020.3C1506.4 2012.0 1520.2 2008.8 1538.0 2005.8C1555.8 2002.9 1567.1 2002.0 1582.3 2004.0C1597.5 2006.0 1611.2 2008.0 1622.3 2016.7C1633.4 2025.4 1640.2 2045.9 1644.1 2052.3" stroke="#6a6ee0" stroke-width="18.6"/><path d="M1410.8 2052.3C1423.9 2046.6 1460.6 2028.7 1483.5 2020.3C1506.4 2012.0 1520.2 2008.8 1538.0 2005.8C1555.8 2002.9 1567.1 2002.0 1582.3 2004.0C1597.5 2006.0 1611.2 2008.0 1622.3 2016.7C1633.4 2025.4 1640.2 2045.9 1644.1 2052.3" stroke="#a5a8ec" stroke-width="6.0" transform="translate(-1.5 -3.4)"/></g>
<g opacity="1.00" fill="none" stroke-linecap="round" stroke-linejoin="round"><path d="M1385.4 2052.3C1393.2 2048.5 1411.3 2039.0 1429.0 2031.2C1446.7 2023.5 1463.9 2016.0 1483.5 2009.4C1503.1 2002.9 1520.2 1998.2 1538.0 1994.9C1555.8 1991.6 1567.8 1990.0 1582.3 1991.3C1596.8 1992.6 1606.9 1995.6 1618.6 2002.2C1630.4 2008.7 1639.2 2018.6 1647.7 2027.6C1656.2 2036.6 1662.6 2047.9 1665.9 2052.3" stroke="#911782" stroke-width="21.8"/><path d="M1385.4 2052.3C1393.2 2048.5 1411.3 2039.0 1429.0 2031.2C1446.7 2023.5 1463.9 2016.0 1483.5 2009.4C1503.1 2002.9 1520.2 1998.2 1538.0 1994.9C1555.8 1991.6 1567.8 1990.0 1582.3 1991.3C1596.8 1992.6 1606.9 1995.6 1618.6 2002.2C1630.4 2008.7 1639.2 2018.6 1647.7 2027.6C1656.2 2036.6 1662.6 2047.9 1665.9 2052.3" stroke="#e024c8" stroke-width="20.4"/><path d="M1385.4 2052.3C1393.2 2048.5 1411.3 2039.0 1429.0 2031.2C1446.7 2023.5 1463.9 2016.0 1483.5 2009.4C1503.1 2002.9 1520.2 1998.2 1538.0 1994.9C1555.8 1991.6 1567.8 1990.0 1582.3 1991.3C1596.8 1992.6 1606.9 1995.6 1618.6 2002.2C1630.4 2008.7 1639.2 2018.6 1647.7 2027.6C1656.2 2036.6 1662.6 2047.9 1665.9 2052.3" stroke="#ed86e0" stroke-width="6.5" transform="translate(-1.6 -3.7)"/></g>
<g opacity="1.00" fill="none" stroke-linecap="round" stroke-linejoin="round"><path d="M1466.1 1951.3L1491.5 1998.5" stroke="#a92424" stroke-width="12.9"/><path d="M1466.1 1951.3L1491.5 1998.5" stroke="#e23030" stroke-width="11.5"/><path d="M1466.1 1951.3L1491.5 1998.5" stroke="#ed8282" stroke-width="3.7" transform="translate(-0.9 -2.1)"/></g>
<g opacity="1.00" fill="none" stroke-linecap="round" stroke-linejoin="round"><path d="M1480.6 1944.0L1502.4 1987.6" stroke="#a92424" stroke-width="12.9"/><path d="M1480.6 1944.0L1502.4 1987.6" stroke="#e23030" stroke-width="11.5"/><path d="M1480.6 1944.0L1502.4 1987.6" stroke="#ed8282" stroke-width="3.7" transform="translate(-0.9 -2.1)"/></g>
<g opacity="1.00" fill="none" stroke-linecap="round" stroke-linejoin="round"><path d="M1491.5 1940.4L1509.7 1984.0" stroke="#a92424" stroke-width="12.9"/><path d="M1491.5 1940.4L1509.7 1984.0" stroke="#e23030" stroke-width="11.5"/><path d="M1491.5 1940.4L1509.7 1984.0" stroke="#ed8282" stroke-width="3.7" transform="translate(-0.9 -2.1)"/></g>
<g opacity="1.00" fill="none" stroke-linecap="round" stroke-linejoin="round"><path d="M1502.4 1933.1L1520.6 1976.7" stroke="#a92424" stroke-width="12.9"/><path d="M1502.4 1933.1L1520.6 1976.7" stroke="#e23030" stroke-width="11.5"/><path d="M1502.4 1933.1L1520.6 1976.7" stroke="#ed8282" stroke-width="3.7" transform="translate(-0.9 -2.1)"/></g>
<g opacity="1.00" fill="none" stroke-linecap="round" stroke-linejoin="round"><path d="M1509.7 1958.6L1524.2 1984.0" stroke="#911782" stroke-width="12.0"/><path d="M1509.7 1958.6L1524.2 1984.0" stroke="#e024c8" stroke-width="10.6"/><path d="M1509.7 1958.6L1524.2 1984.0" stroke="#e965d8" stroke-width="3.4" transform="translate(-0.9 -1.9)"/></g>
<g opacity="1.00" fill="none" stroke-linecap="round"><path d="M1589.6 1998.5L1607.7 2024.0M1596.8 2005.8L1622.3 2027.6" stroke="#333333" stroke-width="12.9"/><path d="M1589.6 1998.5L1607.7 2024.0M1596.8 2005.8L1622.3 2027.6" stroke="#5a5a5a" stroke-width="11.6"/></g>
<g opacity="1.00" fill="none" stroke-linecap="round"><path d="M1589.6 2016.7L1593.2 2031.2M1607.7 2020.3L1615.0 2027.6" stroke="#8c8c8c" stroke-width="8.7"/><path d="M1589.6 2016.7L1593.2 2031.2M1607.7 2020.3L1615.0 2027.6" stroke="#f4f4f4" stroke-width="7.4"/></g>
<g opacity="1.00" fill="none" stroke-linecap="round" stroke-linejoin="round"><path d="M1611.4 2031.2L1625.9 2045.8" stroke="#161682" stroke-width="14.7"/><path d="M1611.4 2031.2L1625.9 2045.8" stroke="#2222c8" stroke-width="13.3"/><path d="M1611.4 2031.2L1625.9 2045.8" stroke="#6464d8" stroke-width="4.3" transform="translate(-1.1 -2.4)"/></g></g><text x="1620.0" y="1759.8" font-size="23.0" fill="#dd22cc">P33</text><text x="1475.5" y="1807.0" font-size="23.0" fill="#000">A33</text><text x="1332.9" y="1934.2" font-size="23.0" fill="#000">N52</text><text x="1521.2" y="1959.7" font-size="23.0" fill="#000">I515</text>
<rect x="97.9" y="1684.0" width="363.6" height="364.3" fill="none" stroke="#000" stroke-width="1.8"/>
<rect x="525.1" y="1684.0" width="364.3" height="364.3" fill="none" stroke="#000" stroke-width="1.8"/>
<rect x="951.5" y="1683.9" width="365.1" height="365.8" fill="none" stroke="#000" stroke-width="1.8"/>
<rect x="1332.7" y="1684.3" width="365.2" height="364.4" fill="none" stroke="#000" stroke-width="1.8"/>
<text x="1716.0" y="1719.9" font-size="23.0" fill="#ee22ee">HIV-1</text>
<text x="1716.0" y="1750.8" font-size="23.0" fill="#ee22ee">VRC34-</text>
<text x="1716.0" y="1780.9" font-size="23.0" fill="#ee22ee">mm28</text>
<text x="1716.0" y="1810.7" font-size="23.0" fill="#ee22ee">complex</text>
<text x="1716.0" y="1840.9" font-size="23.0" fill="#7272f0">HIV-1</text>
<text x="1716.0" y="1870.7" font-size="23.0" fill="#7272f0">VRC34-</text>
<text x="1716.0" y="1901.5" font-size="23.0" fill="#7272f0">combo.1</text>
<text x="1716.0" y="1930.6" font-size="23.0" fill="#7272f0">complex</text>
<text x="1716.0" y="1960.8" font-size="23.0" fill="#808080">HIV-1</text>
<text x="1716.0" y="1990.6" font-size="23.0" fill="#808080">VRC34-wt</text>
<text x="1716.0" y="2020.7" font-size="23.0" fill="#808080">complex</text>
<text x="1714.5" y="2076.3" font-size="23.0">H: Heavy chain</text>
<text x="1714.5" y="2106.3" font-size="23.0">L: Light chain</text>
<text x="1712.6" y="2135.5" font-size="23.0" textLength="209.3" lengthAdjust="spacingAndGlyphs">FP: Fusion peptide</text>
<path d="M111.5 2076.1V2405.6H467.3" stroke="#111" stroke-width="1.8" fill="none"/>
<path d="M98.1 2405.6H111.5" stroke="#111" stroke-width="1.8"/>
<path d="M98.1 2076.1H111.5" stroke="#111" stroke-width="1.8"/>
<text x="94.0" y="2084.9" font-size="25.5" text-anchor="end">2</text>
<path d="M98.1 2117.3H111.5" stroke="#111" stroke-width="1.8"/>
<text x="94.0" y="2126.1" font-size="25.5" text-anchor="end">1</text>
<path d="M98.1 2158.5H111.5" stroke="#111" stroke-width="1.8"/>
<text x="94.0" y="2167.3" font-size="25.5" text-anchor="end">0</text>
<path d="M98.1 2199.7H111.5" stroke="#111" stroke-width="1.8"/>
<text x="94.0" y="2208.5" font-size="25.5" text-anchor="end">-1</text>
<path d="M98.1 2240.9H111.5" stroke="#111" stroke-width="1.8"/>
<text x="94.0" y="2249.7" font-size="25.5" text-anchor="end">-2</text>
<path d="M98.1 2282.1H111.5" stroke="#111" stroke-width="1.8"/>
<text x="94.0" y="2290.9" font-size="25.5" text-anchor="end">-3</text>
<path d="M98.1 2323.3H111.5" stroke="#111" stroke-width="1.8"/>
<text x="94.0" y="2332.1" font-size="25.5" text-anchor="end">-4</text>
<path d="M98.1 2364.5H111.5" stroke="#111" stroke-width="1.8"/>
<text x="94.0" y="2373.3" font-size="25.5" text-anchor="end">-5</text>
<path d="M98.1 2405.7H111.5" stroke="#111" stroke-width="1.8"/>
<text x="94.0" y="2414.5" font-size="25.5" text-anchor="end">-6</text>
<path d="M181.9 2405.6V2419.2" stroke="#111" stroke-width="1.8"/>
<path d="M288.4 2405.6V2419.2" stroke="#111" stroke-width="1.8"/>
<path d="M395.5 2405.6V2419.2" stroke="#111" stroke-width="1.8"/>
<text x="181.9" y="2456.5" font-size="23.5" text-anchor="middle">WT</text>
<text x="289.8" y="2456.5" font-size="23.5" text-anchor="middle">Combo</text>
<text x="400.6" y="2456.5" font-size="23.5" text-anchor="middle">mm28</text>
<g fill="#000">
<circle cx="148.1" cy="2159.8" r="3.5"/><circle cx="150.9" cy="2159.5" r="3.5"/><circle cx="153.1" cy="2159.6" r="3.5"/><circle cx="155.6" cy="2159.8" r="3.5"/><circle cx="157.7" cy="2159.3" r="3.5"/><circle cx="160.5" cy="2159.6" r="3.5"/><circle cx="162.9" cy="2159.3" r="3.5"/><circle cx="165.1" cy="2159.7" r="3.5"/><circle cx="167.3" cy="2159.9" r="3.5"/><circle cx="170.1" cy="2159.3" r="3.5"/><circle cx="172.0" cy="2159.6" r="3.5"/><circle cx="175.0" cy="2159.5" r="3.5"/><circle cx="176.9" cy="2159.6" r="3.5"/><circle cx="179.2" cy="2159.4" r="3.5"/><circle cx="181.9" cy="2159.6" r="3.5"/><circle cx="184.1" cy="2159.4" r="3.5"/><circle cx="186.5" cy="2159.6" r="3.5"/><circle cx="189.0" cy="2159.3" r="3.5"/><circle cx="191.7" cy="2159.6" r="3.5"/><circle cx="194.0" cy="2159.4" r="3.5"/><circle cx="196.6" cy="2159.8" r="3.5"/><circle cx="198.5" cy="2159.5" r="3.5"/><circle cx="201.2" cy="2159.7" r="3.5"/><circle cx="203.8" cy="2159.6" r="3.5"/><circle cx="206.1" cy="2159.7" r="3.5"/><circle cx="208.2" cy="2159.7" r="3.5"/><circle cx="210.9" cy="2159.8" r="3.5"/><circle cx="213.1" cy="2159.7" r="3.5"/><circle cx="215.2" cy="2159.4" r="3.5"/>
<circle cx="182.4" cy="2100.7" r="3.5"/><circle cx="181.4" cy="2103.5" r="3.5"/><circle cx="182.2" cy="2106.3" r="3.5"/><circle cx="181.7" cy="2108.5" r="3.5"/><circle cx="181.9" cy="2111.7" r="3.5"/><circle cx="181.9" cy="2113.6" r="3.5"/><circle cx="181.9" cy="2115.7" r="3.5"/><circle cx="181.2" cy="2119.3" r="3.5"/><circle cx="182.7" cy="2121.8" r="3.5"/><circle cx="181.7" cy="2123.7" r="3.5"/><circle cx="181.9" cy="2127.6" r="3.5"/><circle cx="182.3" cy="2129.5" r="3.5"/><circle cx="182.5" cy="2131.6" r="3.5"/><circle cx="181.9" cy="2135.3" r="3.5"/><circle cx="182.0" cy="2137.2" r="3.5"/><circle cx="181.5" cy="2139.9" r="3.5"/><circle cx="182.6" cy="2141.6" r="3.5"/><circle cx="182.4" cy="2145.5" r="3.5"/><circle cx="182.5" cy="2148.0" r="3.5"/><circle cx="182.4" cy="2150.2" r="3.5"/>
<circle cx="257.2" cy="2159.6" r="3.5"/><circle cx="259.3" cy="2159.8" r="3.5"/><circle cx="262.0" cy="2159.4" r="3.5"/><circle cx="264.4" cy="2159.6" r="3.5"/><circle cx="266.7" cy="2159.5" r="3.5"/><circle cx="269.2" cy="2159.7" r="3.5"/><circle cx="271.7" cy="2159.6" r="3.5"/><circle cx="273.7" cy="2159.4" r="3.5"/><circle cx="276.2" cy="2159.7" r="3.5"/><circle cx="279.0" cy="2159.8" r="3.5"/><circle cx="281.4" cy="2159.8" r="3.5"/><circle cx="283.5" cy="2159.8" r="3.5"/><circle cx="286.1" cy="2159.3" r="3.5"/><circle cx="288.1" cy="2159.3" r="3.5"/><circle cx="291.0" cy="2159.4" r="3.5"/><circle cx="293.0" cy="2159.7" r="3.5"/><circle cx="295.5" cy="2159.3" r="3.5"/><circle cx="297.8" cy="2159.6" r="3.5"/><circle cx="300.2" cy="2159.5" r="3.5"/><circle cx="302.9" cy="2159.6" r="3.5"/><circle cx="305.1" cy="2159.6" r="3.5"/><circle cx="307.3" cy="2159.5" r="3.5"/><circle cx="310.0" cy="2159.4" r="3.5"/><circle cx="312.2" cy="2159.8" r="3.5"/><circle cx="314.8" cy="2159.4" r="3.5"/><circle cx="317.3" cy="2159.8" r="3.5"/><circle cx="319.3" cy="2159.3" r="3.5"/>
<circle cx="282.7" cy="2165.0" r="3.5"/><circle cx="285.3" cy="2165.0" r="3.5"/><circle cx="288.6" cy="2164.7" r="3.5"/><circle cx="290.6" cy="2165.3" r="3.5"/><circle cx="294.0" cy="2164.7" r="3.5"/><circle cx="284.1" cy="2168.1" r="3.5"/><circle cx="287.0" cy="2168.0" r="3.5"/><circle cx="289.4" cy="2168.1" r="3.5"/><circle cx="291.7" cy="2167.6" r="3.5"/><circle cx="295.6" cy="2168.4" r="3.5"/><circle cx="280.3" cy="2171.6" r="3.5"/><circle cx="282.9" cy="2171.7" r="3.5"/><circle cx="286.1" cy="2171.0" r="3.5"/><circle cx="288.1" cy="2170.4" r="3.5"/><circle cx="291.5" cy="2170.4" r="3.5"/><circle cx="294.0" cy="2171.7" r="3.5"/><circle cx="296.3" cy="2170.6" r="3.5"/><circle cx="282.4" cy="2174.9" r="3.5"/><circle cx="284.8" cy="2174.3" r="3.5"/><circle cx="286.9" cy="2174.1" r="3.5"/><circle cx="289.3" cy="2174.5" r="3.5"/><circle cx="292.2" cy="2173.9" r="3.5"/><circle cx="294.3" cy="2174.5" r="3.5"/><circle cx="297.2" cy="2174.3" r="3.5"/><circle cx="280.4" cy="2178.0" r="3.5"/><circle cx="283.8" cy="2176.8" r="3.5"/><circle cx="285.4" cy="2177.2" r="3.5"/><circle cx="289.1" cy="2177.9" r="3.5"/><circle cx="290.8" cy="2177.1" r="3.5"/><circle cx="293.8" cy="2178.0" r="3.5"/><circle cx="296.8" cy="2177.3" r="3.5"/><circle cx="282.4" cy="2180.9" r="3.5"/><circle cx="284.5" cy="2181.4" r="3.5"/><circle cx="286.7" cy="2181.0" r="3.5"/><circle cx="289.1" cy="2180.2" r="3.5"/><circle cx="292.9" cy="2180.3" r="3.5"/><circle cx="295.3" cy="2180.8" r="3.5"/><circle cx="283.7" cy="2183.7" r="3.5"/><circle cx="285.6" cy="2183.6" r="3.5"/><circle cx="288.9" cy="2184.0" r="3.5"/><circle cx="291.6" cy="2184.4" r="3.5"/><circle cx="293.1" cy="2184.0" r="3.5"/><circle cx="283.9" cy="2186.4" r="3.5"/><circle cx="286.5" cy="2187.6" r="3.5"/><circle cx="290.1" cy="2187.5" r="3.5"/><circle cx="292.1" cy="2187.2" r="3.5"/><circle cx="295.3" cy="2186.9" r="3.5"/><circle cx="285.9" cy="2189.9" r="3.5"/><circle cx="287.8" cy="2190.0" r="3.5"/><circle cx="291.5" cy="2190.4" r="3.5"/><circle cx="289.0" cy="2193.4" r="3.5"/><circle cx="288.1" cy="2197.1" r="3.5"/><circle cx="288.9" cy="2199.2" r="3.5"/><circle cx="288.6" cy="2202.5" r="3.5"/><circle cx="287.9" cy="2206.8" r="3.5"/><circle cx="287.8" cy="2209.1" r="3.5"/><circle cx="289.1" cy="2212.6" r="3.5"/><circle cx="287.9" cy="2215.4" r="3.5"/><circle cx="288.0" cy="2219.4" r="3.5"/><circle cx="287.8" cy="2222.9" r="3.5"/><circle cx="286.9" cy="2226.1" r="3.5"/><circle cx="290.3" cy="2225.2" r="3.5"/><circle cx="285.5" cy="2228.6" r="3.5"/><circle cx="287.8" cy="2228.9" r="3.5"/><circle cx="290.4" cy="2228.0" r="3.5"/><circle cx="287.8" cy="2231.6" r="3.5"/><circle cx="289.8" cy="2231.8" r="3.5"/><circle cx="285.5" cy="2234.5" r="3.5"/><circle cx="289.0" cy="2235.7" r="3.5"/><circle cx="291.7" cy="2234.5" r="3.5"/><circle cx="286.7" cy="2238.4" r="3.5"/><circle cx="290.4" cy="2238.3" r="3.5"/><circle cx="286.1" cy="2241.7" r="3.5"/><circle cx="288.1" cy="2241.5" r="3.5"/><circle cx="290.7" cy="2241.1" r="3.5"/><circle cx="286.5" cy="2244.4" r="3.5"/><circle cx="290.4" cy="2244.6" r="3.5"/><circle cx="286.0" cy="2248.1" r="3.5"/><circle cx="289.0" cy="2247.7" r="3.5"/><circle cx="290.7" cy="2247.6" r="3.5"/><circle cx="286.8" cy="2251.6" r="3.5"/><circle cx="290.3" cy="2250.8" r="3.5"/><circle cx="285.6" cy="2254.3" r="3.5"/><circle cx="288.5" cy="2254.4" r="3.5"/><circle cx="290.6" cy="2253.6" r="3.5"/><circle cx="288.0" cy="2256.9" r="3.5"/><circle cx="288.5" cy="2260.1" r="3.5"/><circle cx="287.8" cy="2264.1" r="3.5"/><circle cx="288.1" cy="2267.5" r="3.5"/><circle cx="288.4" cy="2270.8" r="3.5"/><circle cx="287.9" cy="2273.5" r="3.5"/><circle cx="288.8" cy="2276.1" r="3.5"/><circle cx="289.0" cy="2279.4" r="3.5"/><circle cx="288.8" cy="2283.8" r="3.5"/><circle cx="288.9" cy="2286.0" r="3.5"/><circle cx="287.8" cy="2289.5" r="3.5"/><circle cx="289.0" cy="2292.4" r="3.5"/>
<circle cx="362.1" cy="2159.4" r="3.5"/><circle cx="364.5" cy="2159.3" r="3.5"/><circle cx="366.6" cy="2159.8" r="3.5"/><circle cx="369.3" cy="2159.8" r="3.5"/><circle cx="371.7" cy="2159.7" r="3.5"/><circle cx="374.0" cy="2159.4" r="3.5"/><circle cx="376.3" cy="2159.4" r="3.5"/><circle cx="378.8" cy="2159.7" r="3.5"/><circle cx="381.0" cy="2159.3" r="3.5"/><circle cx="383.8" cy="2159.8" r="3.5"/><circle cx="385.9" cy="2159.6" r="3.5"/><circle cx="388.5" cy="2159.6" r="3.5"/><circle cx="390.6" cy="2159.5" r="3.5"/><circle cx="393.0" cy="2159.3" r="3.5"/><circle cx="395.6" cy="2159.6" r="3.5"/><circle cx="397.9" cy="2159.3" r="3.5"/><circle cx="400.2" cy="2159.4" r="3.5"/><circle cx="402.5" cy="2159.5" r="3.5"/><circle cx="405.3" cy="2159.5" r="3.5"/><circle cx="407.4" cy="2159.7" r="3.5"/><circle cx="409.7" cy="2159.3" r="3.5"/><circle cx="412.3" cy="2159.6" r="3.5"/><circle cx="414.8" cy="2159.6" r="3.5"/><circle cx="417.2" cy="2159.7" r="3.5"/><circle cx="419.3" cy="2159.6" r="3.5"/><circle cx="421.9" cy="2159.4" r="3.5"/><circle cx="424.2" cy="2159.6" r="3.5"/><circle cx="426.9" cy="2159.9" r="3.5"/><circle cx="429.0" cy="2159.7" r="3.5"/>
<circle cx="389.3" cy="2164.1" r="3.5"/><circle cx="392.7" cy="2165.2" r="3.5"/><circle cx="395.0" cy="2165.1" r="3.5"/><circle cx="398.8" cy="2164.4" r="3.5"/><circle cx="401.4" cy="2165.2" r="3.5"/><circle cx="388.3" cy="2168.2" r="3.5"/><circle cx="391.6" cy="2168.0" r="3.5"/><circle cx="394.6" cy="2168.4" r="3.5"/><circle cx="397.5" cy="2168.0" r="3.5"/><circle cx="399.2" cy="2167.5" r="3.5"/><circle cx="402.1" cy="2168.0" r="3.5"/><circle cx="387.5" cy="2170.5" r="3.5"/><circle cx="390.2" cy="2171.4" r="3.5"/><circle cx="392.5" cy="2171.1" r="3.5"/><circle cx="395.0" cy="2171.4" r="3.5"/><circle cx="397.7" cy="2171.8" r="3.5"/><circle cx="401.5" cy="2171.3" r="3.5"/><circle cx="403.6" cy="2171.7" r="3.5"/><circle cx="389.1" cy="2173.8" r="3.5"/><circle cx="391.7" cy="2174.8" r="3.5"/><circle cx="394.3" cy="2174.6" r="3.5"/><circle cx="396.8" cy="2174.9" r="3.5"/><circle cx="400.4" cy="2174.1" r="3.5"/><circle cx="402.9" cy="2174.2" r="3.5"/><circle cx="404.8" cy="2174.0" r="3.5"/><circle cx="386.6" cy="2178.1" r="3.5"/><circle cx="390.5" cy="2176.9" r="3.5"/><circle cx="392.8" cy="2177.4" r="3.5"/><circle cx="395.0" cy="2177.2" r="3.5"/><circle cx="397.9" cy="2177.8" r="3.5"/><circle cx="400.4" cy="2177.0" r="3.5"/><circle cx="403.8" cy="2176.8" r="3.5"/><circle cx="391.5" cy="2180.8" r="3.5"/><circle cx="394.6" cy="2180.3" r="3.5"/><circle cx="396.6" cy="2180.7" r="3.5"/><circle cx="399.4" cy="2180.8" r="3.5"/><circle cx="392.4" cy="2184.1" r="3.5"/><circle cx="395.9" cy="2184.3" r="3.5"/><circle cx="399.0" cy="2183.9" r="3.5"/><circle cx="394.1" cy="2187.6" r="3.5"/><circle cx="397.3" cy="2187.2" r="3.5"/><circle cx="392.5" cy="2190.0" r="3.5"/><circle cx="395.0" cy="2190.7" r="3.5"/><circle cx="397.8" cy="2190.6" r="3.5"/><circle cx="395.6" cy="2194.1" r="3.5"/><circle cx="395.9" cy="2197.3" r="3.5"/><circle cx="395.0" cy="2199.9" r="3.5"/><circle cx="395.6" cy="2202.8" r="3.5"/><circle cx="395.5" cy="2206.1" r="3.5"/><circle cx="392.7" cy="2208.8" r="3.5"/><circle cx="395.4" cy="2209.4" r="3.5"/><circle cx="398.0" cy="2209.3" r="3.5"/><circle cx="394.5" cy="2212.9" r="3.5"/><circle cx="396.9" cy="2212.9" r="3.5"/><circle cx="392.5" cy="2215.5" r="3.5"/><circle cx="394.8" cy="2215.6" r="3.5"/><circle cx="398.4" cy="2216.4" r="3.5"/><circle cx="394.6" cy="2219.1" r="3.5"/><circle cx="397.6" cy="2219.0" r="3.5"/><circle cx="400.2" cy="2219.0" r="3.5"/><circle cx="393.0" cy="2223.0" r="3.5"/><circle cx="395.2" cy="2221.8" r="3.5"/><circle cx="398.5" cy="2222.3" r="3.5"/><circle cx="393.9" cy="2224.8" r="3.5"/><circle cx="396.7" cy="2225.4" r="3.5"/><circle cx="399.6" cy="2226.0" r="3.5"/><circle cx="392.8" cy="2229.0" r="3.5"/><circle cx="396.1" cy="2229.0" r="3.5"/><circle cx="398.3" cy="2229.0" r="3.5"/><circle cx="394.3" cy="2232.1" r="3.5"/><circle cx="397.1" cy="2231.7" r="3.5"/><circle cx="399.9" cy="2232.1" r="3.5"/><circle cx="393.3" cy="2235.5" r="3.5"/><circle cx="396.0" cy="2235.5" r="3.5"/><circle cx="398.7" cy="2235.2" r="3.5"/><circle cx="393.9" cy="2238.0" r="3.5"/><circle cx="397.2" cy="2238.8" r="3.5"/><circle cx="399.8" cy="2237.8" r="3.5"/><circle cx="390.4" cy="2241.5" r="3.5"/><circle cx="392.7" cy="2240.8" r="3.5"/><circle cx="395.5" cy="2241.8" r="3.5"/><circle cx="398.2" cy="2241.3" r="3.5"/><circle cx="401.3" cy="2240.8" r="3.5"/><circle cx="391.3" cy="2245.3" r="3.5"/><circle cx="394.4" cy="2244.5" r="3.5"/><circle cx="397.2" cy="2244.8" r="3.5"/><circle cx="399.3" cy="2244.3" r="3.5"/><circle cx="390.4" cy="2247.6" r="3.5"/><circle cx="392.1" cy="2248.3" r="3.5"/><circle cx="395.5" cy="2247.7" r="3.5"/><circle cx="398.3" cy="2248.2" r="3.5"/><circle cx="400.6" cy="2248.1" r="3.5"/><circle cx="391.6" cy="2251.5" r="3.5"/><circle cx="393.8" cy="2251.2" r="3.5"/><circle cx="396.5" cy="2251.2" r="3.5"/><circle cx="399.2" cy="2251.5" r="3.5"/><circle cx="390.4" cy="2254.0" r="3.5"/><circle cx="392.3" cy="2254.9" r="3.5"/><circle cx="395.8" cy="2254.8" r="3.5"/><circle cx="397.6" cy="2254.8" r="3.5"/><circle cx="401.3" cy="2254.0" r="3.5"/><circle cx="391.2" cy="2257.8" r="3.5"/><circle cx="394.5" cy="2257.0" r="3.5"/><circle cx="397.1" cy="2257.0" r="3.5"/><circle cx="400.4" cy="2257.4" r="3.5"/><circle cx="390.5" cy="2261.0" r="3.5"/><circle cx="392.8" cy="2260.3" r="3.5"/><circle cx="395.5" cy="2260.2" r="3.5"/><circle cx="397.8" cy="2261.0" r="3.5"/><circle cx="400.9" cy="2261.0" r="3.5"/><circle cx="390.9" cy="2264.2" r="3.5"/><circle cx="394.4" cy="2263.6" r="3.5"/><circle cx="396.3" cy="2263.7" r="3.5"/><circle cx="399.7" cy="2263.3" r="3.5"/><circle cx="392.3" cy="2266.5" r="3.5"/><circle cx="395.6" cy="2267.6" r="3.5"/><circle cx="397.9" cy="2266.4" r="3.5"/><circle cx="394.4" cy="2270.7" r="3.5"/><circle cx="397.5" cy="2270.4" r="3.5"/><circle cx="399.5" cy="2270.8" r="3.5"/><circle cx="392.2" cy="2273.7" r="3.5"/><circle cx="394.9" cy="2273.3" r="3.5"/><circle cx="398.3" cy="2273.3" r="3.5"/><circle cx="393.6" cy="2276.3" r="3.5"/><circle cx="397.3" cy="2276.6" r="3.5"/><circle cx="399.8" cy="2276.3" r="3.5"/><circle cx="393.0" cy="2279.6" r="3.5"/><circle cx="395.6" cy="2280.5" r="3.5"/><circle cx="399.0" cy="2279.2" r="3.5"/><circle cx="394.5" cy="2283.6" r="3.5"/><circle cx="396.6" cy="2282.9" r="3.5"/><circle cx="392.8" cy="2286.9" r="3.5"/><circle cx="395.4" cy="2286.8" r="3.5"/><circle cx="398.7" cy="2285.8" r="3.5"/><circle cx="396.1" cy="2288.8" r="3.5"/><circle cx="395.0" cy="2292.9" r="3.5"/><circle cx="394.9" cy="2295.7" r="3.5"/><circle cx="395.0" cy="2299.0" r="3.5"/><circle cx="396.0" cy="2302.8" r="3.5"/><circle cx="394.8" cy="2304.9" r="3.5"/><circle cx="396.0" cy="2308.0" r="3.5"/>
</g>
<path d="M216.0 2153.7H460.2" stroke="#8a8a8a" stroke-width="4.5" stroke-dasharray="4.5 4.5"/>
<path d="M145.0 2153.7H216.0" stroke="#e8432a" stroke-width="3.0" stroke-dasharray="9 5"/>
<path d="M252.9 2195.4H325.3" stroke="#e8432a" stroke-width="3.0" stroke-dasharray="9 5"/>
<path d="M359.4 2208.5H431.8" stroke="#e8432a" stroke-width="3.0" stroke-dasharray="9 5"/>
<path d="M230.8 2153.7H249.3V2177.8H258.1L240.1 2195.4L222.1 2177.8H230.8V2153.7Z" fill="#ff0000"/>
<path d="M336.8 2155.0H355.2V2192.0H364.0L346.0 2209.0L328.0 2192.0H336.8V2155.0Z" fill="#ff0000"/>
<text x="210.7" y="2221.8" font-size="22.0" textLength="50.2" lengthAdjust="spacingAndGlyphs" fill="#ee1111">-0.76</text>
<text x="315.8" y="2237.4" font-size="22.0" textLength="50.2" lengthAdjust="spacingAndGlyphs" fill="#ee1111">-1.09</text>
<text transform="translate(54.3 2240.3) rotate(-90)" text-anchor="middle" font-size="28" textLength="204.5" lengthAdjust="spacingAndGlyphs">Energy (kcal/mol)</text>
<path d="M541.9 2076.1V2405.6H896.0" stroke="#111" stroke-width="1.8" fill="none"/>
<path d="M528.9 2405.6H541.9" stroke="#111" stroke-width="1.8"/>
<path d="M528.9 2076.1H541.9" stroke="#111" stroke-width="1.8"/>
<text x="524.5" y="2084.9" font-size="25.5" text-anchor="end">2</text>
<path d="M528.9 2117.3H541.9" stroke="#111" stroke-width="1.8"/>
<text x="524.5" y="2126.1" font-size="25.5" text-anchor="end">1</text>
<path d="M528.9 2158.5H541.9" stroke="#111" stroke-width="1.8"/>
<text x="524.5" y="2167.3" font-size="25.5" text-anchor="end">0</text>
<path d="M528.9 2199.7H541.9" stroke="#111" stroke-width="1.8"/>
<text x="524.5" y="2208.5" font-size="25.5" text-anchor="end">-1</text>
<path d="M528.9 2240.9H541.9" stroke="#111" stroke-width="1.8"/>
<text x="524.5" y="2249.7" font-size="25.5" text-anchor="end">-2</text>
<path d="M528.9 2282.1H541.9" stroke="#111" stroke-width="1.8"/>
<text x="524.5" y="2290.9" font-size="25.5" text-anchor="end">-3</text>
<path d="M528.9 2323.3H541.9" stroke="#111" stroke-width="1.8"/>
<text x="524.5" y="2332.1" font-size="25.5" text-anchor="end">-4</text>
<path d="M528.9 2364.5H541.9" stroke="#111" stroke-width="1.8"/>
<text x="524.5" y="2373.3" font-size="25.5" text-anchor="end">-5</text>
<path d="M528.9 2405.7H541.9" stroke="#111" stroke-width="1.8"/>
<text x="524.5" y="2414.5" font-size="25.5" text-anchor="end">-6</text>
<path d="M612.0 2405.6V2419.2" stroke="#111" stroke-width="1.8"/>
<path d="M718.6 2405.6V2419.2" stroke="#111" stroke-width="1.8"/>
<path d="M825.0 2405.6V2419.2" stroke="#111" stroke-width="1.8"/>
<text x="612.0" y="2456.5" font-size="23.5" text-anchor="middle">WT</text>
<text x="720.8" y="2456.5" font-size="23.5" text-anchor="middle">Combo</text>
<text x="825.0" y="2456.5" font-size="23.5" text-anchor="middle">mm28</text>
<g fill="#000">
<circle cx="613.1" cy="2145.2" r="3.5"/><circle cx="610.9" cy="2147.7" r="3.5"/><circle cx="612.8" cy="2153.8" r="3.5"/><circle cx="612.4" cy="2157.4" r="3.5"/><circle cx="612.3" cy="2162.7" r="3.5"/><circle cx="609.6" cy="2166.3" r="3.5"/><circle cx="614.4" cy="2166.8" r="3.5"/><circle cx="607.3" cy="2172.9" r="3.5"/><circle cx="613.1" cy="2171.8" r="3.5"/><circle cx="617.1" cy="2171.1" r="3.5"/><circle cx="603.1" cy="2175.1" r="3.5"/><circle cx="609.3" cy="2175.8" r="3.5"/><circle cx="614.3" cy="2177.2" r="3.5"/><circle cx="619.9" cy="2176.4" r="3.5"/><circle cx="601.0" cy="2179.7" r="3.5"/><circle cx="606.4" cy="2180.0" r="3.5"/><circle cx="612.0" cy="2182.1" r="3.5"/><circle cx="617.6" cy="2180.1" r="3.5"/><circle cx="623.3" cy="2181.6" r="3.5"/><circle cx="604.8" cy="2186.5" r="3.5"/><circle cx="610.0" cy="2186.2" r="3.5"/><circle cx="614.2" cy="2186.6" r="3.5"/><circle cx="620.9" cy="2184.7" r="3.5"/><circle cx="625.6" cy="2186.0" r="3.5"/><circle cx="596.3" cy="2190.2" r="3.5"/><circle cx="601.6" cy="2191.1" r="3.5"/><circle cx="606.8" cy="2190.9" r="3.5"/><circle cx="611.6" cy="2191.0" r="3.5"/><circle cx="618.2" cy="2190.0" r="3.5"/><circle cx="622.6" cy="2191.1" r="3.5"/><circle cx="628.1" cy="2190.0" r="3.5"/><circle cx="593.1" cy="2194.3" r="3.5"/><circle cx="599.5" cy="2193.9" r="3.5"/><circle cx="605.2" cy="2194.1" r="3.5"/><circle cx="610.4" cy="2194.2" r="3.5"/><circle cx="615.7" cy="2195.2" r="3.5"/><circle cx="619.8" cy="2194.7" r="3.5"/><circle cx="625.4" cy="2194.9" r="3.5"/><circle cx="629.7" cy="2194.0" r="3.5"/><circle cx="591.2" cy="2200.3" r="3.5"/><circle cx="596.7" cy="2198.3" r="3.5"/><circle cx="602.4" cy="2199.8" r="3.5"/><circle cx="607.8" cy="2198.5" r="3.5"/><circle cx="612.6" cy="2198.2" r="3.5"/><circle cx="617.6" cy="2198.7" r="3.5"/><circle cx="621.7" cy="2200.2" r="3.5"/><circle cx="626.7" cy="2199.3" r="3.5"/><circle cx="633.6" cy="2198.7" r="3.5"/><circle cx="587.9" cy="2204.8" r="3.5"/><circle cx="593.6" cy="2204.4" r="3.5"/><circle cx="597.9" cy="2203.5" r="3.5"/><circle cx="603.4" cy="2204.3" r="3.5"/><circle cx="608.4" cy="2205.0" r="3.5"/><circle cx="613.5" cy="2204.4" r="3.5"/><circle cx="618.7" cy="2203.3" r="3.5"/><circle cx="625.8" cy="2203.1" r="3.5"/><circle cx="629.4" cy="2204.3" r="3.5"/><circle cx="635.1" cy="2202.8" r="3.5"/><circle cx="641.8" cy="2203.0" r="3.5"/><circle cx="579.7" cy="2208.1" r="3.5"/><circle cx="586.3" cy="2209.1" r="3.5"/><circle cx="590.3" cy="2208.1" r="3.5"/><circle cx="595.3" cy="2208.4" r="3.5"/><circle cx="602.2" cy="2209.1" r="3.5"/><circle cx="607.8" cy="2209.1" r="3.5"/><circle cx="612.9" cy="2209.0" r="3.5"/><circle cx="617.1" cy="2207.8" r="3.5"/><circle cx="622.8" cy="2208.0" r="3.5"/><circle cx="626.6" cy="2208.4" r="3.5"/><circle cx="633.7" cy="2207.6" r="3.5"/><circle cx="638.2" cy="2208.2" r="3.5"/><circle cx="643.2" cy="2207.6" r="3.5"/><circle cx="584.5" cy="2212.5" r="3.5"/><circle cx="588.9" cy="2212.9" r="3.5"/><circle cx="592.6" cy="2213.2" r="3.5"/><circle cx="598.1" cy="2212.0" r="3.5"/><circle cx="603.1" cy="2212.3" r="3.5"/><circle cx="608.4" cy="2213.4" r="3.5"/><circle cx="614.6" cy="2214.2" r="3.5"/><circle cx="620.8" cy="2214.3" r="3.5"/><circle cx="624.4" cy="2212.9" r="3.5"/><circle cx="629.6" cy="2213.3" r="3.5"/><circle cx="635.7" cy="2213.8" r="3.5"/><circle cx="641.1" cy="2212.5" r="3.5"/><circle cx="645.6" cy="2213.1" r="3.5"/><circle cx="579.6" cy="2216.6" r="3.5"/><circle cx="585.8" cy="2216.7" r="3.5"/><circle cx="591.7" cy="2217.1" r="3.5"/><circle cx="595.4" cy="2216.9" r="3.5"/><circle cx="601.0" cy="2217.0" r="3.5"/><circle cx="606.8" cy="2217.6" r="3.5"/><circle cx="611.5" cy="2218.0" r="3.5"/><circle cx="616.5" cy="2218.7" r="3.5"/><circle cx="623.5" cy="2218.2" r="3.5"/><circle cx="627.4" cy="2217.7" r="3.5"/><circle cx="633.0" cy="2216.6" r="3.5"/><circle cx="637.8" cy="2217.7" r="3.5"/><circle cx="642.4" cy="2216.7" r="3.5"/><circle cx="589.3" cy="2222.0" r="3.5"/><circle cx="593.8" cy="2223.3" r="3.5"/><circle cx="599.3" cy="2221.8" r="3.5"/><circle cx="605.4" cy="2222.0" r="3.5"/><circle cx="608.2" cy="2222.7" r="3.5"/><circle cx="613.6" cy="2221.8" r="3.5"/><circle cx="620.6" cy="2222.7" r="3.5"/><circle cx="623.8" cy="2222.2" r="3.5"/><circle cx="630.0" cy="2222.2" r="3.5"/><circle cx="634.7" cy="2222.5" r="3.5"/><circle cx="639.6" cy="2221.8" r="3.5"/><circle cx="590.9" cy="2227.9" r="3.5"/><circle cx="595.4" cy="2227.5" r="3.5"/><circle cx="600.9" cy="2227.1" r="3.5"/><circle cx="606.5" cy="2226.8" r="3.5"/><circle cx="612.6" cy="2226.6" r="3.5"/><circle cx="616.3" cy="2226.0" r="3.5"/><circle cx="621.4" cy="2227.7" r="3.5"/><circle cx="627.9" cy="2228.0" r="3.5"/><circle cx="633.3" cy="2225.7" r="3.5"/><circle cx="599.4" cy="2232.1" r="3.5"/><circle cx="604.7" cy="2231.5" r="3.5"/><circle cx="609.1" cy="2231.4" r="3.5"/><circle cx="615.3" cy="2230.9" r="3.5"/><circle cx="619.9" cy="2231.4" r="3.5"/><circle cx="626.1" cy="2232.2" r="3.5"/><circle cx="631.2" cy="2232.3" r="3.5"/><circle cx="601.1" cy="2235.4" r="3.5"/><circle cx="606.8" cy="2235.5" r="3.5"/><circle cx="611.8" cy="2236.5" r="3.5"/><circle cx="618.2" cy="2236.3" r="3.5"/><circle cx="623.2" cy="2235.1" r="3.5"/><circle cx="609.1" cy="2241.9" r="3.5"/><circle cx="613.8" cy="2240.5" r="3.5"/><circle cx="618.8" cy="2239.7" r="3.5"/><circle cx="607.7" cy="2246.5" r="3.5"/><circle cx="612.4" cy="2244.4" r="3.5"/><circle cx="616.7" cy="2244.6" r="3.5"/>
<circle cx="719.0" cy="2212.5" r="3.5"/><circle cx="718.5" cy="2216.8" r="3.5"/><circle cx="717.7" cy="2221.6" r="3.5"/><circle cx="719.7" cy="2226.8" r="3.5"/><circle cx="717.6" cy="2230.9" r="3.5"/><circle cx="719.1" cy="2235.0" r="3.5"/><circle cx="719.5" cy="2240.2" r="3.5"/><circle cx="719.1" cy="2244.7" r="3.5"/><circle cx="718.8" cy="2248.8" r="3.5"/><circle cx="722.9" cy="2249.9" r="3.5"/><circle cx="715.1" cy="2254.4" r="3.5"/><circle cx="721.1" cy="2254.9" r="3.5"/><circle cx="718.5" cy="2260.2" r="3.5"/><circle cx="724.6" cy="2259.4" r="3.5"/><circle cx="716.7" cy="2263.1" r="3.5"/><circle cx="721.1" cy="2264.2" r="3.5"/><circle cx="706.6" cy="2268.4" r="3.5"/><circle cx="714.1" cy="2268.8" r="3.5"/><circle cx="717.4" cy="2269.5" r="3.5"/><circle cx="724.3" cy="2269.4" r="3.5"/><circle cx="728.4" cy="2269.2" r="3.5"/><circle cx="709.8" cy="2273.7" r="3.5"/><circle cx="715.2" cy="2273.9" r="3.5"/><circle cx="721.6" cy="2273.0" r="3.5"/><circle cx="726.9" cy="2273.1" r="3.5"/><circle cx="733.2" cy="2272.1" r="3.5"/><circle cx="702.4" cy="2278.7" r="3.5"/><circle cx="708.4" cy="2277.8" r="3.5"/><circle cx="712.8" cy="2277.3" r="3.5"/><circle cx="717.5" cy="2276.9" r="3.5"/><circle cx="723.2" cy="2278.5" r="3.5"/><circle cx="729.2" cy="2278.3" r="3.5"/><circle cx="735.7" cy="2277.0" r="3.5"/><circle cx="704.8" cy="2282.5" r="3.5"/><circle cx="709.3" cy="2282.7" r="3.5"/><circle cx="721.4" cy="2282.3" r="3.5"/><circle cx="727.6" cy="2282.1" r="3.5"/><circle cx="732.1" cy="2282.7" r="3.5"/><circle cx="697.8" cy="2286.8" r="3.5"/><circle cx="703.1" cy="2287.6" r="3.5"/><circle cx="708.6" cy="2286.3" r="3.5"/><circle cx="712.9" cy="2287.3" r="3.5"/><circle cx="719.3" cy="2287.6" r="3.5"/><circle cx="723.4" cy="2287.2" r="3.5"/><circle cx="728.9" cy="2288.4" r="3.5"/><circle cx="735.6" cy="2287.0" r="3.5"/><circle cx="739.8" cy="2286.2" r="3.5"/><circle cx="698.9" cy="2291.8" r="3.5"/><circle cx="706.0" cy="2293.0" r="3.5"/><circle cx="710.8" cy="2293.0" r="3.5"/><circle cx="714.9" cy="2291.3" r="3.5"/><circle cx="721.7" cy="2291.7" r="3.5"/><circle cx="727.4" cy="2291.3" r="3.5"/><circle cx="732.4" cy="2291.7" r="3.5"/><circle cx="737.1" cy="2292.9" r="3.5"/><circle cx="692.1" cy="2297.7" r="3.5"/><circle cx="697.6" cy="2297.5" r="3.5"/><circle cx="708.9" cy="2296.2" r="3.5"/><circle cx="713.6" cy="2296.3" r="3.5"/><circle cx="717.8" cy="2297.8" r="3.5"/><circle cx="723.9" cy="2297.6" r="3.5"/><circle cx="730.5" cy="2295.8" r="3.5"/><circle cx="734.4" cy="2296.3" r="3.5"/><circle cx="746.2" cy="2296.5" r="3.5"/><circle cx="693.7" cy="2302.2" r="3.5"/><circle cx="699.2" cy="2301.7" r="3.5"/><circle cx="704.7" cy="2302.4" r="3.5"/><circle cx="709.6" cy="2300.7" r="3.5"/><circle cx="715.7" cy="2300.8" r="3.5"/><circle cx="720.7" cy="2300.7" r="3.5"/><circle cx="726.3" cy="2301.1" r="3.5"/><circle cx="731.0" cy="2300.5" r="3.5"/><circle cx="737.3" cy="2302.0" r="3.5"/><circle cx="743.0" cy="2302.2" r="3.5"/><circle cx="748.9" cy="2301.6" r="3.5"/><circle cx="692.8" cy="2305.8" r="3.5"/><circle cx="697.3" cy="2305.6" r="3.5"/><circle cx="702.6" cy="2306.3" r="3.5"/><circle cx="709.0" cy="2307.2" r="3.5"/><circle cx="713.1" cy="2305.8" r="3.5"/><circle cx="717.5" cy="2305.1" r="3.5"/><circle cx="730.4" cy="2306.5" r="3.5"/><circle cx="739.7" cy="2306.8" r="3.5"/><circle cx="744.7" cy="2305.7" r="3.5"/><circle cx="693.5" cy="2311.2" r="3.5"/><circle cx="700.8" cy="2311.1" r="3.5"/><circle cx="706.1" cy="2310.1" r="3.5"/><circle cx="710.6" cy="2309.9" r="3.5"/><circle cx="714.8" cy="2310.0" r="3.5"/><circle cx="726.8" cy="2311.2" r="3.5"/><circle cx="731.2" cy="2310.7" r="3.5"/><circle cx="736.6" cy="2309.8" r="3.5"/><circle cx="741.8" cy="2310.1" r="3.5"/><circle cx="748.6" cy="2311.6" r="3.5"/><circle cx="697.0" cy="2316.5" r="3.5"/><circle cx="701.5" cy="2316.2" r="3.5"/><circle cx="707.1" cy="2315.2" r="3.5"/><circle cx="713.0" cy="2315.3" r="3.5"/><circle cx="719.3" cy="2316.2" r="3.5"/><circle cx="723.9" cy="2314.9" r="3.5"/><circle cx="730.6" cy="2314.8" r="3.5"/><circle cx="735.3" cy="2315.8" r="3.5"/><circle cx="740.3" cy="2314.7" r="3.5"/><circle cx="745.8" cy="2315.8" r="3.5"/><circle cx="694.9" cy="2320.6" r="3.5"/><circle cx="698.6" cy="2320.8" r="3.5"/><circle cx="705.9" cy="2320.4" r="3.5"/><circle cx="709.8" cy="2319.2" r="3.5"/><circle cx="716.0" cy="2319.4" r="3.5"/><circle cx="732.0" cy="2319.7" r="3.5"/><circle cx="738.3" cy="2320.6" r="3.5"/><circle cx="743.9" cy="2320.3" r="3.5"/><circle cx="748.1" cy="2320.7" r="3.5"/><circle cx="692.0" cy="2324.0" r="3.5"/><circle cx="696.5" cy="2325.8" r="3.5"/><circle cx="702.0" cy="2325.0" r="3.5"/><circle cx="707.9" cy="2325.9" r="3.5"/><circle cx="713.9" cy="2325.3" r="3.5"/><circle cx="718.5" cy="2324.8" r="3.5"/><circle cx="723.9" cy="2324.3" r="3.5"/><circle cx="729.3" cy="2324.1" r="3.5"/><circle cx="735.0" cy="2324.4" r="3.5"/><circle cx="740.5" cy="2325.7" r="3.5"/><circle cx="745.9" cy="2325.2" r="3.5"/><circle cx="694.7" cy="2329.1" r="3.5"/><circle cx="700.5" cy="2329.1" r="3.5"/><circle cx="706.0" cy="2328.8" r="3.5"/><circle cx="710.1" cy="2329.0" r="3.5"/><circle cx="715.5" cy="2329.4" r="3.5"/><circle cx="722.1" cy="2328.4" r="3.5"/><circle cx="725.8" cy="2328.7" r="3.5"/><circle cx="731.8" cy="2328.5" r="3.5"/><circle cx="738.5" cy="2329.9" r="3.5"/><circle cx="743.6" cy="2330.6" r="3.5"/><circle cx="696.5" cy="2335.4" r="3.5"/><circle cx="708.3" cy="2335.2" r="3.5"/><circle cx="713.7" cy="2334.3" r="3.5"/><circle cx="717.9" cy="2333.2" r="3.5"/><circle cx="723.1" cy="2334.6" r="3.5"/><circle cx="729.2" cy="2335.4" r="3.5"/><circle cx="734.7" cy="2334.0" r="3.5"/><circle cx="739.5" cy="2334.3" r="3.5"/><circle cx="698.7" cy="2340.0" r="3.5"/><circle cx="704.0" cy="2339.5" r="3.5"/><circle cx="710.5" cy="2338.0" r="3.5"/><circle cx="715.9" cy="2339.6" r="3.5"/><circle cx="721.8" cy="2339.5" r="3.5"/><circle cx="725.6" cy="2338.9" r="3.5"/><circle cx="731.2" cy="2338.5" r="3.5"/><circle cx="737.8" cy="2339.3" r="3.5"/><circle cx="697.1" cy="2342.7" r="3.5"/><circle cx="702.2" cy="2342.8" r="3.5"/><circle cx="708.2" cy="2343.6" r="3.5"/><circle cx="718.2" cy="2344.7" r="3.5"/><circle cx="723.1" cy="2344.3" r="3.5"/><circle cx="730.5" cy="2344.0" r="3.5"/><circle cx="735.8" cy="2343.7" r="3.5"/><circle cx="704.7" cy="2349.2" r="3.5"/><circle cx="710.9" cy="2349.6" r="3.5"/><circle cx="716.8" cy="2347.3" r="3.5"/><circle cx="721.6" cy="2348.2" r="3.5"/><circle cx="727.4" cy="2347.6" r="3.5"/><circle cx="732.3" cy="2349.5" r="3.5"/><circle cx="737.9" cy="2347.9" r="3.5"/><circle cx="712.6" cy="2353.8" r="3.5"/><circle cx="718.4" cy="2354.0" r="3.5"/><circle cx="724.2" cy="2352.0" r="3.5"/><circle cx="728.7" cy="2351.9" r="3.5"/><circle cx="710.5" cy="2357.2" r="3.5"/><circle cx="714.8" cy="2357.8" r="3.5"/><circle cx="721.1" cy="2358.8" r="3.5"/><circle cx="726.5" cy="2357.7" r="3.5"/><circle cx="714.3" cy="2362.6" r="3.5"/><circle cx="718.5" cy="2362.3" r="3.5"/><circle cx="716.3" cy="2366.3" r="3.5"/><circle cx="720.4" cy="2366.8" r="3.5"/><circle cx="717.5" cy="2372.4" r="3.5"/><circle cx="719.7" cy="2376.9" r="3.5"/>
<circle cx="825.2" cy="2157.9" r="3.5"/><circle cx="824.9" cy="2163.2" r="3.5"/><circle cx="824.8" cy="2167.5" r="3.5"/><circle cx="824.3" cy="2173.5" r="3.5"/><circle cx="826.1" cy="2178.5" r="3.5"/><circle cx="825.3" cy="2181.4" r="3.5"/><circle cx="824.5" cy="2188.1" r="3.5"/><circle cx="826.1" cy="2192.2" r="3.5"/><circle cx="819.8" cy="2196.3" r="3.5"/><circle cx="824.7" cy="2197.7" r="3.5"/><circle cx="831.0" cy="2197.0" r="3.5"/><circle cx="822.1" cy="2202.8" r="3.5"/><circle cx="827.6" cy="2201.7" r="3.5"/><circle cx="825.4" cy="2207.6" r="3.5"/><circle cx="830.8" cy="2206.8" r="3.5"/><circle cx="823.3" cy="2212.4" r="3.5"/><circle cx="828.1" cy="2211.9" r="3.5"/><circle cx="833.1" cy="2212.0" r="3.5"/><circle cx="818.6" cy="2216.5" r="3.5"/><circle cx="824.8" cy="2216.1" r="3.5"/><circle cx="822.0" cy="2221.9" r="3.5"/><circle cx="827.6" cy="2221.3" r="3.5"/><circle cx="834.4" cy="2221.3" r="3.5"/><circle cx="813.6" cy="2224.6" r="3.5"/><circle cx="818.5" cy="2226.8" r="3.5"/><circle cx="825.3" cy="2226.3" r="3.5"/><circle cx="831.4" cy="2225.3" r="3.5"/><circle cx="836.4" cy="2225.5" r="3.5"/><circle cx="821.2" cy="2229.3" r="3.5"/><circle cx="827.8" cy="2231.0" r="3.5"/><circle cx="833.0" cy="2230.4" r="3.5"/><circle cx="830.8" cy="2234.6" r="3.5"/><circle cx="835.4" cy="2234.8" r="3.5"/><circle cx="816.8" cy="2240.6" r="3.5"/><circle cx="821.7" cy="2240.1" r="3.5"/><circle cx="827.2" cy="2240.9" r="3.5"/><circle cx="838.4" cy="2240.8" r="3.5"/><circle cx="813.1" cy="2245.1" r="3.5"/><circle cx="820.3" cy="2245.1" r="3.5"/><circle cx="824.2" cy="2244.7" r="3.5"/><circle cx="830.3" cy="2244.1" r="3.5"/><circle cx="836.7" cy="2245.9" r="3.5"/><circle cx="822.9" cy="2248.8" r="3.5"/><circle cx="828.3" cy="2248.5" r="3.5"/><circle cx="834.1" cy="2249.0" r="3.5"/><circle cx="838.7" cy="2250.5" r="3.5"/><circle cx="809.1" cy="2254.0" r="3.5"/><circle cx="813.7" cy="2253.6" r="3.5"/><circle cx="825.7" cy="2255.4" r="3.5"/><circle cx="831.7" cy="2253.5" r="3.5"/><circle cx="836.2" cy="2253.5" r="3.5"/><circle cx="841.9" cy="2255.2" r="3.5"/><circle cx="809.9" cy="2260.2" r="3.5"/><circle cx="816.4" cy="2258.4" r="3.5"/><circle cx="822.1" cy="2258.6" r="3.5"/><circle cx="827.4" cy="2260.0" r="3.5"/><circle cx="832.7" cy="2259.6" r="3.5"/><circle cx="839.7" cy="2259.6" r="3.5"/><circle cx="814.8" cy="2263.0" r="3.5"/><circle cx="818.4" cy="2264.8" r="3.5"/><circle cx="826.0" cy="2265.2" r="3.5"/><circle cx="835.8" cy="2265.2" r="3.5"/><circle cx="841.1" cy="2264.2" r="3.5"/><circle cx="809.8" cy="2269.2" r="3.5"/><circle cx="817.5" cy="2269.5" r="3.5"/><circle cx="822.8" cy="2270.1" r="3.5"/><circle cx="827.8" cy="2268.4" r="3.5"/><circle cx="833.7" cy="2270.0" r="3.5"/><circle cx="839.8" cy="2269.9" r="3.5"/><circle cx="845.4" cy="2268.1" r="3.5"/><circle cx="808.4" cy="2274.6" r="3.5"/><circle cx="812.8" cy="2274.7" r="3.5"/><circle cx="820.1" cy="2273.1" r="3.5"/><circle cx="824.0" cy="2272.9" r="3.5"/><circle cx="830.4" cy="2274.1" r="3.5"/><circle cx="835.8" cy="2274.7" r="3.5"/><circle cx="841.4" cy="2272.9" r="3.5"/><circle cx="809.9" cy="2278.9" r="3.5"/><circle cx="816.4" cy="2279.1" r="3.5"/><circle cx="821.6" cy="2278.6" r="3.5"/><circle cx="834.2" cy="2279.0" r="3.5"/><circle cx="839.4" cy="2278.8" r="3.5"/><circle cx="844.7" cy="2278.1" r="3.5"/><circle cx="802.0" cy="2283.2" r="3.5"/><circle cx="807.3" cy="2282.7" r="3.5"/><circle cx="813.5" cy="2283.5" r="3.5"/><circle cx="818.8" cy="2283.4" r="3.5"/><circle cx="824.3" cy="2282.4" r="3.5"/><circle cx="841.0" cy="2282.5" r="3.5"/><circle cx="846.9" cy="2283.1" r="3.5"/><circle cx="799.6" cy="2288.6" r="3.5"/><circle cx="804.7" cy="2286.9" r="3.5"/><circle cx="810.7" cy="2287.7" r="3.5"/><circle cx="816.0" cy="2287.5" r="3.5"/><circle cx="821.6" cy="2288.1" r="3.5"/><circle cx="827.3" cy="2287.9" r="3.5"/><circle cx="834.2" cy="2288.7" r="3.5"/><circle cx="845.3" cy="2287.6" r="3.5"/><circle cx="850.3" cy="2288.3" r="3.5"/><circle cx="796.0" cy="2291.7" r="3.5"/><circle cx="812.8" cy="2293.7" r="3.5"/><circle cx="819.3" cy="2293.2" r="3.5"/><circle cx="824.3" cy="2293.7" r="3.5"/><circle cx="831.8" cy="2292.7" r="3.5"/><circle cx="848.3" cy="2292.1" r="3.5"/><circle cx="853.8" cy="2292.0" r="3.5"/><circle cx="800.4" cy="2298.1" r="3.5"/><circle cx="806.1" cy="2296.6" r="3.5"/><circle cx="812.0" cy="2297.8" r="3.5"/><circle cx="817.8" cy="2298.2" r="3.5"/><circle cx="823.2" cy="2298.7" r="3.5"/><circle cx="828.6" cy="2297.7" r="3.5"/><circle cx="832.9" cy="2297.1" r="3.5"/><circle cx="839.3" cy="2297.5" r="3.5"/><circle cx="850.9" cy="2297.0" r="3.5"/><circle cx="855.3" cy="2298.8" r="3.5"/><circle cx="796.9" cy="2301.7" r="3.5"/><circle cx="802.3" cy="2303.6" r="3.5"/><circle cx="808.6" cy="2303.4" r="3.5"/><circle cx="813.4" cy="2302.3" r="3.5"/><circle cx="819.1" cy="2302.9" r="3.5"/><circle cx="825.5" cy="2302.0" r="3.5"/><circle cx="829.8" cy="2303.2" r="3.5"/><circle cx="837.0" cy="2303.6" r="3.5"/><circle cx="840.7" cy="2302.2" r="3.5"/><circle cx="853.6" cy="2302.4" r="3.5"/><circle cx="811.2" cy="2306.3" r="3.5"/><circle cx="815.9" cy="2307.8" r="3.5"/><circle cx="828.7" cy="2306.2" r="3.5"/><circle cx="832.8" cy="2306.1" r="3.5"/><circle cx="840.0" cy="2308.3" r="3.5"/><circle cx="845.0" cy="2307.7" r="3.5"/><circle cx="850.0" cy="2306.7" r="3.5"/><circle cx="802.7" cy="2311.0" r="3.5"/><circle cx="807.6" cy="2311.5" r="3.5"/><circle cx="814.2" cy="2312.5" r="3.5"/><circle cx="820.4" cy="2310.9" r="3.5"/><circle cx="830.9" cy="2311.6" r="3.5"/><circle cx="837.1" cy="2311.4" r="3.5"/><circle cx="842.5" cy="2311.5" r="3.5"/><circle cx="847.4" cy="2311.3" r="3.5"/><circle cx="852.5" cy="2311.1" r="3.5"/><circle cx="794.4" cy="2317.3" r="3.5"/><circle cx="800.5" cy="2318.0" r="3.5"/><circle cx="810.5" cy="2315.9" r="3.5"/><circle cx="817.0" cy="2317.2" r="3.5"/><circle cx="823.3" cy="2317.2" r="3.5"/><circle cx="833.7" cy="2315.9" r="3.5"/><circle cx="839.4" cy="2316.3" r="3.5"/><circle cx="843.7" cy="2316.8" r="3.5"/><circle cx="850.2" cy="2316.1" r="3.5"/><circle cx="855.5" cy="2317.3" r="3.5"/><circle cx="790.7" cy="2321.3" r="3.5"/><circle cx="796.1" cy="2321.9" r="3.5"/><circle cx="802.2" cy="2320.5" r="3.5"/><circle cx="812.9" cy="2321.2" r="3.5"/><circle cx="820.4" cy="2322.3" r="3.5"/><circle cx="825.8" cy="2320.6" r="3.5"/><circle cx="829.7" cy="2321.9" r="3.5"/><circle cx="836.5" cy="2322.8" r="3.5"/><circle cx="842.4" cy="2320.9" r="3.5"/><circle cx="857.6" cy="2322.2" r="3.5"/><circle cx="799.9" cy="2325.9" r="3.5"/><circle cx="806.1" cy="2327.1" r="3.5"/><circle cx="811.6" cy="2325.5" r="3.5"/><circle cx="815.5" cy="2325.3" r="3.5"/><circle cx="822.6" cy="2327.7" r="3.5"/><circle cx="828.1" cy="2326.7" r="3.5"/><circle cx="844.2" cy="2325.5" r="3.5"/><circle cx="856.4" cy="2327.4" r="3.5"/><circle cx="796.3" cy="2331.1" r="3.5"/><circle cx="819.7" cy="2332.2" r="3.5"/><circle cx="825.2" cy="2330.6" r="3.5"/><circle cx="836.2" cy="2331.7" r="3.5"/><circle cx="842.6" cy="2331.2" r="3.5"/><circle cx="847.9" cy="2331.7" r="3.5"/><circle cx="853.9" cy="2332.0" r="3.5"/><circle cx="800.1" cy="2337.0" r="3.5"/><circle cx="805.8" cy="2336.2" r="3.5"/><circle cx="810.1" cy="2335.6" r="3.5"/><circle cx="817.5" cy="2337.3" r="3.5"/><circle cx="823.1" cy="2336.9" r="3.5"/><circle cx="828.3" cy="2337.0" r="3.5"/><circle cx="832.9" cy="2336.6" r="3.5"/><circle cx="838.8" cy="2336.7" r="3.5"/><circle cx="843.7" cy="2336.4" r="3.5"/><circle cx="849.5" cy="2336.9" r="3.5"/><circle cx="797.6" cy="2340.1" r="3.5"/><circle cx="802.2" cy="2339.9" r="3.5"/><circle cx="808.3" cy="2341.7" r="3.5"/><circle cx="813.3" cy="2339.7" r="3.5"/><circle cx="818.8" cy="2341.7" r="3.5"/><circle cx="830.6" cy="2341.0" r="3.5"/><circle cx="837.3" cy="2342.0" r="3.5"/><circle cx="841.6" cy="2341.0" r="3.5"/><circle cx="847.5" cy="2341.7" r="3.5"/><circle cx="852.9" cy="2341.7" r="3.5"/><circle cx="799.0" cy="2346.0" r="3.5"/><circle cx="805.5" cy="2344.8" r="3.5"/><circle cx="810.6" cy="2346.4" r="3.5"/><circle cx="816.9" cy="2346.0" r="3.5"/><circle cx="823.3" cy="2345.9" r="3.5"/><circle cx="826.8" cy="2345.1" r="3.5"/><circle cx="834.5" cy="2346.2" r="3.5"/><circle cx="839.7" cy="2345.0" r="3.5"/><circle cx="843.9" cy="2344.6" r="3.5"/><circle cx="850.2" cy="2346.0" r="3.5"/><circle cx="802.8" cy="2350.3" r="3.5"/><circle cx="808.3" cy="2349.9" r="3.5"/><circle cx="814.5" cy="2350.1" r="3.5"/><circle cx="819.8" cy="2350.4" r="3.5"/><circle cx="824.6" cy="2349.3" r="3.5"/><circle cx="836.8" cy="2351.5" r="3.5"/><circle cx="841.6" cy="2350.8" r="3.5"/><circle cx="811.6" cy="2356.4" r="3.5"/><circle cx="815.4" cy="2354.5" r="3.5"/><circle cx="821.5" cy="2356.4" r="3.5"/><circle cx="828.7" cy="2354.9" r="3.5"/><circle cx="838.1" cy="2355.7" r="3.5"/><circle cx="845.7" cy="2356.1" r="3.5"/><circle cx="808.2" cy="2360.2" r="3.5"/><circle cx="813.2" cy="2360.3" r="3.5"/><circle cx="819.6" cy="2360.2" r="3.5"/><circle cx="824.7" cy="2359.8" r="3.5"/><circle cx="835.3" cy="2359.8" r="3.5"/><circle cx="842.2" cy="2359.1" r="3.5"/><circle cx="816.5" cy="2365.7" r="3.5"/><circle cx="823.2" cy="2365.7" r="3.5"/><circle cx="827.8" cy="2365.0" r="3.5"/><circle cx="834.3" cy="2364.2" r="3.5"/><circle cx="818.2" cy="2370.5" r="3.5"/><circle cx="823.9" cy="2370.5" r="3.5"/>
</g>
<path d="M647.6 2211.9H900.3" stroke="#8a8a8a" stroke-width="4.5" stroke-dasharray="4.5 4.5"/>
<path d="M576.6 2211.9H647.6" stroke="#e8432a" stroke-width="3.0" stroke-dasharray="9 5"/>
<path d="M682.2 2310.7H755.5" stroke="#e8432a" stroke-width="3.0" stroke-dasharray="9 5"/>
<path d="M789.0 2293.7H861.0" stroke="#e8432a" stroke-width="3.0" stroke-dasharray="9 5"/>
<path d="M659.6 2211.9H678.1V2288.6H686.9L668.9 2305.6L650.9 2288.6H659.6V2211.9Z" fill="#ff0000"/>
<path d="M766.1 2211.9H784.6V2277.2H793.4L775.4 2294.8L757.4 2277.2H766.1V2211.9Z" fill="#ff0000"/>
<text x="639.5" y="2332.6" font-size="22.0" textLength="50.1" lengthAdjust="spacingAndGlyphs" fill="#ee1111">-4.96</text>
<text x="747.4" y="2358.2" font-size="22.0" textLength="50.2" lengthAdjust="spacingAndGlyphs" fill="#ee1111">-4.55</text>
<path d="M978.6 2069.9V2148.2" stroke="#111" stroke-width="1.8"/>
<path d="M978.6 2174.1V2404.5H1286.5" stroke="#111" stroke-width="1.8" fill="none"/>
<path d="M967.2 2069.9H978.6" stroke="#111" stroke-width="1.8"/>
<path d="M967.2 2096.0H978.6" stroke="#111" stroke-width="1.8"/>
<path d="M967.2 2122.0H978.6" stroke="#111" stroke-width="1.8"/>
<path d="M970.7 2148.2H986.6" stroke="#111" stroke-width="1.8"/>
<path d="M970.7 2174.1H986.6" stroke="#111" stroke-width="1.8"/>
<path d="M967.2 2212.5H978.6" stroke="#111" stroke-width="1.8"/>
<path d="M967.2 2250.9H978.6" stroke="#111" stroke-width="1.8"/>
<path d="M967.2 2289.3H978.6" stroke="#111" stroke-width="1.8"/>
<path d="M967.2 2327.7H978.6" stroke="#111" stroke-width="1.8"/>
<path d="M967.2 2366.1H978.6" stroke="#111" stroke-width="1.8"/>
<path d="M967.2 2404.5H978.6" stroke="#111" stroke-width="1.8"/>
<text x="961.5" y="2077.9" font-size="22.5" text-anchor="end">138</text>
<text x="961.5" y="2104.0" font-size="22.5" text-anchor="end">94</text>
<text x="961.5" y="2130.0" font-size="22.5" text-anchor="end">50</text>
<text x="961.5" y="2156.2" font-size="22.5" text-anchor="end">6</text>
<text x="961.5" y="2182.1" font-size="22.5" text-anchor="end">6</text>
<text x="961.5" y="2220.5" font-size="22.5" text-anchor="end">4</text>
<text x="961.5" y="2258.9" font-size="22.5" text-anchor="end">2</text>
<text x="961.5" y="2297.3" font-size="22.5" text-anchor="end">0</text>
<text x="961.5" y="2335.7" font-size="22.5" text-anchor="end">-2</text>
<text x="961.5" y="2374.1" font-size="22.5" text-anchor="end">-4</text>
<text x="961.5" y="2412.5" font-size="22.5" text-anchor="end">-6</text>
<path d="M1040.0 2404.5V2417.0" stroke="#111" stroke-width="1.8"/>
<path d="M1132.5 2404.5V2417.0" stroke="#111" stroke-width="1.8"/>
<path d="M1225.2 2404.5V2417.0" stroke="#111" stroke-width="1.8"/>
<path d="M967.2 2404.5H978.6" stroke="#111" stroke-width="1.8"/>
<text x="1035.6" y="2455.6" font-size="23.5" text-anchor="middle">WT</text>
<text x="1130.0" y="2455.6" font-size="23.5" text-anchor="middle">Combo</text>
<text x="1227.0" y="2455.6" font-size="23.5" text-anchor="middle">mm28</text>
<g fill="#000">
<circle cx="1035.0" cy="2295.1" r="3.5"/><circle cx="1039.8" cy="2295.2" r="3.5"/><circle cx="1044.8" cy="2294.4" r="3.5"/><circle cx="1027.7" cy="2299.2" r="3.5"/><circle cx="1032.7" cy="2298.2" r="3.5"/><circle cx="1038.5" cy="2298.6" r="3.5"/><circle cx="1042.8" cy="2298.6" r="3.5"/><circle cx="1047.1" cy="2298.1" r="3.5"/><circle cx="1051.7" cy="2299.2" r="3.5"/><circle cx="1056.1" cy="2299.0" r="3.5"/><circle cx="1017.3" cy="2301.6" r="3.5"/><circle cx="1022.0" cy="2302.4" r="3.5"/><circle cx="1025.9" cy="2301.5" r="3.5"/><circle cx="1031.4" cy="2302.2" r="3.5"/><circle cx="1035.8" cy="2302.9" r="3.5"/><circle cx="1040.3" cy="2302.9" r="3.5"/><circle cx="1044.4" cy="2302.7" r="3.5"/><circle cx="1049.1" cy="2303.0" r="3.5"/><circle cx="1054.4" cy="2301.6" r="3.5"/><circle cx="1057.8" cy="2301.8" r="3.5"/><circle cx="1063.7" cy="2302.2" r="3.5"/><circle cx="1014.9" cy="2305.5" r="3.5"/><circle cx="1019.3" cy="2305.7" r="3.5"/><circle cx="1023.7" cy="2306.0" r="3.5"/><circle cx="1028.6" cy="2306.5" r="3.5"/><circle cx="1033.4" cy="2306.5" r="3.5"/><circle cx="1038.3" cy="2306.6" r="3.5"/><circle cx="1042.6" cy="2305.3" r="3.5"/><circle cx="1047.5" cy="2306.6" r="3.5"/><circle cx="1052.1" cy="2306.0" r="3.5"/><circle cx="1056.4" cy="2305.4" r="3.5"/><circle cx="1061.2" cy="2306.0" r="3.5"/><circle cx="1065.0" cy="2305.2" r="3.5"/><circle cx="1017.6" cy="2310.2" r="3.5"/><circle cx="1020.9" cy="2309.9" r="3.5"/><circle cx="1026.1" cy="2308.9" r="3.5"/><circle cx="1030.5" cy="2309.9" r="3.5"/><circle cx="1036.0" cy="2308.7" r="3.5"/><circle cx="1040.2" cy="2308.7" r="3.5"/><circle cx="1044.9" cy="2309.2" r="3.5"/><circle cx="1049.8" cy="2310.2" r="3.5"/><circle cx="1053.8" cy="2310.3" r="3.5"/><circle cx="1058.1" cy="2308.8" r="3.5"/><circle cx="1063.2" cy="2308.7" r="3.5"/><circle cx="1032.6" cy="2312.9" r="3.5"/><circle cx="1037.9" cy="2312.5" r="3.5"/><circle cx="1041.6" cy="2313.6" r="3.5"/><circle cx="1046.6" cy="2313.8" r="3.5"/><circle cx="1052.1" cy="2312.9" r="3.5"/>
<circle cx="1039.9" cy="2247.1" r="3.5"/><circle cx="1040.2" cy="2253.4" r="3.5"/><circle cx="1040.1" cy="2259.7" r="3.5"/><circle cx="1040.7" cy="2265.7" r="3.5"/><circle cx="1039.9" cy="2272.2" r="3.5"/><circle cx="1039.6" cy="2277.7" r="3.5"/><circle cx="1040.8" cy="2284.3" r="3.5"/><circle cx="1035.6" cy="2289.7" r="3.5"/><circle cx="1038.4" cy="2290.6" r="3.5"/><circle cx="1040.7" cy="2290.6" r="3.5"/><circle cx="1044.7" cy="2289.8" r="3.5"/><circle cx="1047.7" cy="2290.4" r="3.5"/>
<circle cx="1040.5" cy="2210.6" r="3.3"/>
<circle cx="1040.1" cy="2135.9" r="3.5"/><circle cx="1040.1" cy="2139.6" r="3.5"/><circle cx="1039.7" cy="2142.7" r="3.5"/>
<circle cx="1123.1" cy="2295.8" r="3.5"/><circle cx="1127.0" cy="2295.0" r="3.5"/><circle cx="1132.1" cy="2294.8" r="3.5"/><circle cx="1136.4" cy="2294.8" r="3.5"/><circle cx="1141.0" cy="2295.2" r="3.5"/><circle cx="1115.6" cy="2298.5" r="3.5"/><circle cx="1120.9" cy="2297.9" r="3.5"/><circle cx="1125.2" cy="2299.0" r="3.5"/><circle cx="1129.4" cy="2298.2" r="3.5"/><circle cx="1134.8" cy="2298.2" r="3.5"/><circle cx="1138.4" cy="2298.6" r="3.5"/><circle cx="1143.8" cy="2298.0" r="3.5"/><circle cx="1147.8" cy="2298.4" r="3.5"/><circle cx="1109.5" cy="2302.2" r="3.5"/><circle cx="1114.2" cy="2301.7" r="3.5"/><circle cx="1117.9" cy="2302.5" r="3.5"/><circle cx="1123.4" cy="2302.2" r="3.5"/><circle cx="1127.0" cy="2301.7" r="3.5"/><circle cx="1132.0" cy="2301.8" r="3.5"/><circle cx="1137.1" cy="2302.8" r="3.5"/><circle cx="1140.7" cy="2301.9" r="3.5"/><circle cx="1146.3" cy="2302.5" r="3.5"/><circle cx="1150.9" cy="2302.0" r="3.5"/><circle cx="1154.4" cy="2301.9" r="3.5"/><circle cx="1107.2" cy="2305.5" r="3.5"/><circle cx="1111.1" cy="2305.7" r="3.5"/><circle cx="1115.8" cy="2305.7" r="3.5"/><circle cx="1121.2" cy="2305.3" r="3.5"/><circle cx="1124.3" cy="2306.6" r="3.5"/><circle cx="1130.3" cy="2306.6" r="3.5"/><circle cx="1134.2" cy="2306.6" r="3.5"/><circle cx="1139.6" cy="2305.4" r="3.5"/><circle cx="1143.9" cy="2306.4" r="3.5"/><circle cx="1148.4" cy="2305.9" r="3.5"/><circle cx="1152.4" cy="2305.6" r="3.5"/><circle cx="1156.9" cy="2305.2" r="3.5"/><circle cx="1162.0" cy="2305.5" r="3.5"/><circle cx="1114.1" cy="2308.7" r="3.5"/><circle cx="1118.8" cy="2309.8" r="3.5"/><circle cx="1123.5" cy="2310.1" r="3.5"/><circle cx="1128.0" cy="2309.6" r="3.5"/><circle cx="1131.2" cy="2309.9" r="3.5"/><circle cx="1136.1" cy="2309.1" r="3.5"/><circle cx="1141.5" cy="2309.5" r="3.5"/><circle cx="1145.7" cy="2310.2" r="3.5"/><circle cx="1150.6" cy="2309.2" r="3.5"/><circle cx="1124.7" cy="2313.6" r="3.5"/><circle cx="1129.7" cy="2313.5" r="3.5"/><circle cx="1134.1" cy="2312.6" r="3.5"/><circle cx="1139.0" cy="2313.6" r="3.5"/><circle cx="1143.0" cy="2313.5" r="3.5"/>
<circle cx="1132.7" cy="2226.4" r="3.5"/><circle cx="1132.5" cy="2230.2" r="3.5"/><circle cx="1132.2" cy="2236.5" r="3.5"/><circle cx="1131.3" cy="2240.6" r="3.5"/><circle cx="1131.6" cy="2246.0" r="3.5"/><circle cx="1131.9" cy="2250.9" r="3.5"/><circle cx="1132.4" cy="2255.1" r="3.5"/><circle cx="1131.3" cy="2260.3" r="3.5"/><circle cx="1131.4" cy="2265.2" r="3.5"/><circle cx="1132.8" cy="2271.5" r="3.5"/><circle cx="1131.3" cy="2275.9" r="3.5"/><circle cx="1131.7" cy="2280.6" r="3.5"/><circle cx="1131.8" cy="2286.2" r="3.5"/><circle cx="1130.6" cy="2290.7" r="3.5"/><circle cx="1133.0" cy="2290.7" r="3.5"/><circle cx="1135.9" cy="2291.0" r="3.5"/>
<circle cx="1132.5" cy="2206.7" r="3.3"/>
<circle cx="1132.1" cy="2125.7" r="3.5"/><circle cx="1131.7" cy="2129.2" r="3.5"/><circle cx="1131.9" cy="2133.1" r="3.5"/><circle cx="1132.2" cy="2136.5" r="3.5"/><circle cx="1132.2" cy="2140.3" r="3.5"/><circle cx="1132.0" cy="2143.7" r="3.5"/><circle cx="1132.0" cy="2147.5" r="3.5"/>
<circle cx="1224.3" cy="2285.8" r="3.5"/><circle cx="1222.0" cy="2288.7" r="3.5"/><circle cx="1226.8" cy="2289.4" r="3.5"/><circle cx="1230.6" cy="2288.9" r="3.5"/><circle cx="1215.1" cy="2293.3" r="3.5"/><circle cx="1220.5" cy="2292.5" r="3.5"/><circle cx="1225.0" cy="2293.1" r="3.5"/><circle cx="1228.6" cy="2292.6" r="3.5"/><circle cx="1233.0" cy="2293.2" r="3.5"/><circle cx="1208.6" cy="2296.9" r="3.5"/><circle cx="1213.4" cy="2296.5" r="3.5"/><circle cx="1217.9" cy="2296.4" r="3.5"/><circle cx="1221.5" cy="2296.4" r="3.5"/><circle cx="1225.9" cy="2295.7" r="3.5"/><circle cx="1231.7" cy="2295.5" r="3.5"/><circle cx="1235.2" cy="2295.6" r="3.5"/><circle cx="1241.1" cy="2295.7" r="3.5"/><circle cx="1244.3" cy="2296.8" r="3.5"/><circle cx="1196.2" cy="2300.4" r="3.5"/><circle cx="1201.7" cy="2300.4" r="3.5"/><circle cx="1206.7" cy="2300.0" r="3.5"/><circle cx="1211.1" cy="2299.1" r="3.5"/><circle cx="1215.6" cy="2299.9" r="3.5"/><circle cx="1220.1" cy="2299.2" r="3.5"/><circle cx="1224.8" cy="2300.6" r="3.5"/><circle cx="1228.3" cy="2299.6" r="3.5"/><circle cx="1233.7" cy="2300.4" r="3.5"/><circle cx="1237.8" cy="2299.3" r="3.5"/><circle cx="1242.4" cy="2300.0" r="3.5"/><circle cx="1247.8" cy="2299.7" r="3.5"/><circle cx="1251.8" cy="2299.7" r="3.5"/><circle cx="1198.9" cy="2303.3" r="3.5"/><circle cx="1203.0" cy="2303.5" r="3.5"/><circle cx="1209.1" cy="2303.3" r="3.5"/><circle cx="1213.3" cy="2302.9" r="3.5"/><circle cx="1217.8" cy="2303.9" r="3.5"/><circle cx="1222.4" cy="2303.5" r="3.5"/><circle cx="1226.7" cy="2303.7" r="3.5"/><circle cx="1231.9" cy="2302.9" r="3.5"/><circle cx="1235.3" cy="2303.9" r="3.5"/><circle cx="1241.2" cy="2303.5" r="3.5"/><circle cx="1245.0" cy="2303.8" r="3.5"/><circle cx="1249.2" cy="2303.1" r="3.5"/><circle cx="1253.8" cy="2303.6" r="3.5"/><circle cx="1201.1" cy="2306.6" r="3.5"/><circle cx="1206.3" cy="2307.8" r="3.5"/><circle cx="1210.3" cy="2307.4" r="3.5"/><circle cx="1215.1" cy="2307.6" r="3.5"/><circle cx="1219.9" cy="2306.7" r="3.5"/><circle cx="1223.9" cy="2306.3" r="3.5"/><circle cx="1229.0" cy="2306.9" r="3.5"/><circle cx="1233.1" cy="2306.8" r="3.5"/><circle cx="1237.9" cy="2307.5" r="3.5"/><circle cx="1242.2" cy="2307.8" r="3.5"/><circle cx="1247.4" cy="2307.2" r="3.5"/><circle cx="1212.8" cy="2311.2" r="3.5"/><circle cx="1218.0" cy="2310.8" r="3.5"/><circle cx="1222.1" cy="2311.0" r="3.5"/><circle cx="1227.3" cy="2310.5" r="3.5"/><circle cx="1231.7" cy="2311.4" r="3.5"/><circle cx="1235.8" cy="2310.2" r="3.5"/><circle cx="1224.0" cy="2314.6" r="3.5"/><circle cx="1224.7" cy="2318.6" r="3.5"/><circle cx="1225.0" cy="2321.0" r="3.5"/>
<circle cx="1224.1" cy="2221.9" r="3.5"/><circle cx="1224.1" cy="2225.5" r="3.5"/><circle cx="1224.8" cy="2228.9" r="3.5"/><circle cx="1224.2" cy="2232.1" r="3.5"/><circle cx="1224.2" cy="2234.8" r="3.5"/><circle cx="1224.6" cy="2237.7" r="3.5"/><circle cx="1224.0" cy="2241.6" r="3.5"/><circle cx="1224.2" cy="2244.4" r="3.5"/><circle cx="1224.5" cy="2247.9" r="3.5"/><circle cx="1223.9" cy="2250.7" r="3.5"/><circle cx="1224.3" cy="2254.1" r="3.5"/><circle cx="1224.1" cy="2257.4" r="3.5"/><circle cx="1224.9" cy="2260.4" r="3.5"/><circle cx="1224.4" cy="2263.3" r="3.5"/><circle cx="1224.2" cy="2267.1" r="3.5"/><circle cx="1224.0" cy="2270.5" r="3.5"/><circle cx="1224.8" cy="2272.9" r="3.5"/><circle cx="1224.8" cy="2276.4" r="3.5"/><circle cx="1224.7" cy="2280.0" r="3.5"/><circle cx="1222.7" cy="2283.1" r="3.5"/><circle cx="1226.1" cy="2283.2" r="3.5"/>
<circle cx="1224.3" cy="2183.9" r="3.5"/><circle cx="1224.7" cy="2188.3" r="3.5"/><circle cx="1224.4" cy="2192.5" r="3.5"/><circle cx="1224.4" cy="2197.1" r="3.5"/>
<circle cx="1224.6" cy="2071.1" r="3.5"/><circle cx="1224.5" cy="2083.2" r="3.5"/><circle cx="1224.5" cy="2096.1" r="3.5"/>
<circle cx="1224.1" cy="2100.4" r="3.5"/><circle cx="1224.6" cy="2103.2" r="3.5"/><circle cx="1224.8" cy="2106.8" r="3.5"/><circle cx="1224.2" cy="2111.0" r="3.5"/><circle cx="1224.5" cy="2114.5" r="3.5"/><circle cx="1224.5" cy="2118.0" r="3.5"/><circle cx="1224.2" cy="2121.3" r="3.5"/><circle cx="1224.0" cy="2125.4" r="3.5"/><circle cx="1224.7" cy="2128.8" r="3.5"/><circle cx="1224.6" cy="2132.3" r="3.5"/><circle cx="1224.2" cy="2135.9" r="3.5"/><circle cx="1223.3" cy="2139.1" r="3.5"/><circle cx="1225.9" cy="2139.3" r="3.5"/><circle cx="1221.7" cy="2143.1" r="3.5"/><circle cx="1224.2" cy="2143.1" r="3.5"/><circle cx="1227.4" cy="2143.5" r="3.5"/>
</g>
<path d="M982.0 2214.5H1187.0" stroke="#8a8a8a" stroke-width="4.5" stroke-dasharray="4.5 4.5"/>
<path d="M1008.0 2293.0H1066.6" stroke="#e8432a" stroke-width="3.0" stroke-dasharray="9 5"/>
<path d="M1100.0 2291.0H1158.6" stroke="#e8432a" stroke-width="3.0" stroke-dasharray="9 5"/>
<path d="M1193.4 2214.5H1251.8" stroke="#e8432a" stroke-width="3.0" stroke-dasharray="9 5"/>
<path d="M1073.0 2291.5H1091.0V2237.6H1099.5L1082.0 2221.0L1064.5 2237.6H1073.0V2291.5Z" fill="#ff0000"/>
<path d="M1172.0 2290.5H1190.0V2237.6H1198.5L1181.0 2221.0L1163.5 2237.6H1172.0V2290.5Z" fill="#ff0000"/>
<text x="1058.7" y="2198.4" font-size="22.0" textLength="42.5" lengthAdjust="spacingAndGlyphs" fill="#ee1111">4.09</text>
<text x="1158.5" y="2198.4" font-size="22.0" textLength="42.9" lengthAdjust="spacingAndGlyphs" fill="#ee1111">4.02</text>
<path d="M1367.5 2074.4V2149.4" stroke="#111" stroke-width="1.8"/>
<path d="M1367.5 2176.1V2404.1H1672.1" stroke="#111" stroke-width="1.8" fill="none"/>
<path d="M1356.3 2074.4H1367.5" stroke="#111" stroke-width="1.8"/>
<path d="M1356.3 2098.8H1367.5" stroke="#111" stroke-width="1.8"/>
<path d="M1356.3 2124.3H1367.5" stroke="#111" stroke-width="1.8"/>
<path d="M1359.8 2149.4H1375.5" stroke="#111" stroke-width="1.8"/>
<path d="M1359.8 2176.1H1375.5" stroke="#111" stroke-width="1.8"/>
<path d="M1356.3 2214.1H1367.5" stroke="#111" stroke-width="1.8"/>
<path d="M1356.3 2252.1H1367.5" stroke="#111" stroke-width="1.8"/>
<path d="M1356.3 2290.1H1367.5" stroke="#111" stroke-width="1.8"/>
<path d="M1356.3 2328.1H1367.5" stroke="#111" stroke-width="1.8"/>
<path d="M1356.3 2366.1H1367.5" stroke="#111" stroke-width="1.8"/>
<path d="M1356.3 2404.1H1367.5" stroke="#111" stroke-width="1.8"/>
<text x="1350.5" y="2082.4" font-size="22.5" text-anchor="end">138</text>
<text x="1350.5" y="2106.8" font-size="22.5" text-anchor="end">94</text>
<text x="1350.5" y="2132.3" font-size="22.5" text-anchor="end">50</text>
<text x="1350.5" y="2157.4" font-size="22.5" text-anchor="end">6</text>
<text x="1350.5" y="2184.1" font-size="22.5" text-anchor="end">6</text>
<text x="1350.5" y="2222.1" font-size="22.5" text-anchor="end">4</text>
<text x="1350.5" y="2260.1" font-size="22.5" text-anchor="end">2</text>
<text x="1350.5" y="2298.1" font-size="22.5" text-anchor="end">0</text>
<text x="1350.5" y="2336.1" font-size="22.5" text-anchor="end">-2</text>
<text x="1350.5" y="2374.1" font-size="22.5" text-anchor="end">-4</text>
<text x="1350.5" y="2412.1" font-size="22.5" text-anchor="end">-6</text>
<path d="M1428.7 2404.1V2416.6" stroke="#111" stroke-width="1.8"/>
<path d="M1520.2 2404.1V2416.6" stroke="#111" stroke-width="1.8"/>
<path d="M1611.4 2404.1V2416.6" stroke="#111" stroke-width="1.8"/>
<path d="M1356.3 2404.1H1367.5" stroke="#111" stroke-width="1.8"/>
<text x="1427.5" y="2455.9" font-size="23.5" text-anchor="middle">WT</text>
<text x="1521.3" y="2455.9" font-size="23.5" text-anchor="middle">Combo</text>
<text x="1611.4" y="2455.9" font-size="23.5" text-anchor="middle">mm28</text>
<g fill="#000">
<circle cx="1423.6" cy="2140.5" r="3.5"/><circle cx="1428.6" cy="2140.6" r="3.5"/><circle cx="1433.0" cy="2140.9" r="3.5"/><circle cx="1407.6" cy="2144.9" r="3.5"/><circle cx="1412.2" cy="2144.2" r="3.5"/><circle cx="1416.7" cy="2144.2" r="3.5"/><circle cx="1421.1" cy="2144.0" r="3.5"/><circle cx="1426.0" cy="2145.0" r="3.5"/><circle cx="1431.5" cy="2144.9" r="3.5"/><circle cx="1436.3" cy="2144.1" r="3.5"/><circle cx="1440.5" cy="2144.7" r="3.5"/><circle cx="1445.8" cy="2144.9" r="3.5"/><circle cx="1450.8" cy="2144.0" r="3.5"/><circle cx="1404.8" cy="2148.2" r="3.5"/><circle cx="1409.5" cy="2147.6" r="3.5"/><circle cx="1414.3" cy="2147.5" r="3.5"/><circle cx="1419.6" cy="2148.4" r="3.5"/><circle cx="1424.0" cy="2147.8" r="3.5"/><circle cx="1429.2" cy="2148.1" r="3.5"/><circle cx="1434.0" cy="2148.4" r="3.5"/><circle cx="1438.3" cy="2147.9" r="3.5"/><circle cx="1443.2" cy="2147.9" r="3.5"/><circle cx="1447.5" cy="2147.8" r="3.5"/><circle cx="1453.1" cy="2147.5" r="3.5"/>
<circle cx="1428.3" cy="2091.1" r="3.5"/><circle cx="1428.5" cy="2094.3" r="3.5"/><circle cx="1428.7" cy="2097.5" r="3.5"/><circle cx="1429.1" cy="2100.7" r="3.5"/><circle cx="1428.6" cy="2104.0" r="3.5"/><circle cx="1428.8" cy="2107.3" r="3.5"/><circle cx="1428.6" cy="2111.0" r="3.5"/><circle cx="1428.6" cy="2114.1" r="3.5"/><circle cx="1429.0" cy="2117.1" r="3.5"/><circle cx="1428.3" cy="2120.5" r="3.5"/><circle cx="1428.9" cy="2124.1" r="3.5"/><circle cx="1426.9" cy="2127.2" r="3.5"/><circle cx="1430.0" cy="2127.3" r="3.5"/><circle cx="1425.1" cy="2130.8" r="3.5"/><circle cx="1429.0" cy="2131.0" r="3.5"/><circle cx="1432.1" cy="2131.0" r="3.5"/><circle cx="1426.7" cy="2133.7" r="3.5"/><circle cx="1430.7" cy="2134.1" r="3.5"/><circle cx="1433.4" cy="2134.3" r="3.5"/><circle cx="1425.6" cy="2137.5" r="3.5"/><circle cx="1428.5" cy="2137.0" r="3.5"/><circle cx="1431.9" cy="2136.9" r="3.5"/>
<circle cx="1428.5" cy="2177.0" r="3.5"/><circle cx="1428.4" cy="2179.1" r="3.5"/><circle cx="1427.8" cy="2183.4" r="3.5"/><circle cx="1429.3" cy="2187.8" r="3.5"/><circle cx="1428.3" cy="2191.3" r="3.5"/><circle cx="1429.7" cy="2195.9" r="3.5"/><circle cx="1428.1" cy="2199.2" r="3.5"/><circle cx="1427.8" cy="2203.4" r="3.5"/><circle cx="1429.1" cy="2207.4" r="3.5"/><circle cx="1427.8" cy="2212.1" r="3.5"/><circle cx="1428.2" cy="2217.1" r="3.5"/><circle cx="1427.9" cy="2220.2" r="3.5"/><circle cx="1429.2" cy="2223.9" r="3.5"/><circle cx="1429.7" cy="2228.1" r="3.5"/><circle cx="1428.2" cy="2231.9" r="3.5"/><circle cx="1427.8" cy="2235.9" r="3.5"/><circle cx="1428.2" cy="2240.9" r="3.5"/><circle cx="1429.4" cy="2244.1" r="3.5"/><circle cx="1427.8" cy="2247.6" r="3.5"/><circle cx="1428.2" cy="2251.5" r="3.5"/><circle cx="1428.2" cy="2256.8" r="3.5"/><circle cx="1428.0" cy="2259.2" r="3.5"/><circle cx="1429.6" cy="2264.2" r="3.5"/><circle cx="1429.7" cy="2267.9" r="3.5"/><circle cx="1429.5" cy="2272.4" r="3.5"/><circle cx="1429.3" cy="2276.6" r="3.5"/><circle cx="1428.7" cy="2279.3" r="3.5"/><circle cx="1426.9" cy="2284.9" r="3.5"/><circle cx="1424.0" cy="2288.7" r="3.5"/><circle cx="1429.3" cy="2288.2" r="3.5"/><circle cx="1434.1" cy="2287.6" r="3.5"/><circle cx="1424.6" cy="2297.0" r="3.5"/><circle cx="1427.8" cy="2296.9" r="3.5"/><circle cx="1434.6" cy="2296.4" r="3.5"/><circle cx="1425.5" cy="2300.4" r="3.5"/><circle cx="1431.7" cy="2301.0" r="3.5"/><circle cx="1435.2" cy="2300.9" r="3.5"/><circle cx="1419.5" cy="2303.3" r="3.5"/><circle cx="1424.3" cy="2304.9" r="3.5"/><circle cx="1429.5" cy="2303.5" r="3.5"/><circle cx="1433.4" cy="2304.9" r="3.5"/><circle cx="1438.6" cy="2304.2" r="3.5"/><circle cx="1420.3" cy="2308.3" r="3.5"/><circle cx="1426.9" cy="2308.3" r="3.5"/><circle cx="1430.9" cy="2308.6" r="3.5"/><circle cx="1435.2" cy="2308.8" r="3.5"/><circle cx="1417.9" cy="2312.2" r="3.5"/><circle cx="1424.3" cy="2311.7" r="3.5"/><circle cx="1428.7" cy="2313.0" r="3.5"/><circle cx="1432.9" cy="2312.3" r="3.5"/><circle cx="1416.1" cy="2316.8" r="3.5"/><circle cx="1420.3" cy="2316.9" r="3.5"/><circle cx="1425.8" cy="2316.8" r="3.5"/><circle cx="1431.8" cy="2315.4" r="3.5"/><circle cx="1440.5" cy="2316.1" r="3.5"/><circle cx="1413.8" cy="2320.9" r="3.5"/><circle cx="1417.7" cy="2319.7" r="3.5"/><circle cx="1423.7" cy="2320.5" r="3.5"/><circle cx="1427.9" cy="2319.6" r="3.5"/><circle cx="1433.4" cy="2320.6" r="3.5"/><circle cx="1444.1" cy="2320.3" r="3.5"/><circle cx="1412.0" cy="2324.0" r="3.5"/><circle cx="1421.9" cy="2324.7" r="3.5"/><circle cx="1426.1" cy="2323.4" r="3.5"/><circle cx="1430.9" cy="2324.4" r="3.5"/><circle cx="1435.4" cy="2323.4" r="3.5"/><circle cx="1440.6" cy="2324.9" r="3.5"/><circle cx="1446.4" cy="2323.8" r="3.5"/><circle cx="1450.4" cy="2323.9" r="3.5"/><circle cx="1409.0" cy="2327.8" r="3.5"/><circle cx="1412.7" cy="2327.1" r="3.5"/><circle cx="1424.3" cy="2328.7" r="3.5"/><circle cx="1433.9" cy="2328.1" r="3.5"/><circle cx="1439.6" cy="2328.6" r="3.5"/><circle cx="1449.0" cy="2328.5" r="3.5"/><circle cx="1453.9" cy="2328.8" r="3.5"/><circle cx="1412.1" cy="2331.9" r="3.5"/><circle cx="1417.0" cy="2332.5" r="3.5"/><circle cx="1420.7" cy="2331.8" r="3.5"/><circle cx="1427.2" cy="2332.9" r="3.5"/><circle cx="1431.0" cy="2332.7" r="3.5"/><circle cx="1436.0" cy="2331.1" r="3.5"/><circle cx="1441.3" cy="2332.5" r="3.5"/><circle cx="1445.9" cy="2333.0" r="3.5"/><circle cx="1450.5" cy="2331.2" r="3.5"/><circle cx="1428.3" cy="2335.3" r="3.5"/><circle cx="1433.1" cy="2337.0" r="3.5"/><circle cx="1443.0" cy="2335.6" r="3.5"/><circle cx="1417.1" cy="2339.4" r="3.5"/><circle cx="1421.6" cy="2340.2" r="3.5"/><circle cx="1431.2" cy="2339.4" r="3.5"/><circle cx="1435.3" cy="2339.7" r="3.5"/><circle cx="1440.3" cy="2341.1" r="3.5"/><circle cx="1419.5" cy="2344.5" r="3.5"/><circle cx="1424.0" cy="2345.0" r="3.5"/><circle cx="1433.8" cy="2344.5" r="3.5"/><circle cx="1438.8" cy="2344.1" r="3.5"/><circle cx="1426.9" cy="2348.1" r="3.5"/><circle cx="1430.5" cy="2348.8" r="3.5"/>
<circle cx="1515.1" cy="2132.9" r="3.5"/><circle cx="1520.4" cy="2133.4" r="3.5"/><circle cx="1524.8" cy="2132.9" r="3.5"/><circle cx="1517.7" cy="2135.9" r="3.5"/><circle cx="1523.1" cy="2135.9" r="3.5"/><circle cx="1528.0" cy="2136.1" r="3.5"/><circle cx="1510.2" cy="2140.4" r="3.5"/><circle cx="1515.8" cy="2139.7" r="3.5"/><circle cx="1520.3" cy="2140.0" r="3.5"/><circle cx="1525.3" cy="2139.6" r="3.5"/><circle cx="1530.2" cy="2140.6" r="3.5"/><circle cx="1503.6" cy="2144.0" r="3.5"/><circle cx="1508.7" cy="2143.4" r="3.5"/><circle cx="1513.4" cy="2143.9" r="3.5"/><circle cx="1517.9" cy="2143.0" r="3.5"/><circle cx="1522.7" cy="2144.0" r="3.5"/><circle cx="1527.2" cy="2143.7" r="3.5"/><circle cx="1532.7" cy="2143.6" r="3.5"/><circle cx="1536.4" cy="2143.7" r="3.5"/><circle cx="1541.5" cy="2143.9" r="3.5"/><circle cx="1496.4" cy="2146.8" r="3.5"/><circle cx="1501.5" cy="2147.2" r="3.5"/><circle cx="1505.6" cy="2147.4" r="3.5"/><circle cx="1511.1" cy="2147.5" r="3.5"/><circle cx="1515.9" cy="2147.2" r="3.5"/><circle cx="1520.4" cy="2147.1" r="3.5"/><circle cx="1525.0" cy="2147.6" r="3.5"/><circle cx="1529.6" cy="2146.5" r="3.5"/><circle cx="1534.9" cy="2147.0" r="3.5"/><circle cx="1539.5" cy="2147.1" r="3.5"/><circle cx="1543.9" cy="2146.6" r="3.5"/>
<circle cx="1519.9" cy="2112.2" r="3.5"/><circle cx="1520.5" cy="2115.5" r="3.5"/><circle cx="1519.9" cy="2119.0" r="3.5"/><circle cx="1520.5" cy="2121.9" r="3.5"/><circle cx="1516.6" cy="2125.5" r="3.5"/><circle cx="1520.3" cy="2125.3" r="3.5"/><circle cx="1523.0" cy="2125.4" r="3.5"/><circle cx="1518.2" cy="2128.5" r="3.5"/><circle cx="1521.5" cy="2128.4" r="3.5"/><circle cx="1517.3" cy="2132.0" r="3.5"/><circle cx="1520.5" cy="2131.6" r="3.5"/><circle cx="1523.3" cy="2131.9" r="3.5"/>
<circle cx="1519.3" cy="2175.9" r="3.5"/><circle cx="1521.1" cy="2180.6" r="3.5"/><circle cx="1520.9" cy="2183.7" r="3.5"/><circle cx="1520.6" cy="2188.7" r="3.5"/><circle cx="1520.6" cy="2192.0" r="3.5"/><circle cx="1519.5" cy="2195.1" r="3.5"/><circle cx="1521.0" cy="2201.0" r="3.5"/><circle cx="1519.8" cy="2204.6" r="3.5"/><circle cx="1520.0" cy="2208.4" r="3.5"/><circle cx="1520.9" cy="2211.7" r="3.5"/><circle cx="1520.4" cy="2215.6" r="3.5"/><circle cx="1520.2" cy="2219.2" r="3.5"/><circle cx="1519.7" cy="2223.7" r="3.5"/><circle cx="1521.0" cy="2227.4" r="3.5"/><circle cx="1520.7" cy="2231.3" r="3.5"/><circle cx="1521.2" cy="2235.4" r="3.5"/><circle cx="1519.4" cy="2239.5" r="3.5"/><circle cx="1523.5" cy="2244.1" r="3.5"/><circle cx="1514.9" cy="2248.0" r="3.5"/><circle cx="1524.7" cy="2248.8" r="3.5"/><circle cx="1518.6" cy="2251.7" r="3.5"/><circle cx="1523.0" cy="2252.9" r="3.5"/><circle cx="1515.9" cy="2255.5" r="3.5"/><circle cx="1519.3" cy="2256.6" r="3.5"/><circle cx="1524.6" cy="2255.2" r="3.5"/><circle cx="1517.4" cy="2261.1" r="3.5"/><circle cx="1522.4" cy="2261.1" r="3.5"/><circle cx="1527.1" cy="2261.0" r="3.5"/><circle cx="1521.2" cy="2263.2" r="3.5"/><circle cx="1518.0" cy="2268.8" r="3.5"/><circle cx="1522.1" cy="2267.4" r="3.5"/><circle cx="1527.8" cy="2268.2" r="3.5"/><circle cx="1515.7" cy="2272.8" r="3.5"/><circle cx="1519.3" cy="2271.4" r="3.5"/><circle cx="1524.7" cy="2272.2" r="3.5"/><circle cx="1517.9" cy="2275.8" r="3.5"/><circle cx="1523.1" cy="2277.0" r="3.5"/><circle cx="1527.4" cy="2277.1" r="3.5"/><circle cx="1514.3" cy="2279.5" r="3.5"/><circle cx="1520.7" cy="2281.0" r="3.5"/><circle cx="1524.3" cy="2279.7" r="3.5"/><circle cx="1512.5" cy="2283.4" r="3.5"/><circle cx="1517.6" cy="2283.8" r="3.5"/><circle cx="1522.0" cy="2283.2" r="3.5"/><circle cx="1528.2" cy="2283.9" r="3.5"/><circle cx="1509.8" cy="2288.2" r="3.5"/><circle cx="1521.1" cy="2288.2" r="3.5"/><circle cx="1525.4" cy="2288.3" r="3.5"/><circle cx="1530.6" cy="2287.1" r="3.5"/><circle cx="1513.3" cy="2291.4" r="3.5"/><circle cx="1517.1" cy="2291.7" r="3.5"/><circle cx="1522.3" cy="2292.4" r="3.5"/><circle cx="1527.4" cy="2292.5" r="3.5"/><circle cx="1533.6" cy="2293.0" r="3.5"/><circle cx="1504.9" cy="2296.2" r="3.5"/><circle cx="1509.9" cy="2296.8" r="3.5"/><circle cx="1515.1" cy="2295.3" r="3.5"/><circle cx="1526.2" cy="2295.4" r="3.5"/><circle cx="1530.4" cy="2295.2" r="3.5"/><circle cx="1535.9" cy="2295.3" r="3.5"/><circle cx="1512.9" cy="2300.2" r="3.5"/><circle cx="1516.8" cy="2300.1" r="3.5"/><circle cx="1527.6" cy="2299.7" r="3.5"/><circle cx="1533.6" cy="2300.9" r="3.5"/><circle cx="1505.0" cy="2303.1" r="3.5"/><circle cx="1510.9" cy="2304.8" r="3.5"/><circle cx="1515.1" cy="2303.3" r="3.5"/><circle cx="1521.0" cy="2303.7" r="3.5"/><circle cx="1534.6" cy="2304.9" r="3.5"/><circle cx="1516.7" cy="2307.7" r="3.5"/><circle cx="1522.5" cy="2307.3" r="3.5"/><circle cx="1528.0" cy="2308.4" r="3.5"/><circle cx="1532.8" cy="2308.5" r="3.5"/><circle cx="1537.6" cy="2307.4" r="3.5"/><circle cx="1500.7" cy="2311.7" r="3.5"/><circle cx="1504.8" cy="2312.3" r="3.5"/><circle cx="1510.5" cy="2311.2" r="3.5"/><circle cx="1520.7" cy="2312.2" r="3.5"/><circle cx="1524.8" cy="2311.8" r="3.5"/><circle cx="1530.2" cy="2312.2" r="3.5"/><circle cx="1535.4" cy="2311.4" r="3.5"/><circle cx="1540.5" cy="2312.2" r="3.5"/><circle cx="1502.8" cy="2315.5" r="3.5"/><circle cx="1513.2" cy="2317.0" r="3.5"/><circle cx="1517.4" cy="2315.7" r="3.5"/><circle cx="1522.3" cy="2315.7" r="3.5"/><circle cx="1527.7" cy="2315.7" r="3.5"/><circle cx="1533.0" cy="2315.7" r="3.5"/><circle cx="1542.4" cy="2316.8" r="3.5"/><circle cx="1499.4" cy="2321.1" r="3.5"/><circle cx="1504.2" cy="2320.8" r="3.5"/><circle cx="1510.5" cy="2320.2" r="3.5"/><circle cx="1514.7" cy="2321.0" r="3.5"/><circle cx="1519.7" cy="2320.0" r="3.5"/><circle cx="1524.8" cy="2319.3" r="3.5"/><circle cx="1529.4" cy="2319.2" r="3.5"/><circle cx="1536.2" cy="2320.0" r="3.5"/><circle cx="1540.3" cy="2321.0" r="3.5"/><circle cx="1497.4" cy="2324.5" r="3.5"/><circle cx="1502.4" cy="2324.6" r="3.5"/><circle cx="1507.7" cy="2325.0" r="3.5"/><circle cx="1513.2" cy="2323.9" r="3.5"/><circle cx="1517.5" cy="2323.5" r="3.5"/><circle cx="1522.3" cy="2323.4" r="3.5"/><circle cx="1528.2" cy="2324.6" r="3.5"/><circle cx="1538.0" cy="2324.9" r="3.5"/><circle cx="1543.5" cy="2323.3" r="3.5"/><circle cx="1510.6" cy="2328.0" r="3.5"/><circle cx="1516.0" cy="2328.3" r="3.5"/><circle cx="1521.0" cy="2327.7" r="3.5"/><circle cx="1524.3" cy="2328.9" r="3.5"/><circle cx="1530.5" cy="2327.6" r="3.5"/><circle cx="1535.2" cy="2328.9" r="3.5"/><circle cx="1540.0" cy="2327.9" r="3.5"/><circle cx="1498.4" cy="2331.1" r="3.5"/><circle cx="1503.2" cy="2332.0" r="3.5"/><circle cx="1507.3" cy="2331.4" r="3.5"/><circle cx="1512.2" cy="2332.5" r="3.5"/><circle cx="1518.0" cy="2333.1" r="3.5"/><circle cx="1523.3" cy="2333.0" r="3.5"/><circle cx="1532.4" cy="2332.1" r="3.5"/><circle cx="1538.3" cy="2332.9" r="3.5"/><circle cx="1543.0" cy="2331.6" r="3.5"/><circle cx="1499.6" cy="2336.4" r="3.5"/><circle cx="1504.2" cy="2337.0" r="3.5"/><circle cx="1514.3" cy="2336.7" r="3.5"/><circle cx="1519.5" cy="2336.7" r="3.5"/><circle cx="1525.3" cy="2335.6" r="3.5"/><circle cx="1529.3" cy="2336.0" r="3.5"/><circle cx="1535.5" cy="2335.5" r="3.5"/><circle cx="1539.3" cy="2336.3" r="3.5"/><circle cx="1506.7" cy="2339.5" r="3.5"/><circle cx="1512.1" cy="2339.1" r="3.5"/><circle cx="1517.4" cy="2340.2" r="3.5"/><circle cx="1523.1" cy="2340.9" r="3.5"/><circle cx="1528.0" cy="2339.3" r="3.5"/><circle cx="1531.9" cy="2340.8" r="3.5"/><circle cx="1538.1" cy="2340.9" r="3.5"/><circle cx="1509.6" cy="2343.6" r="3.5"/><circle cx="1515.0" cy="2343.2" r="3.5"/><circle cx="1525.9" cy="2344.8" r="3.5"/><circle cx="1530.8" cy="2344.5" r="3.5"/><circle cx="1518.3" cy="2348.9" r="3.5"/><circle cx="1522.0" cy="2347.4" r="3.5"/><circle cx="1528.4" cy="2348.2" r="3.5"/>
<circle cx="1611.8" cy="2126.9" r="3.5"/><circle cx="1611.5" cy="2130.2" r="3.5"/><circle cx="1611.5" cy="2133.8" r="3.5"/><circle cx="1608.7" cy="2137.4" r="3.5"/><circle cx="1613.7" cy="2137.9" r="3.5"/><circle cx="1606.8" cy="2141.4" r="3.5"/><circle cx="1611.7" cy="2140.7" r="3.5"/><circle cx="1616.1" cy="2141.4" r="3.5"/><circle cx="1609.7" cy="2144.7" r="3.5"/><circle cx="1613.5" cy="2144.5" r="3.5"/><circle cx="1618.2" cy="2144.6" r="3.5"/><circle cx="1602.3" cy="2148.4" r="3.5"/><circle cx="1607.0" cy="2147.6" r="3.5"/><circle cx="1611.2" cy="2147.6" r="3.5"/><circle cx="1615.8" cy="2147.6" r="3.5"/><circle cx="1620.2" cy="2147.8" r="3.5"/>
<circle cx="1612.1" cy="2208.9" r="3.5"/><circle cx="1610.8" cy="2212.9" r="3.5"/><circle cx="1611.6" cy="2215.7" r="3.5"/><circle cx="1612.2" cy="2219.1" r="3.5"/><circle cx="1611.2" cy="2224.2" r="3.5"/><circle cx="1610.7" cy="2227.9" r="3.5"/><circle cx="1612.2" cy="2231.5" r="3.5"/><circle cx="1611.8" cy="2235.1" r="3.5"/><circle cx="1612.4" cy="2240.5" r="3.5"/><circle cx="1610.7" cy="2244.0" r="3.5"/><circle cx="1611.1" cy="2246.5" r="3.5"/><circle cx="1610.8" cy="2251.8" r="3.5"/><circle cx="1606.7" cy="2254.5" r="3.5"/><circle cx="1611.1" cy="2255.2" r="3.5"/><circle cx="1616.1" cy="2254.9" r="3.5"/><circle cx="1614.3" cy="2259.7" r="3.5"/><circle cx="1606.1" cy="2262.2" r="3.5"/><circle cx="1611.9" cy="2263.8" r="3.5"/><circle cx="1609.0" cy="2267.8" r="3.5"/><circle cx="1613.5" cy="2267.0" r="3.5"/><circle cx="1618.8" cy="2266.2" r="3.5"/><circle cx="1606.0" cy="2270.6" r="3.5"/><circle cx="1611.0" cy="2271.1" r="3.5"/><circle cx="1615.5" cy="2270.7" r="3.5"/><circle cx="1608.6" cy="2274.2" r="3.5"/><circle cx="1614.2" cy="2273.8" r="3.5"/><circle cx="1617.7" cy="2275.5" r="3.5"/><circle cx="1607.2" cy="2277.7" r="3.5"/><circle cx="1610.9" cy="2279.2" r="3.5"/><circle cx="1615.5" cy="2277.7" r="3.5"/><circle cx="1608.8" cy="2282.2" r="3.5"/><circle cx="1613.5" cy="2282.7" r="3.5"/><circle cx="1617.9" cy="2282.4" r="3.5"/><circle cx="1611.8" cy="2287.3" r="3.5"/><circle cx="1615.9" cy="2287.0" r="3.5"/><circle cx="1604.7" cy="2289.6" r="3.5"/><circle cx="1609.0" cy="2290.8" r="3.5"/><circle cx="1614.1" cy="2291.0" r="3.5"/><circle cx="1619.0" cy="2289.9" r="3.5"/><circle cx="1602.8" cy="2293.2" r="3.5"/><circle cx="1606.6" cy="2295.2" r="3.5"/><circle cx="1615.5" cy="2294.0" r="3.5"/><circle cx="1621.6" cy="2294.3" r="3.5"/><circle cx="1609.8" cy="2298.4" r="3.5"/><circle cx="1614.3" cy="2298.5" r="3.5"/><circle cx="1622.4" cy="2297.8" r="3.5"/><circle cx="1596.8" cy="2301.1" r="3.5"/><circle cx="1601.7" cy="2301.5" r="3.5"/><circle cx="1606.7" cy="2301.2" r="3.5"/><circle cx="1611.0" cy="2302.8" r="3.5"/><circle cx="1616.0" cy="2302.6" r="3.5"/><circle cx="1620.9" cy="2302.8" r="3.5"/><circle cx="1626.5" cy="2302.0" r="3.5"/><circle cx="1599.1" cy="2305.5" r="3.5"/><circle cx="1604.1" cy="2305.9" r="3.5"/><circle cx="1609.7" cy="2306.3" r="3.5"/><circle cx="1614.1" cy="2306.3" r="3.5"/><circle cx="1623.5" cy="2306.4" r="3.5"/><circle cx="1627.9" cy="2306.1" r="3.5"/><circle cx="1592.9" cy="2309.5" r="3.5"/><circle cx="1597.2" cy="2310.0" r="3.5"/><circle cx="1611.3" cy="2310.1" r="3.5"/><circle cx="1616.4" cy="2309.6" r="3.5"/><circle cx="1621.8" cy="2310.4" r="3.5"/><circle cx="1626.6" cy="2309.3" r="3.5"/><circle cx="1593.8" cy="2313.7" r="3.5"/><circle cx="1598.9" cy="2313.9" r="3.5"/><circle cx="1604.0" cy="2313.4" r="3.5"/><circle cx="1613.8" cy="2313.6" r="3.5"/><circle cx="1618.3" cy="2313.4" r="3.5"/><circle cx="1623.5" cy="2313.8" r="3.5"/><circle cx="1628.1" cy="2313.9" r="3.5"/><circle cx="1632.3" cy="2314.0" r="3.5"/><circle cx="1588.1" cy="2316.9" r="3.5"/><circle cx="1591.8" cy="2317.9" r="3.5"/><circle cx="1597.3" cy="2317.7" r="3.5"/><circle cx="1607.6" cy="2317.5" r="3.5"/><circle cx="1610.7" cy="2316.7" r="3.5"/><circle cx="1616.3" cy="2317.1" r="3.5"/><circle cx="1620.3" cy="2317.9" r="3.5"/><circle cx="1631.4" cy="2318.2" r="3.5"/><circle cx="1634.5" cy="2317.6" r="3.5"/><circle cx="1589.7" cy="2322.0" r="3.5"/><circle cx="1594.0" cy="2320.8" r="3.5"/><circle cx="1599.9" cy="2322.1" r="3.5"/><circle cx="1603.5" cy="2320.8" r="3.5"/><circle cx="1614.0" cy="2322.3" r="3.5"/><circle cx="1619.0" cy="2321.2" r="3.5"/><circle cx="1623.3" cy="2320.8" r="3.5"/><circle cx="1628.2" cy="2322.5" r="3.5"/><circle cx="1633.9" cy="2321.8" r="3.5"/><circle cx="1636.8" cy="2322.5" r="3.5"/><circle cx="1588.0" cy="2326.1" r="3.5"/><circle cx="1592.6" cy="2325.7" r="3.5"/><circle cx="1597.1" cy="2326.3" r="3.5"/><circle cx="1602.4" cy="2324.5" r="3.5"/><circle cx="1606.6" cy="2325.5" r="3.5"/><circle cx="1611.4" cy="2325.5" r="3.5"/><circle cx="1616.5" cy="2325.6" r="3.5"/><circle cx="1620.6" cy="2326.1" r="3.5"/><circle cx="1626.2" cy="2324.9" r="3.5"/><circle cx="1635.2" cy="2325.1" r="3.5"/><circle cx="1585.5" cy="2328.8" r="3.5"/><circle cx="1590.3" cy="2329.2" r="3.5"/><circle cx="1593.8" cy="2329.7" r="3.5"/><circle cx="1600.0" cy="2328.5" r="3.5"/><circle cx="1603.5" cy="2329.4" r="3.5"/><circle cx="1608.5" cy="2329.4" r="3.5"/><circle cx="1614.4" cy="2328.6" r="3.5"/><circle cx="1619.1" cy="2328.8" r="3.5"/><circle cx="1624.0" cy="2329.4" r="3.5"/><circle cx="1628.9" cy="2330.2" r="3.5"/><circle cx="1632.8" cy="2329.2" r="3.5"/><circle cx="1638.5" cy="2329.1" r="3.5"/><circle cx="1587.3" cy="2333.5" r="3.5"/><circle cx="1592.2" cy="2334.0" r="3.5"/><circle cx="1596.7" cy="2332.6" r="3.5"/><circle cx="1601.8" cy="2333.7" r="3.5"/><circle cx="1606.6" cy="2333.1" r="3.5"/><circle cx="1616.8" cy="2332.7" r="3.5"/><circle cx="1620.0" cy="2332.5" r="3.5"/><circle cx="1625.9" cy="2333.3" r="3.5"/><circle cx="1630.3" cy="2333.5" r="3.5"/><circle cx="1635.6" cy="2333.6" r="3.5"/><circle cx="1640.7" cy="2333.8" r="3.5"/><circle cx="1594.5" cy="2336.4" r="3.5"/><circle cx="1599.3" cy="2337.7" r="3.5"/><circle cx="1604.8" cy="2337.8" r="3.5"/><circle cx="1613.2" cy="2337.5" r="3.5"/><circle cx="1618.1" cy="2337.7" r="3.5"/><circle cx="1624.1" cy="2337.9" r="3.5"/><circle cx="1627.5" cy="2337.7" r="3.5"/><circle cx="1632.2" cy="2337.9" r="3.5"/><circle cx="1637.3" cy="2336.9" r="3.5"/><circle cx="1591.6" cy="2340.6" r="3.5"/><circle cx="1596.5" cy="2341.5" r="3.5"/><circle cx="1602.0" cy="2341.8" r="3.5"/><circle cx="1606.2" cy="2341.3" r="3.5"/><circle cx="1612.4" cy="2340.4" r="3.5"/><circle cx="1621.4" cy="2341.9" r="3.5"/><circle cx="1625.5" cy="2340.9" r="3.5"/><circle cx="1631.2" cy="2341.3" r="3.5"/><circle cx="1599.7" cy="2345.5" r="3.5"/><circle cx="1604.9" cy="2345.0" r="3.5"/><circle cx="1608.3" cy="2345.1" r="3.5"/><circle cx="1613.5" cy="2345.0" r="3.5"/><circle cx="1618.1" cy="2344.1" r="3.5"/><circle cx="1624.1" cy="2344.4" r="3.5"/><circle cx="1627.5" cy="2345.1" r="3.5"/><circle cx="1601.2" cy="2349.4" r="3.5"/><circle cx="1605.8" cy="2348.0" r="3.5"/><circle cx="1610.6" cy="2349.3" r="3.5"/><circle cx="1615.8" cy="2348.0" r="3.5"/><circle cx="1620.7" cy="2349.7" r="3.5"/><circle cx="1609.1" cy="2352.6" r="3.5"/><circle cx="1614.0" cy="2353.6" r="3.5"/>
</g>
<path d="M1367.5 2280.7H1577.6" stroke="#8a8a8a" stroke-width="4.5" stroke-dasharray="4.5 4.5"/>
<path d="M1396.8 2176.4H1453.8" stroke="#e8432a" stroke-width="3.0" stroke-dasharray="9 5"/>
<path d="M1487.6 2215.0H1545.7" stroke="#e8432a" stroke-width="3.0" stroke-dasharray="9 5"/>
<path d="M1579.5 2281.8H1648.9" stroke="#e8432a" stroke-width="3.0" stroke-dasharray="9 5"/>
<path d="M1457.6 2173.0H1476.4V2260.0H1485.0L1467.0 2277.0L1449.0 2260.0H1457.6V2173.0Z" fill="#ff0000"/>
<path d="M1550.2 2211.3H1569.0V2261.0H1577.6L1559.6 2278.5L1541.6 2261.0H1550.2V2211.3Z" fill="#ff0000"/>
<text x="1439.7" y="2308.9" font-size="22.0" textLength="50.8" lengthAdjust="spacingAndGlyphs" fill="#ee1111">-5.52</text>
<text x="1542.8" y="2311.5" font-size="22.0" textLength="50.7" lengthAdjust="spacingAndGlyphs" fill="#ee1111">-3.48</text>
</svg>
<div id="frame"></div>
</div></body></html>
